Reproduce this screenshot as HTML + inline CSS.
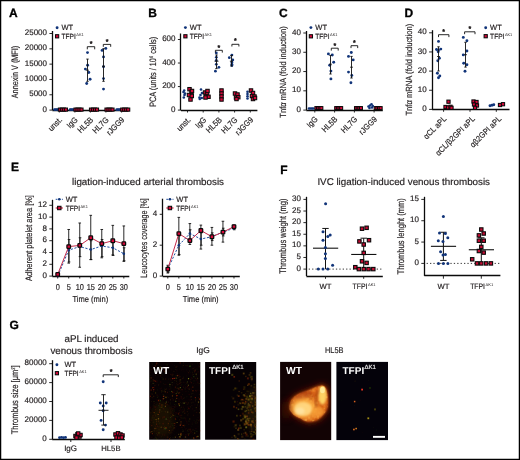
<!DOCTYPE html>
<html><head><meta charset="utf-8"><style>
html,body{margin:0;padding:0;background:#fff;}
svg{display:block;font-family:"Liberation Sans",sans-serif;will-change:transform;text-rendering:geometricPrecision;}
</style></head><body>
<svg width="520" height="460" viewBox="0 0 520 460">
<defs>
<filter id="blur05" x="-10%" y="-10%" width="120%" height="120%"><feGaussianBlur stdDeviation="0.45"/></filter>
<filter id="blur06" x="-10%" y="-10%" width="120%" height="120%"><feGaussianBlur stdDeviation="0.7"/></filter>
<filter id="blur1" x="-50%" y="-50%" width="200%" height="200%"><feGaussianBlur stdDeviation="1.2"/></filter>
<filter id="blur2" x="-50%" y="-50%" width="200%" height="200%"><feGaussianBlur stdDeviation="3"/></filter>
</defs>
<rect x="0" y="0" width="520" height="460" fill="#fff"/>
<text x="9.00" y="16.80" font-size="12.0" text-anchor="start" font-weight="bold" fill="#000" stroke="#000" stroke-width="0.3">A</text>
<text x="0.00" y="0.00" font-size="9.3" text-anchor="middle" font-weight="normal" fill="#231f20" stroke="#231f20" stroke-width="0.18" transform="translate(18.00,72.00) rotate(-90)" textLength="52.5" lengthAdjust="spacingAndGlyphs">Annexin V (MFI)</text>
<line x1="52.50" y1="31.00" x2="52.50" y2="110.10" stroke="#0a0a0a" stroke-width="1.3"/>
<line x1="49.40" y1="110.10" x2="52.40" y2="110.10" stroke="#111" stroke-width="0.9"/>
<text x="47.00" y="111.70" font-size="8.0" text-anchor="end" font-weight="normal" fill="#231f20" stroke="#231f20" stroke-width="0.18">0</text>
<line x1="49.40" y1="94.78" x2="52.40" y2="94.78" stroke="#111" stroke-width="0.9"/>
<text x="47.00" y="96.38" font-size="8.0" text-anchor="end" font-weight="normal" fill="#231f20" stroke="#231f20" stroke-width="0.18">5000</text>
<line x1="49.40" y1="79.46" x2="52.40" y2="79.46" stroke="#111" stroke-width="0.9"/>
<text x="47.00" y="81.06" font-size="8.0" text-anchor="end" font-weight="normal" fill="#231f20" stroke="#231f20" stroke-width="0.18">10000</text>
<line x1="49.40" y1="64.14" x2="52.40" y2="64.14" stroke="#111" stroke-width="0.9"/>
<text x="47.00" y="65.74" font-size="8.0" text-anchor="end" font-weight="normal" fill="#231f20" stroke="#231f20" stroke-width="0.18">15000</text>
<line x1="49.40" y1="48.82" x2="52.40" y2="48.82" stroke="#111" stroke-width="0.9"/>
<text x="47.00" y="50.42" font-size="8.0" text-anchor="end" font-weight="normal" fill="#231f20" stroke="#231f20" stroke-width="0.18">20000</text>
<line x1="49.40" y1="33.50" x2="52.40" y2="33.50" stroke="#111" stroke-width="0.9"/>
<text x="47.00" y="35.10" font-size="8.0" text-anchor="end" font-weight="normal" fill="#231f20" stroke="#231f20" stroke-width="0.18">25000</text>
<line x1="52.40" y1="110.50" x2="129.50" y2="110.50" stroke="#0a0a0a" stroke-width="1.3"/>
<line x1="59.30" y1="110.10" x2="59.30" y2="112.50" stroke="#111" stroke-width="0.9"/>
<line x1="74.90" y1="110.10" x2="74.90" y2="112.50" stroke="#111" stroke-width="0.9"/>
<line x1="90.40" y1="110.10" x2="90.40" y2="112.50" stroke="#111" stroke-width="0.9"/>
<line x1="105.90" y1="110.10" x2="105.90" y2="112.50" stroke="#111" stroke-width="0.9"/>
<line x1="121.60" y1="110.10" x2="121.60" y2="112.50" stroke="#111" stroke-width="0.9"/>
<circle cx="57.10" cy="27.80" r="1.45" fill="#113479"/>
<text x="61.50" y="30.40" font-size="7.5" text-anchor="start" font-weight="normal" fill="#231f20" stroke="#231f20" stroke-width="0.18">WT</text>
<rect x="55.50" y="34.70" width="3.2" height="3.2" fill="#d8083a" stroke="#0a0a0a" stroke-width="1.05"/>
<text x="61.50" y="38.90" font-size="7.5" text-anchor="start" font-weight="normal" fill="#231f20" stroke="#231f20" stroke-width="0.18" textLength="14.3" lengthAdjust="spacingAndGlyphs">TFPI</text>
<text x="76.30" y="36.00" font-size="3.9" text-anchor="start" font-weight="normal" fill="#231f20" stroke-width="0">ΔK1</text>
<circle cx="54.40" cy="109.60" r="1.3" fill="#113479"/>
<circle cx="55.50" cy="109.60" r="1.3" fill="#113479"/>
<circle cx="56.60" cy="109.60" r="1.3" fill="#113479"/>
<circle cx="57.70" cy="109.60" r="1.3" fill="#113479"/>
<rect x="58.35" y="108.05" width="3.1" height="3.1" fill="#d8083a" stroke="#0a0a0a" stroke-width="1.05"/>
<rect x="60.35" y="108.05" width="3.1" height="3.1" fill="#d8083a" stroke="#0a0a0a" stroke-width="1.05"/>
<rect x="62.35" y="108.05" width="3.1" height="3.1" fill="#d8083a" stroke="#0a0a0a" stroke-width="1.05"/>
<rect x="64.35" y="108.05" width="3.1" height="3.1" fill="#d8083a" stroke="#0a0a0a" stroke-width="1.05"/>
<circle cx="70.00" cy="109.60" r="1.3" fill="#113479"/>
<circle cx="71.10" cy="109.60" r="1.3" fill="#113479"/>
<circle cx="72.20" cy="109.60" r="1.3" fill="#113479"/>
<circle cx="73.30" cy="109.60" r="1.3" fill="#113479"/>
<rect x="73.95" y="108.05" width="3.1" height="3.1" fill="#d8083a" stroke="#0a0a0a" stroke-width="1.05"/>
<rect x="75.95" y="108.05" width="3.1" height="3.1" fill="#d8083a" stroke="#0a0a0a" stroke-width="1.05"/>
<rect x="77.95" y="108.05" width="3.1" height="3.1" fill="#d8083a" stroke="#0a0a0a" stroke-width="1.05"/>
<rect x="79.95" y="108.05" width="3.1" height="3.1" fill="#d8083a" stroke="#0a0a0a" stroke-width="1.05"/>
<rect x="89.45" y="108.05" width="3.1" height="3.1" fill="#d8083a" stroke="#0a0a0a" stroke-width="1.05"/>
<rect x="91.45" y="108.05" width="3.1" height="3.1" fill="#d8083a" stroke="#0a0a0a" stroke-width="1.05"/>
<rect x="93.45" y="108.05" width="3.1" height="3.1" fill="#d8083a" stroke="#0a0a0a" stroke-width="1.05"/>
<rect x="95.45" y="108.05" width="3.1" height="3.1" fill="#d8083a" stroke="#0a0a0a" stroke-width="1.05"/>
<rect x="104.95" y="108.05" width="3.1" height="3.1" fill="#d8083a" stroke="#0a0a0a" stroke-width="1.05"/>
<rect x="106.95" y="108.05" width="3.1" height="3.1" fill="#d8083a" stroke="#0a0a0a" stroke-width="1.05"/>
<rect x="108.95" y="108.05" width="3.1" height="3.1" fill="#d8083a" stroke="#0a0a0a" stroke-width="1.05"/>
<rect x="110.95" y="108.05" width="3.1" height="3.1" fill="#d8083a" stroke="#0a0a0a" stroke-width="1.05"/>
<circle cx="116.70" cy="109.60" r="1.3" fill="#113479"/>
<circle cx="117.80" cy="109.60" r="1.3" fill="#113479"/>
<circle cx="118.90" cy="109.60" r="1.3" fill="#113479"/>
<circle cx="120.00" cy="109.60" r="1.3" fill="#113479"/>
<rect x="120.65" y="108.05" width="3.1" height="3.1" fill="#d8083a" stroke="#0a0a0a" stroke-width="1.05"/>
<rect x="122.65" y="108.05" width="3.1" height="3.1" fill="#d8083a" stroke="#0a0a0a" stroke-width="1.05"/>
<rect x="124.65" y="108.05" width="3.1" height="3.1" fill="#d8083a" stroke="#0a0a0a" stroke-width="1.05"/>
<rect x="126.65" y="108.05" width="3.1" height="3.1" fill="#d8083a" stroke="#0a0a0a" stroke-width="1.05"/>
<circle cx="87.50" cy="52.60" r="1.45" fill="#113479"/>
<circle cx="87.60" cy="65.20" r="1.45" fill="#113479"/>
<circle cx="85.40" cy="69.10" r="1.45" fill="#113479"/>
<circle cx="88.80" cy="72.50" r="1.45" fill="#113479"/>
<circle cx="90.10" cy="79.30" r="1.45" fill="#113479"/>
<circle cx="86.70" cy="83.50" r="1.45" fill="#113479"/>
<line x1="87.50" y1="59.10" x2="87.50" y2="81.30" stroke="#111" stroke-width="0.9"/>
<line x1="86.30" y1="59.10" x2="88.70" y2="59.10" stroke="#111" stroke-width="0.9"/>
<line x1="86.30" y1="81.30" x2="88.70" y2="81.30" stroke="#111" stroke-width="0.9"/>
<line x1="86.10" y1="70.20" x2="88.90" y2="70.20" stroke="#111" stroke-width="0.9"/>
<circle cx="102.10" cy="50.40" r="1.45" fill="#113479"/>
<circle cx="105.80" cy="48.40" r="1.45" fill="#113479"/>
<circle cx="103.50" cy="56.90" r="1.45" fill="#113479"/>
<circle cx="103.50" cy="66.70" r="1.45" fill="#113479"/>
<circle cx="103.50" cy="78.60" r="1.45" fill="#113479"/>
<circle cx="103.50" cy="89.10" r="1.45" fill="#113479"/>
<line x1="103.50" y1="48.70" x2="103.50" y2="81.30" stroke="#111" stroke-width="0.9"/>
<line x1="102.30" y1="48.70" x2="104.70" y2="48.70" stroke="#111" stroke-width="0.9"/>
<line x1="102.30" y1="81.30" x2="104.70" y2="81.30" stroke="#111" stroke-width="0.9"/>
<line x1="102.10" y1="66.30" x2="104.90" y2="66.30" stroke="#111" stroke-width="0.9"/>
<path d="M87.30,49.30 V46.70 H94.70 V49.30" fill="none" stroke="#111" stroke-width="0.9"/>
<text x="91.00" y="46.09" font-size="7.0" text-anchor="middle" font-weight="normal" fill="#231f20" stroke="#231f20" stroke-width="0.45">*</text>
<path d="M103.30,46.80 V44.40 H110.70 V46.80" fill="none" stroke="#111" stroke-width="0.9"/>
<text x="107.10" y="43.59" font-size="7.0" text-anchor="middle" font-weight="normal" fill="#231f20" stroke="#231f20" stroke-width="0.45">*</text>
<text x="0.00" y="0.00" font-size="8.2" text-anchor="end" font-weight="normal" fill="#231f20" stroke="#231f20" stroke-width="0.18" transform="translate(62.70,120.40) rotate(-45)" textLength="16.0" lengthAdjust="spacingAndGlyphs">unst.</text>
<text x="0.00" y="0.00" font-size="8.2" text-anchor="end" font-weight="normal" fill="#231f20" stroke="#231f20" stroke-width="0.18" transform="translate(78.30,120.40) rotate(-45)" textLength="11.89" lengthAdjust="spacingAndGlyphs">IgG</text>
<text x="0.00" y="0.00" font-size="8.2" text-anchor="end" font-weight="normal" fill="#231f20" stroke="#231f20" stroke-width="0.18" transform="translate(93.80,120.40) rotate(-45)" textLength="18.46" lengthAdjust="spacingAndGlyphs">HL5B</text>
<text x="0.00" y="0.00" font-size="8.2" text-anchor="end" font-weight="normal" fill="#231f20" stroke="#231f20" stroke-width="0.18" transform="translate(109.30,120.40) rotate(-45)" textLength="19.28" lengthAdjust="spacingAndGlyphs">HL7G</text>
<text x="0.00" y="0.00" font-size="8.2" text-anchor="end" font-weight="normal" fill="#231f20" stroke="#231f20" stroke-width="0.18" transform="translate(125.00,120.40) rotate(-45)" textLength="21.73" lengthAdjust="spacingAndGlyphs">rJGG9</text>
<text x="148.30" y="16.80" font-size="12.0" text-anchor="start" font-weight="bold" fill="#000" stroke="#000" stroke-width="0.3">B</text>
<text x="0.00" y="0.00" font-size="9.3" text-anchor="middle" font-weight="normal" fill="#231f20" stroke="#231f20" stroke-width="0.18" transform="translate(155.60,71.80) rotate(-90)" textLength="70.0" lengthAdjust="spacingAndGlyphs">PCA (units / 10<tspan font-size="5" dy="-3">6</tspan><tspan dy="3"> cells)</tspan></text>
<line x1="180.50" y1="33.50" x2="180.50" y2="110.10" stroke="#0a0a0a" stroke-width="1.3"/>
<line x1="177.90" y1="110.10" x2="180.90" y2="110.10" stroke="#111" stroke-width="0.9"/>
<text x="175.50" y="111.70" font-size="8.0" text-anchor="end" font-weight="normal" fill="#231f20" stroke="#231f20" stroke-width="0.18">0</text>
<line x1="177.90" y1="86.57" x2="180.90" y2="86.57" stroke="#111" stroke-width="0.9"/>
<text x="175.50" y="88.17" font-size="8.0" text-anchor="end" font-weight="normal" fill="#231f20" stroke="#231f20" stroke-width="0.18">200</text>
<line x1="177.90" y1="63.03" x2="180.90" y2="63.03" stroke="#111" stroke-width="0.9"/>
<text x="175.50" y="64.63" font-size="8.0" text-anchor="end" font-weight="normal" fill="#231f20" stroke="#231f20" stroke-width="0.18">400</text>
<line x1="177.90" y1="39.50" x2="180.90" y2="39.50" stroke="#111" stroke-width="0.9"/>
<text x="175.50" y="41.10" font-size="8.0" text-anchor="end" font-weight="normal" fill="#231f20" stroke="#231f20" stroke-width="0.18">600</text>
<line x1="180.90" y1="110.50" x2="257.40" y2="110.50" stroke="#0a0a0a" stroke-width="1.3"/>
<line x1="187.50" y1="110.10" x2="187.50" y2="112.50" stroke="#111" stroke-width="0.9"/>
<line x1="203.20" y1="110.10" x2="203.20" y2="112.50" stroke="#111" stroke-width="0.9"/>
<line x1="218.90" y1="110.10" x2="218.90" y2="112.50" stroke="#111" stroke-width="0.9"/>
<line x1="234.60" y1="110.10" x2="234.60" y2="112.50" stroke="#111" stroke-width="0.9"/>
<line x1="250.30" y1="110.10" x2="250.30" y2="112.50" stroke="#111" stroke-width="0.9"/>
<circle cx="185.40" cy="27.60" r="1.45" fill="#113479"/>
<text x="189.80" y="30.20" font-size="7.5" text-anchor="start" font-weight="normal" fill="#231f20" stroke="#231f20" stroke-width="0.18">WT</text>
<rect x="183.80" y="34.70" width="3.2" height="3.2" fill="#d8083a" stroke="#0a0a0a" stroke-width="1.05"/>
<text x="189.80" y="38.90" font-size="7.5" text-anchor="start" font-weight="normal" fill="#231f20" stroke="#231f20" stroke-width="0.18" textLength="14.3" lengthAdjust="spacingAndGlyphs">TFPI</text>
<text x="204.60" y="36.00" font-size="3.9" text-anchor="start" font-weight="normal" fill="#231f20" stroke-width="0">ΔK1</text>
<circle cx="183.50" cy="92.00" r="1.3" fill="#113479"/>
<circle cx="184.50" cy="95.00" r="1.3" fill="#113479"/>
<circle cx="183.80" cy="97.50" r="1.3" fill="#113479"/>
<circle cx="185.00" cy="93.50" r="1.3" fill="#113479"/>
<circle cx="184.20" cy="90.50" r="1.3" fill="#113479"/>
<rect x="187.80" y="87.50" width="3.4" height="3.4" fill="#d8083a" stroke="#0a0a0a" stroke-width="1.05"/>
<rect x="189.80" y="90.30" width="3.4" height="3.4" fill="#d8083a" stroke="#0a0a0a" stroke-width="1.05"/>
<rect x="187.30" y="93.30" width="3.4" height="3.4" fill="#d8083a" stroke="#0a0a0a" stroke-width="1.05"/>
<rect x="190.10" y="94.30" width="3.4" height="3.4" fill="#d8083a" stroke="#0a0a0a" stroke-width="1.05"/>
<rect x="188.80" y="97.80" width="3.4" height="3.4" fill="#d8083a" stroke="#0a0a0a" stroke-width="1.05"/>
<rect x="190.30" y="89.30" width="3.4" height="3.4" fill="#d8083a" stroke="#0a0a0a" stroke-width="1.05"/>
<circle cx="199.50" cy="97.50" r="1.3" fill="#113479"/>
<circle cx="200.50" cy="95.00" r="1.3" fill="#113479"/>
<circle cx="201.80" cy="98.00" r="1.3" fill="#113479"/>
<circle cx="201.00" cy="89.50" r="1.3" fill="#113479"/>
<circle cx="202.00" cy="93.00" r="1.3" fill="#113479"/>
<circle cx="199.80" cy="99.00" r="1.3" fill="#113479"/>
<rect x="203.30" y="90.80" width="3.4" height="3.4" fill="#d8083a" stroke="#0a0a0a" stroke-width="1.05"/>
<rect x="205.30" y="91.80" width="3.4" height="3.4" fill="#d8083a" stroke="#0a0a0a" stroke-width="1.05"/>
<rect x="204.30" y="94.80" width="3.4" height="3.4" fill="#d8083a" stroke="#0a0a0a" stroke-width="1.05"/>
<rect x="206.80" y="95.10" width="3.4" height="3.4" fill="#d8083a" stroke="#0a0a0a" stroke-width="1.05"/>
<rect x="203.80" y="95.80" width="3.4" height="3.4" fill="#d8083a" stroke="#0a0a0a" stroke-width="1.05"/>
<rect x="205.80" y="89.30" width="3.4" height="3.4" fill="#d8083a" stroke="#0a0a0a" stroke-width="1.05"/>
<rect x="219.80" y="88.80" width="3.4" height="3.4" fill="#d8083a" stroke="#0a0a0a" stroke-width="1.05"/>
<rect x="219.80" y="91.80" width="3.4" height="3.4" fill="#d8083a" stroke="#0a0a0a" stroke-width="1.05"/>
<rect x="219.80" y="94.80" width="3.4" height="3.4" fill="#d8083a" stroke="#0a0a0a" stroke-width="1.05"/>
<rect x="219.80" y="97.80" width="3.4" height="3.4" fill="#d8083a" stroke="#0a0a0a" stroke-width="1.05"/>
<rect x="233.30" y="91.80" width="3.4" height="3.4" fill="#d8083a" stroke="#0a0a0a" stroke-width="1.05"/>
<rect x="235.80" y="92.80" width="3.4" height="3.4" fill="#d8083a" stroke="#0a0a0a" stroke-width="1.05"/>
<rect x="234.30" y="95.80" width="3.4" height="3.4" fill="#d8083a" stroke="#0a0a0a" stroke-width="1.05"/>
<rect x="236.60" y="95.50" width="3.4" height="3.4" fill="#d8083a" stroke="#0a0a0a" stroke-width="1.05"/>
<rect x="234.80" y="97.30" width="3.4" height="3.4" fill="#d8083a" stroke="#0a0a0a" stroke-width="1.05"/>
<circle cx="247.50" cy="91.80" r="1.3" fill="#113479"/>
<circle cx="247.50" cy="94.00" r="1.3" fill="#113479"/>
<circle cx="247.50" cy="96.30" r="1.3" fill="#113479"/>
<circle cx="247.50" cy="98.50" r="1.3" fill="#113479"/>
<rect x="249.30" y="88.80" width="3.4" height="3.4" fill="#d8083a" stroke="#0a0a0a" stroke-width="1.05"/>
<rect x="251.30" y="91.30" width="3.4" height="3.4" fill="#d8083a" stroke="#0a0a0a" stroke-width="1.05"/>
<rect x="250.30" y="94.30" width="3.4" height="3.4" fill="#d8083a" stroke="#0a0a0a" stroke-width="1.05"/>
<rect x="252.80" y="94.80" width="3.4" height="3.4" fill="#d8083a" stroke="#0a0a0a" stroke-width="1.05"/>
<rect x="251.30" y="97.30" width="3.4" height="3.4" fill="#d8083a" stroke="#0a0a0a" stroke-width="1.05"/>
<rect x="253.30" y="96.30" width="3.4" height="3.4" fill="#d8083a" stroke="#0a0a0a" stroke-width="1.05"/>
<circle cx="216.30" cy="53.00" r="1.4" fill="#113479"/>
<circle cx="216.30" cy="57.30" r="1.4" fill="#113479"/>
<circle cx="216.30" cy="60.50" r="1.4" fill="#113479"/>
<circle cx="216.30" cy="64.30" r="1.4" fill="#113479"/>
<circle cx="218.90" cy="67.30" r="1.4" fill="#113479"/>
<circle cx="215.40" cy="71.20" r="1.4" fill="#113479"/>
<line x1="216.50" y1="55.00" x2="216.50" y2="68.60" stroke="#111" stroke-width="0.9"/>
<line x1="215.30" y1="55.00" x2="217.70" y2="55.00" stroke="#111" stroke-width="0.9"/>
<line x1="215.30" y1="68.60" x2="217.70" y2="68.60" stroke="#111" stroke-width="0.9"/>
<line x1="214.50" y1="61.20" x2="218.50" y2="61.20" stroke="#111" stroke-width="0.9"/>
<circle cx="231.90" cy="55.10" r="1.4" fill="#113479"/>
<circle cx="229.30" cy="57.70" r="1.4" fill="#113479"/>
<circle cx="232.80" cy="59.90" r="1.4" fill="#113479"/>
<circle cx="231.90" cy="62.50" r="1.4" fill="#113479"/>
<circle cx="231.90" cy="64.30" r="1.4" fill="#113479"/>
<circle cx="231.90" cy="65.60" r="1.4" fill="#113479"/>
<line x1="231.50" y1="55.50" x2="231.50" y2="66.00" stroke="#111" stroke-width="0.9"/>
<line x1="230.30" y1="55.50" x2="232.70" y2="55.50" stroke="#111" stroke-width="0.9"/>
<line x1="230.30" y1="66.00" x2="232.70" y2="66.00" stroke="#111" stroke-width="0.9"/>
<line x1="229.90" y1="61.20" x2="233.10" y2="61.20" stroke="#111" stroke-width="0.9"/>
<path d="M215.40,52.60 V50.30 H222.30 V52.60" fill="none" stroke="#111" stroke-width="0.9"/>
<text x="218.90" y="49.99" font-size="7.0" text-anchor="middle" font-weight="normal" fill="#231f20" stroke="#231f20" stroke-width="0.45">*</text>
<path d="M231.90,46.50 V44.30 H238.90 V46.50" fill="none" stroke="#111" stroke-width="0.9"/>
<text x="235.40" y="43.49" font-size="7.0" text-anchor="middle" font-weight="normal" fill="#231f20" stroke="#231f20" stroke-width="0.45">*</text>
<text x="0.00" y="0.00" font-size="8.2" text-anchor="end" font-weight="normal" fill="#231f20" stroke="#231f20" stroke-width="0.18" transform="translate(191.20,120.40) rotate(-45)" textLength="16.0" lengthAdjust="spacingAndGlyphs">unst.</text>
<text x="0.00" y="0.00" font-size="8.2" text-anchor="end" font-weight="normal" fill="#231f20" stroke="#231f20" stroke-width="0.18" transform="translate(206.90,120.40) rotate(-45)" textLength="11.89" lengthAdjust="spacingAndGlyphs">IgG</text>
<text x="0.00" y="0.00" font-size="8.2" text-anchor="end" font-weight="normal" fill="#231f20" stroke="#231f20" stroke-width="0.18" transform="translate(222.40,120.40) rotate(-45)" textLength="18.46" lengthAdjust="spacingAndGlyphs">HL5B</text>
<text x="0.00" y="0.00" font-size="8.2" text-anchor="end" font-weight="normal" fill="#231f20" stroke="#231f20" stroke-width="0.18" transform="translate(238.00,120.40) rotate(-45)" textLength="19.28" lengthAdjust="spacingAndGlyphs">HL7G</text>
<text x="0.00" y="0.00" font-size="8.2" text-anchor="end" font-weight="normal" fill="#231f20" stroke="#231f20" stroke-width="0.18" transform="translate(253.80,120.40) rotate(-45)" textLength="21.73" lengthAdjust="spacingAndGlyphs">rJGG9</text>
<text x="279.10" y="16.80" font-size="12.0" text-anchor="start" font-weight="bold" fill="#000" stroke="#000" stroke-width="0.3">C</text>
<text x="0.00" y="0.00" font-size="8.9" text-anchor="middle" font-weight="normal" fill="#231f20" stroke="#231f20" stroke-width="0.18" transform="translate(286.00,72.00) rotate(-90)" textLength="91.4" lengthAdjust="spacingAndGlyphs">Tnf<tspan font-style="italic">α</tspan> mRNA (fold induction)</text>
<line x1="306.50" y1="31.00" x2="306.50" y2="110.10" stroke="#0a0a0a" stroke-width="1.3"/>
<line x1="303.30" y1="110.10" x2="306.30" y2="110.10" stroke="#111" stroke-width="0.9"/>
<text x="300.90" y="111.70" font-size="8.0" text-anchor="end" font-weight="normal" fill="#231f20" stroke="#231f20" stroke-width="0.18">0</text>
<line x1="303.30" y1="90.82" x2="306.30" y2="90.82" stroke="#111" stroke-width="0.9"/>
<text x="300.90" y="92.42" font-size="8.0" text-anchor="end" font-weight="normal" fill="#231f20" stroke="#231f20" stroke-width="0.18">10</text>
<line x1="303.30" y1="71.55" x2="306.30" y2="71.55" stroke="#111" stroke-width="0.9"/>
<text x="300.90" y="73.15" font-size="8.0" text-anchor="end" font-weight="normal" fill="#231f20" stroke="#231f20" stroke-width="0.18">20</text>
<line x1="303.30" y1="52.27" x2="306.30" y2="52.27" stroke="#111" stroke-width="0.9"/>
<text x="300.90" y="53.88" font-size="8.0" text-anchor="end" font-weight="normal" fill="#231f20" stroke="#231f20" stroke-width="0.18">30</text>
<line x1="303.30" y1="33.00" x2="306.30" y2="33.00" stroke="#111" stroke-width="0.9"/>
<text x="300.90" y="34.60" font-size="8.0" text-anchor="end" font-weight="normal" fill="#231f20" stroke="#231f20" stroke-width="0.18">40</text>
<line x1="306.30" y1="110.50" x2="382.80" y2="110.50" stroke="#0a0a0a" stroke-width="1.3"/>
<line x1="314.80" y1="110.10" x2="314.80" y2="112.50" stroke="#111" stroke-width="0.9"/>
<line x1="334.60" y1="110.10" x2="334.60" y2="112.50" stroke="#111" stroke-width="0.9"/>
<line x1="354.40" y1="110.10" x2="354.40" y2="112.50" stroke="#111" stroke-width="0.9"/>
<line x1="374.10" y1="110.10" x2="374.10" y2="112.50" stroke="#111" stroke-width="0.9"/>
<circle cx="310.90" cy="27.60" r="1.45" fill="#113479"/>
<text x="315.30" y="30.20" font-size="7.5" text-anchor="start" font-weight="normal" fill="#231f20" stroke="#231f20" stroke-width="0.18">WT</text>
<rect x="309.30" y="34.70" width="3.2" height="3.2" fill="#d8083a" stroke="#0a0a0a" stroke-width="1.05"/>
<text x="315.30" y="38.90" font-size="7.5" text-anchor="start" font-weight="normal" fill="#231f20" stroke="#231f20" stroke-width="0.18" textLength="14.3" lengthAdjust="spacingAndGlyphs">TFPI</text>
<text x="330.10" y="36.00" font-size="3.9" text-anchor="start" font-weight="normal" fill="#231f20" stroke-width="0">ΔK1</text>
<circle cx="309.00" cy="108.50" r="1.3" fill="#113479"/>
<circle cx="310.50" cy="108.50" r="1.3" fill="#113479"/>
<circle cx="312.00" cy="108.50" r="1.3" fill="#113479"/>
<circle cx="313.40" cy="108.50" r="1.3" fill="#113479"/>
<rect x="314.90" y="106.60" width="3.0" height="3.0" fill="#d8083a" stroke="#0a0a0a" stroke-width="1.05"/>
<rect x="316.55" y="106.60" width="3.0" height="3.0" fill="#d8083a" stroke="#0a0a0a" stroke-width="1.05"/>
<rect x="318.20" y="106.60" width="3.0" height="3.0" fill="#d8083a" stroke="#0a0a0a" stroke-width="1.05"/>
<rect x="319.85" y="106.60" width="3.0" height="3.0" fill="#d8083a" stroke="#0a0a0a" stroke-width="1.05"/>
<rect x="334.70" y="106.60" width="3.0" height="3.0" fill="#d8083a" stroke="#0a0a0a" stroke-width="1.05"/>
<rect x="336.35" y="106.60" width="3.0" height="3.0" fill="#d8083a" stroke="#0a0a0a" stroke-width="1.05"/>
<rect x="338.00" y="106.60" width="3.0" height="3.0" fill="#d8083a" stroke="#0a0a0a" stroke-width="1.05"/>
<rect x="339.65" y="106.60" width="3.0" height="3.0" fill="#d8083a" stroke="#0a0a0a" stroke-width="1.05"/>
<rect x="354.50" y="106.60" width="3.0" height="3.0" fill="#d8083a" stroke="#0a0a0a" stroke-width="1.05"/>
<rect x="356.15" y="106.60" width="3.0" height="3.0" fill="#d8083a" stroke="#0a0a0a" stroke-width="1.05"/>
<rect x="357.80" y="106.60" width="3.0" height="3.0" fill="#d8083a" stroke="#0a0a0a" stroke-width="1.05"/>
<rect x="359.45" y="106.60" width="3.0" height="3.0" fill="#d8083a" stroke="#0a0a0a" stroke-width="1.05"/>
<rect x="374.20" y="106.60" width="3.0" height="3.0" fill="#d8083a" stroke="#0a0a0a" stroke-width="1.05"/>
<rect x="375.85" y="106.60" width="3.0" height="3.0" fill="#d8083a" stroke="#0a0a0a" stroke-width="1.05"/>
<rect x="377.50" y="106.60" width="3.0" height="3.0" fill="#d8083a" stroke="#0a0a0a" stroke-width="1.05"/>
<rect x="379.15" y="106.60" width="3.0" height="3.0" fill="#d8083a" stroke="#0a0a0a" stroke-width="1.05"/>
<circle cx="368.50" cy="106.50" r="1.3" fill="#113479"/>
<circle cx="370.00" cy="105.50" r="1.3" fill="#113479"/>
<circle cx="371.50" cy="104.30" r="1.3" fill="#113479"/>
<circle cx="369.50" cy="108.00" r="1.3" fill="#113479"/>
<circle cx="372.00" cy="107.50" r="1.3" fill="#113479"/>
<circle cx="372.80" cy="106.00" r="1.3" fill="#113479"/>
<circle cx="328.40" cy="53.90" r="1.45" fill="#113479"/>
<circle cx="332.30" cy="55.00" r="1.45" fill="#113479"/>
<circle cx="333.70" cy="62.30" r="1.45" fill="#113479"/>
<circle cx="329.70" cy="65.20" r="1.45" fill="#113479"/>
<circle cx="330.90" cy="71.10" r="1.45" fill="#113479"/>
<circle cx="330.90" cy="78.90" r="1.45" fill="#113479"/>
<line x1="330.50" y1="55.40" x2="330.50" y2="74.00" stroke="#111" stroke-width="0.9"/>
<line x1="329.30" y1="55.40" x2="331.70" y2="55.40" stroke="#111" stroke-width="0.9"/>
<line x1="329.30" y1="74.00" x2="331.70" y2="74.00" stroke="#111" stroke-width="0.9"/>
<line x1="329.10" y1="64.20" x2="331.90" y2="64.20" stroke="#111" stroke-width="0.9"/>
<circle cx="351.30" cy="52.50" r="1.45" fill="#113479"/>
<circle cx="348.50" cy="56.40" r="1.45" fill="#113479"/>
<circle cx="353.20" cy="59.90" r="1.45" fill="#113479"/>
<circle cx="348.50" cy="72.10" r="1.45" fill="#113479"/>
<circle cx="351.80" cy="75.40" r="1.45" fill="#113479"/>
<circle cx="350.90" cy="82.80" r="1.45" fill="#113479"/>
<line x1="351.50" y1="56.40" x2="351.50" y2="78.00" stroke="#111" stroke-width="0.9"/>
<line x1="350.30" y1="56.40" x2="352.70" y2="56.40" stroke="#111" stroke-width="0.9"/>
<line x1="350.30" y1="78.00" x2="352.70" y2="78.00" stroke="#111" stroke-width="0.9"/>
<line x1="350.10" y1="67.20" x2="352.90" y2="67.20" stroke="#111" stroke-width="0.9"/>
<path d="M331.30,50.60 V48.20 H338.20 V50.60" fill="none" stroke="#111" stroke-width="0.9"/>
<text x="334.80" y="47.59" font-size="7.0" text-anchor="middle" font-weight="normal" fill="#231f20" stroke="#231f20" stroke-width="0.45">*</text>
<path d="M351.00,48.10 V45.70 H357.70 V48.10" fill="none" stroke="#111" stroke-width="0.9"/>
<text x="354.40" y="45.19" font-size="7.0" text-anchor="middle" font-weight="normal" fill="#231f20" stroke="#231f20" stroke-width="0.45">*</text>
<text x="0.00" y="0.00" font-size="8.2" text-anchor="end" font-weight="normal" fill="#231f20" stroke="#231f20" stroke-width="0.18" transform="translate(318.30,119.80) rotate(-45)" textLength="11.89" lengthAdjust="spacingAndGlyphs">IgG</text>
<text x="0.00" y="0.00" font-size="8.2" text-anchor="end" font-weight="normal" fill="#231f20" stroke="#231f20" stroke-width="0.18" transform="translate(338.10,119.80) rotate(-45)" textLength="18.46" lengthAdjust="spacingAndGlyphs">HL5B</text>
<text x="0.00" y="0.00" font-size="8.2" text-anchor="end" font-weight="normal" fill="#231f20" stroke="#231f20" stroke-width="0.18" transform="translate(357.90,119.80) rotate(-45)" textLength="19.28" lengthAdjust="spacingAndGlyphs">HL7G</text>
<text x="0.00" y="0.00" font-size="8.2" text-anchor="end" font-weight="normal" fill="#231f20" stroke="#231f20" stroke-width="0.18" transform="translate(377.60,119.80) rotate(-45)" textLength="21.73" lengthAdjust="spacingAndGlyphs">rJGG9</text>
<text x="404.60" y="16.80" font-size="12.0" text-anchor="start" font-weight="bold" fill="#000" stroke="#000" stroke-width="0.3">D</text>
<text x="0.00" y="0.00" font-size="8.9" text-anchor="middle" font-weight="normal" fill="#231f20" stroke="#231f20" stroke-width="0.18" transform="translate(411.50,69.70) rotate(-90)" textLength="91.8" lengthAdjust="spacingAndGlyphs">Tnf<tspan font-style="italic">α</tspan> mRNA (fold induction)</text>
<line x1="432.50" y1="30.20" x2="432.50" y2="109.40" stroke="#0a0a0a" stroke-width="1.3"/>
<line x1="429.10" y1="109.40" x2="432.10" y2="109.40" stroke="#111" stroke-width="0.9"/>
<text x="426.70" y="111.00" font-size="8.0" text-anchor="end" font-weight="normal" fill="#231f20" stroke="#231f20" stroke-width="0.18">0</text>
<line x1="429.10" y1="90.25" x2="432.10" y2="90.25" stroke="#111" stroke-width="0.9"/>
<text x="426.70" y="91.85" font-size="8.0" text-anchor="end" font-weight="normal" fill="#231f20" stroke="#231f20" stroke-width="0.18">10</text>
<line x1="429.10" y1="71.10" x2="432.10" y2="71.10" stroke="#111" stroke-width="0.9"/>
<text x="426.70" y="72.70" font-size="8.0" text-anchor="end" font-weight="normal" fill="#231f20" stroke="#231f20" stroke-width="0.18">20</text>
<line x1="429.10" y1="51.95" x2="432.10" y2="51.95" stroke="#111" stroke-width="0.9"/>
<text x="426.70" y="53.55" font-size="8.0" text-anchor="end" font-weight="normal" fill="#231f20" stroke="#231f20" stroke-width="0.18">30</text>
<line x1="429.10" y1="32.80" x2="432.10" y2="32.80" stroke="#111" stroke-width="0.9"/>
<text x="426.70" y="34.40" font-size="8.0" text-anchor="end" font-weight="normal" fill="#231f20" stroke="#231f20" stroke-width="0.18">40</text>
<line x1="432.10" y1="109.50" x2="509.50" y2="109.50" stroke="#0a0a0a" stroke-width="1.3"/>
<line x1="443.60" y1="109.40" x2="443.60" y2="111.80" stroke="#111" stroke-width="0.9"/>
<line x1="470.00" y1="109.40" x2="470.00" y2="111.80" stroke="#111" stroke-width="0.9"/>
<line x1="496.30" y1="109.40" x2="496.30" y2="111.80" stroke="#111" stroke-width="0.9"/>
<circle cx="485.70" cy="27.70" r="1.45" fill="#113479"/>
<text x="490.10" y="30.30" font-size="7.5" text-anchor="start" font-weight="normal" fill="#231f20" stroke="#231f20" stroke-width="0.18">WT</text>
<rect x="484.10" y="34.60" width="3.2" height="3.2" fill="#d8083a" stroke="#0a0a0a" stroke-width="1.05"/>
<text x="490.10" y="38.80" font-size="7.5" text-anchor="start" font-weight="normal" fill="#231f20" stroke="#231f20" stroke-width="0.18" textLength="14.3" lengthAdjust="spacingAndGlyphs">TFPI</text>
<text x="504.90" y="35.90" font-size="3.9" text-anchor="start" font-weight="normal" fill="#231f20" stroke-width="0">ΔK1</text>
<circle cx="438.50" cy="41.40" r="1.45" fill="#113479"/>
<circle cx="436.50" cy="49.50" r="1.45" fill="#113479"/>
<circle cx="438.50" cy="50.10" r="1.45" fill="#113479"/>
<circle cx="440.80" cy="49.10" r="1.45" fill="#113479"/>
<circle cx="438.20" cy="51.70" r="1.45" fill="#113479"/>
<circle cx="439.40" cy="58.20" r="1.45" fill="#113479"/>
<circle cx="437.80" cy="60.80" r="1.45" fill="#113479"/>
<circle cx="437.40" cy="73.30" r="1.45" fill="#113479"/>
<circle cx="439.80" cy="76.00" r="1.45" fill="#113479"/>
<circle cx="438.50" cy="77.80" r="1.45" fill="#113479"/>
<line x1="438.50" y1="46.80" x2="438.50" y2="71.00" stroke="#111" stroke-width="0.9"/>
<line x1="437.30" y1="46.80" x2="439.70" y2="46.80" stroke="#111" stroke-width="0.9"/>
<line x1="437.30" y1="71.00" x2="439.70" y2="71.00" stroke="#111" stroke-width="0.9"/>
<line x1="437.10" y1="56.50" x2="439.90" y2="56.50" stroke="#111" stroke-width="0.9"/>
<rect x="446.90" y="100.10" width="3.2" height="3.2" fill="#d8083a" stroke="#0a0a0a" stroke-width="1.05"/>
<rect x="443.90" y="105.40" width="3.2" height="3.2" fill="#d8083a" stroke="#0a0a0a" stroke-width="1.05"/>
<rect x="446.40" y="105.90" width="3.2" height="3.2" fill="#d8083a" stroke="#0a0a0a" stroke-width="1.05"/>
<rect x="448.90" y="105.20" width="3.2" height="3.2" fill="#d8083a" stroke="#0a0a0a" stroke-width="1.05"/>
<rect x="449.90" y="106.20" width="3.2" height="3.2" fill="#d8083a" stroke="#0a0a0a" stroke-width="1.05"/>
<circle cx="463.30" cy="37.40" r="1.45" fill="#113479"/>
<circle cx="466.90" cy="40.70" r="1.45" fill="#113479"/>
<circle cx="466.90" cy="51.00" r="1.45" fill="#113479"/>
<circle cx="463.30" cy="54.90" r="1.45" fill="#113479"/>
<circle cx="463.70" cy="63.20" r="1.45" fill="#113479"/>
<circle cx="466.90" cy="64.70" r="1.45" fill="#113479"/>
<circle cx="465.00" cy="71.30" r="1.45" fill="#113479"/>
<line x1="465.50" y1="42.30" x2="465.50" y2="67.10" stroke="#111" stroke-width="0.9"/>
<line x1="464.30" y1="42.30" x2="466.70" y2="42.30" stroke="#111" stroke-width="0.9"/>
<line x1="464.30" y1="67.10" x2="466.70" y2="67.10" stroke="#111" stroke-width="0.9"/>
<line x1="464.10" y1="54.70" x2="466.90" y2="54.70" stroke="#111" stroke-width="0.9"/>
<rect x="471.90" y="99.90" width="3.2" height="3.2" fill="#d8083a" stroke="#0a0a0a" stroke-width="1.05"/>
<rect x="474.90" y="100.40" width="3.2" height="3.2" fill="#d8083a" stroke="#0a0a0a" stroke-width="1.05"/>
<rect x="472.40" y="102.90" width="3.2" height="3.2" fill="#d8083a" stroke="#0a0a0a" stroke-width="1.05"/>
<rect x="475.40" y="103.90" width="3.2" height="3.2" fill="#d8083a" stroke="#0a0a0a" stroke-width="1.05"/>
<rect x="473.40" y="106.20" width="3.2" height="3.2" fill="#d8083a" stroke="#0a0a0a" stroke-width="1.05"/>
<circle cx="490.00" cy="105.80" r="1.45" fill="#113479"/>
<circle cx="492.00" cy="105.30" r="1.45" fill="#113479"/>
<circle cx="493.80" cy="104.80" r="1.45" fill="#113479"/>
<rect x="498.40" y="103.40" width="3.2" height="3.2" fill="#d8083a" stroke="#0a0a0a" stroke-width="1.05"/>
<rect x="501.40" y="102.60" width="3.2" height="3.2" fill="#d8083a" stroke="#0a0a0a" stroke-width="1.05"/>
<path d="M438.50,37.10 V34.70 H448.90 V37.10" fill="none" stroke="#111" stroke-width="0.9"/>
<text x="443.70" y="34.09" font-size="7.0" text-anchor="middle" font-weight="normal" fill="#231f20" stroke="#231f20" stroke-width="0.45">*</text>
<path d="M464.60,34.20 V31.80 H475.00 V34.20" fill="none" stroke="#111" stroke-width="0.9"/>
<text x="469.80" y="30.89" font-size="7.0" text-anchor="middle" font-weight="normal" fill="#231f20" stroke="#231f20" stroke-width="0.45">*</text>
<text x="0.00" y="0.00" font-size="8.2" text-anchor="end" font-weight="normal" fill="#231f20" stroke="#231f20" stroke-width="0.18" transform="translate(447.00,119.40) rotate(-45)" textLength="28.61" lengthAdjust="spacingAndGlyphs">αCL aPL</text>
<text x="0.00" y="0.00" font-size="8.2" text-anchor="end" font-weight="normal" fill="#231f20" stroke="#231f20" stroke-width="0.18" transform="translate(475.40,119.40) rotate(-45)" textLength="51.99" lengthAdjust="spacingAndGlyphs">αCL/β2GPI aPL</text>
<text x="0.00" y="0.00" font-size="8.2" text-anchor="end" font-weight="normal" fill="#231f20" stroke="#231f20" stroke-width="0.18" transform="translate(501.80,119.40) rotate(-45)" textLength="40.51" lengthAdjust="spacingAndGlyphs">αβ2GPI aPL</text>
<text x="10.90" y="170.60" font-size="12.0" text-anchor="start" font-weight="bold" fill="#000" stroke="#000" stroke-width="0.3">E</text>
<text x="148.00" y="185.00" font-size="9.8" text-anchor="middle" font-weight="normal" fill="#231f20" stroke="#231f20" stroke-width="0.18">ligation-induced arterial thrombosis</text>
<line x1="52.50" y1="199.80" x2="52.50" y2="276.10" stroke="#0a0a0a" stroke-width="1.3"/>
<line x1="49.30" y1="276.10" x2="52.30" y2="276.10" stroke="#111" stroke-width="0.9"/>
<text x="46.90" y="277.70" font-size="8.0" text-anchor="end" font-weight="normal" fill="#231f20" stroke="#231f20" stroke-width="0.18">0</text>
<line x1="49.30" y1="264.30" x2="52.30" y2="264.30" stroke="#111" stroke-width="0.9"/>
<text x="46.90" y="265.90" font-size="8.0" text-anchor="end" font-weight="normal" fill="#231f20" stroke="#231f20" stroke-width="0.18">2</text>
<line x1="49.30" y1="252.50" x2="52.30" y2="252.50" stroke="#111" stroke-width="0.9"/>
<text x="46.90" y="254.10" font-size="8.0" text-anchor="end" font-weight="normal" fill="#231f20" stroke="#231f20" stroke-width="0.18">4</text>
<line x1="49.30" y1="240.70" x2="52.30" y2="240.70" stroke="#111" stroke-width="0.9"/>
<text x="46.90" y="242.30" font-size="8.0" text-anchor="end" font-weight="normal" fill="#231f20" stroke="#231f20" stroke-width="0.18">6</text>
<line x1="49.30" y1="228.90" x2="52.30" y2="228.90" stroke="#111" stroke-width="0.9"/>
<text x="46.90" y="230.50" font-size="8.0" text-anchor="end" font-weight="normal" fill="#231f20" stroke="#231f20" stroke-width="0.18">8</text>
<line x1="49.30" y1="217.10" x2="52.30" y2="217.10" stroke="#111" stroke-width="0.9"/>
<text x="46.90" y="218.70" font-size="8.0" text-anchor="end" font-weight="normal" fill="#231f20" stroke="#231f20" stroke-width="0.18">10</text>
<line x1="49.30" y1="205.30" x2="52.30" y2="205.30" stroke="#111" stroke-width="0.9"/>
<text x="46.90" y="206.90" font-size="8.0" text-anchor="end" font-weight="normal" fill="#231f20" stroke="#231f20" stroke-width="0.18">12</text>
<line x1="52.30" y1="276.50" x2="129.30" y2="276.50" stroke="#0a0a0a" stroke-width="1.3"/>
<line x1="57.70" y1="276.10" x2="57.70" y2="278.50" stroke="#111" stroke-width="0.9"/>
<text x="57.70" y="289.70" font-size="8.5" text-anchor="middle" font-weight="normal" fill="#231f20" stroke="#231f20" stroke-width="0.18" textLength="4.11" lengthAdjust="spacingAndGlyphs">0</text>
<line x1="68.72" y1="276.10" x2="68.72" y2="278.50" stroke="#111" stroke-width="0.9"/>
<text x="68.72" y="289.70" font-size="8.5" text-anchor="middle" font-weight="normal" fill="#231f20" stroke="#231f20" stroke-width="0.18" textLength="4.11" lengthAdjust="spacingAndGlyphs">5</text>
<line x1="79.74" y1="276.10" x2="79.74" y2="278.50" stroke="#111" stroke-width="0.9"/>
<text x="79.74" y="289.70" font-size="8.5" text-anchor="middle" font-weight="normal" fill="#231f20" stroke="#231f20" stroke-width="0.18" textLength="8.22" lengthAdjust="spacingAndGlyphs">10</text>
<line x1="90.76" y1="276.10" x2="90.76" y2="278.50" stroke="#111" stroke-width="0.9"/>
<text x="90.76" y="289.70" font-size="8.5" text-anchor="middle" font-weight="normal" fill="#231f20" stroke="#231f20" stroke-width="0.18" textLength="8.22" lengthAdjust="spacingAndGlyphs">15</text>
<line x1="101.78" y1="276.10" x2="101.78" y2="278.50" stroke="#111" stroke-width="0.9"/>
<text x="101.78" y="289.70" font-size="8.5" text-anchor="middle" font-weight="normal" fill="#231f20" stroke="#231f20" stroke-width="0.18" textLength="8.22" lengthAdjust="spacingAndGlyphs">20</text>
<line x1="112.80" y1="276.10" x2="112.80" y2="278.50" stroke="#111" stroke-width="0.9"/>
<text x="112.80" y="289.70" font-size="8.5" text-anchor="middle" font-weight="normal" fill="#231f20" stroke="#231f20" stroke-width="0.18" textLength="8.22" lengthAdjust="spacingAndGlyphs">25</text>
<line x1="123.82" y1="276.10" x2="123.82" y2="278.50" stroke="#111" stroke-width="0.9"/>
<text x="123.82" y="289.70" font-size="8.5" text-anchor="middle" font-weight="normal" fill="#231f20" stroke="#231f20" stroke-width="0.18" textLength="8.22" lengthAdjust="spacingAndGlyphs">30</text>
<text x="90.30" y="302.10" font-size="8.6" text-anchor="middle" font-weight="normal" fill="#231f20" stroke="#231f20" stroke-width="0.18" textLength="35.8" lengthAdjust="spacingAndGlyphs">Time (min)</text>
<text x="0.00" y="0.00" font-size="9.3" text-anchor="middle" font-weight="normal" fill="#231f20" stroke="#231f20" stroke-width="0.18" transform="translate(32.00,238.00) rotate(-90)" textLength="85.8" lengthAdjust="spacingAndGlyphs">Adherent platelet area [%]</text>
<line x1="69.02" y1="261.94" x2="69.02" y2="239.52" stroke="#111" stroke-width="0.9"/>
<line x1="67.72" y1="261.94" x2="70.32" y2="261.94" stroke="#111" stroke-width="0.9"/>
<line x1="67.72" y1="239.52" x2="70.32" y2="239.52" stroke="#111" stroke-width="0.9"/>
<line x1="68.72" y1="263.12" x2="68.72" y2="229.49" stroke="#111" stroke-width="0.9"/>
<line x1="67.42" y1="263.12" x2="70.02" y2="263.12" stroke="#111" stroke-width="0.9"/>
<line x1="67.42" y1="229.49" x2="70.02" y2="229.49" stroke="#111" stroke-width="0.9"/>
<line x1="80.04" y1="256.63" x2="80.04" y2="237.75" stroke="#111" stroke-width="0.9"/>
<line x1="78.74" y1="256.63" x2="81.34" y2="256.63" stroke="#111" stroke-width="0.9"/>
<line x1="78.74" y1="237.75" x2="81.34" y2="237.75" stroke="#111" stroke-width="0.9"/>
<line x1="79.74" y1="267.25" x2="79.74" y2="223.00" stroke="#111" stroke-width="0.9"/>
<line x1="78.44" y1="267.25" x2="81.04" y2="267.25" stroke="#111" stroke-width="0.9"/>
<line x1="78.44" y1="223.00" x2="81.04" y2="223.00" stroke="#111" stroke-width="0.9"/>
<line x1="91.06" y1="259.58" x2="91.06" y2="240.70" stroke="#111" stroke-width="0.9"/>
<line x1="89.76" y1="259.58" x2="92.36" y2="259.58" stroke="#111" stroke-width="0.9"/>
<line x1="89.76" y1="240.70" x2="92.36" y2="240.70" stroke="#111" stroke-width="0.9"/>
<line x1="90.76" y1="259.58" x2="90.76" y2="215.33" stroke="#111" stroke-width="0.9"/>
<line x1="89.46" y1="259.58" x2="92.06" y2="259.58" stroke="#111" stroke-width="0.9"/>
<line x1="89.46" y1="215.33" x2="92.06" y2="215.33" stroke="#111" stroke-width="0.9"/>
<line x1="102.08" y1="256.63" x2="102.08" y2="239.52" stroke="#111" stroke-width="0.9"/>
<line x1="100.78" y1="256.63" x2="103.38" y2="256.63" stroke="#111" stroke-width="0.9"/>
<line x1="100.78" y1="239.52" x2="103.38" y2="239.52" stroke="#111" stroke-width="0.9"/>
<line x1="101.78" y1="257.81" x2="101.78" y2="229.49" stroke="#111" stroke-width="0.9"/>
<line x1="100.48" y1="257.81" x2="103.08" y2="257.81" stroke="#111" stroke-width="0.9"/>
<line x1="100.48" y1="229.49" x2="103.08" y2="229.49" stroke="#111" stroke-width="0.9"/>
<line x1="113.10" y1="255.45" x2="113.10" y2="240.70" stroke="#111" stroke-width="0.9"/>
<line x1="111.80" y1="255.45" x2="114.40" y2="255.45" stroke="#111" stroke-width="0.9"/>
<line x1="111.80" y1="240.70" x2="114.40" y2="240.70" stroke="#111" stroke-width="0.9"/>
<line x1="112.80" y1="254.86" x2="112.80" y2="225.36" stroke="#111" stroke-width="0.9"/>
<line x1="111.50" y1="254.86" x2="114.10" y2="254.86" stroke="#111" stroke-width="0.9"/>
<line x1="111.50" y1="225.36" x2="114.10" y2="225.36" stroke="#111" stroke-width="0.9"/>
<line x1="124.12" y1="260.76" x2="124.12" y2="247.78" stroke="#111" stroke-width="0.9"/>
<line x1="122.82" y1="260.76" x2="125.42" y2="260.76" stroke="#111" stroke-width="0.9"/>
<line x1="122.82" y1="247.78" x2="125.42" y2="247.78" stroke="#111" stroke-width="0.9"/>
<line x1="123.82" y1="261.35" x2="123.82" y2="225.95" stroke="#111" stroke-width="0.9"/>
<line x1="122.52" y1="261.35" x2="125.12" y2="261.35" stroke="#111" stroke-width="0.9"/>
<line x1="122.52" y1="225.95" x2="125.12" y2="225.95" stroke="#111" stroke-width="0.9"/>
<polyline points="57.70,276.10 68.72,250.14 79.74,246.60 90.76,249.55 101.78,246.01 112.80,247.78 123.82,253.68" fill="none" stroke="#1f4f9f" stroke-width="1.0" stroke-dasharray="2.2,1.6"/>
<circle cx="57.70" cy="276.10" r="1.3" fill="#113479"/>
<circle cx="68.72" cy="250.14" r="1.3" fill="#113479"/>
<circle cx="79.74" cy="246.60" r="1.3" fill="#113479"/>
<circle cx="90.76" cy="249.55" r="1.3" fill="#113479"/>
<circle cx="101.78" cy="246.01" r="1.3" fill="#113479"/>
<circle cx="112.80" cy="247.78" r="1.3" fill="#113479"/>
<circle cx="123.82" cy="253.68" r="1.3" fill="#113479"/>
<polyline points="57.70,274.33 68.72,246.60 79.74,245.42 90.76,237.75 101.78,243.65 112.80,240.70 123.82,243.65" fill="none" stroke="#c42a4a" stroke-width="1.0"/>
<rect x="55.90" y="272.53" width="3.6" height="3.6" rx="0.6" fill="#d8083a" stroke="#0a0a0a" stroke-width="1.25"/>
<rect x="66.92" y="244.80" width="3.6" height="3.6" rx="0.6" fill="#d8083a" stroke="#0a0a0a" stroke-width="1.25"/>
<rect x="77.94" y="243.62" width="3.6" height="3.6" rx="0.6" fill="#d8083a" stroke="#0a0a0a" stroke-width="1.25"/>
<rect x="88.96" y="235.95" width="3.6" height="3.6" rx="0.6" fill="#d8083a" stroke="#0a0a0a" stroke-width="1.25"/>
<rect x="99.98" y="241.85" width="3.6" height="3.6" rx="0.6" fill="#d8083a" stroke="#0a0a0a" stroke-width="1.25"/>
<rect x="111.00" y="238.90" width="3.6" height="3.6" rx="0.6" fill="#d8083a" stroke="#0a0a0a" stroke-width="1.25"/>
<rect x="122.02" y="241.85" width="3.6" height="3.6" rx="0.6" fill="#d8083a" stroke="#0a0a0a" stroke-width="1.25"/>
<line x1="55.70" y1="199.3" x2="62.90" y2="199.3" stroke="#1f4f9f" stroke-width="1" stroke-dasharray="1.8,1.3"/>
<circle cx="59.30" cy="199.30" r="1.3" fill="#113479"/>
<text x="65.70" y="201.90" font-size="7.5" text-anchor="start" font-weight="normal" fill="#231f20" stroke="#231f20" stroke-width="0.18">WT</text>
<line x1="55.70" y1="208.00" x2="62.90" y2="208.00" stroke="#c8102e" stroke-width="1.1"/>
<rect x="57.60" y="206.30" width="3.4" height="3.4" fill="#d8083a" stroke="#0a0a0a" stroke-width="1.05"/>
<text x="65.70" y="210.60" font-size="7.5" text-anchor="start" font-weight="normal" fill="#231f20" stroke="#231f20" stroke-width="0.18" textLength="14.3" lengthAdjust="spacingAndGlyphs">TFPI</text>
<text x="80.50" y="207.70" font-size="3.9" text-anchor="start" font-weight="normal" fill="#231f20" stroke-width="0">ΔK1</text>
<line x1="162.50" y1="198.70" x2="162.50" y2="276.10" stroke="#0a0a0a" stroke-width="1.3"/>
<line x1="159.70" y1="276.10" x2="162.70" y2="276.10" stroke="#111" stroke-width="0.9"/>
<text x="157.30" y="277.70" font-size="8.0" text-anchor="end" font-weight="normal" fill="#231f20" stroke="#231f20" stroke-width="0.18">0</text>
<line x1="159.70" y1="245.20" x2="162.70" y2="245.20" stroke="#111" stroke-width="0.9"/>
<text x="157.30" y="246.80" font-size="8.0" text-anchor="end" font-weight="normal" fill="#231f20" stroke="#231f20" stroke-width="0.18">2</text>
<line x1="159.70" y1="214.30" x2="162.70" y2="214.30" stroke="#111" stroke-width="0.9"/>
<text x="157.30" y="215.90" font-size="8.0" text-anchor="end" font-weight="normal" fill="#231f20" stroke="#231f20" stroke-width="0.18">4</text>
<line x1="162.70" y1="276.50" x2="239.80" y2="276.50" stroke="#0a0a0a" stroke-width="1.3"/>
<line x1="167.80" y1="276.10" x2="167.80" y2="278.50" stroke="#111" stroke-width="0.9"/>
<text x="167.80" y="289.70" font-size="8.5" text-anchor="middle" font-weight="normal" fill="#231f20" stroke="#231f20" stroke-width="0.18" textLength="4.11" lengthAdjust="spacingAndGlyphs">0</text>
<line x1="178.83" y1="276.10" x2="178.83" y2="278.50" stroke="#111" stroke-width="0.9"/>
<text x="178.83" y="289.70" font-size="8.5" text-anchor="middle" font-weight="normal" fill="#231f20" stroke="#231f20" stroke-width="0.18" textLength="4.11" lengthAdjust="spacingAndGlyphs">5</text>
<line x1="189.86" y1="276.10" x2="189.86" y2="278.50" stroke="#111" stroke-width="0.9"/>
<text x="189.86" y="289.70" font-size="8.5" text-anchor="middle" font-weight="normal" fill="#231f20" stroke="#231f20" stroke-width="0.18" textLength="8.22" lengthAdjust="spacingAndGlyphs">10</text>
<line x1="200.89" y1="276.10" x2="200.89" y2="278.50" stroke="#111" stroke-width="0.9"/>
<text x="200.89" y="289.70" font-size="8.5" text-anchor="middle" font-weight="normal" fill="#231f20" stroke="#231f20" stroke-width="0.18" textLength="8.22" lengthAdjust="spacingAndGlyphs">15</text>
<line x1="211.92" y1="276.10" x2="211.92" y2="278.50" stroke="#111" stroke-width="0.9"/>
<text x="211.92" y="289.70" font-size="8.5" text-anchor="middle" font-weight="normal" fill="#231f20" stroke="#231f20" stroke-width="0.18" textLength="8.22" lengthAdjust="spacingAndGlyphs">20</text>
<line x1="222.95" y1="276.10" x2="222.95" y2="278.50" stroke="#111" stroke-width="0.9"/>
<text x="222.95" y="289.70" font-size="8.5" text-anchor="middle" font-weight="normal" fill="#231f20" stroke="#231f20" stroke-width="0.18" textLength="8.22" lengthAdjust="spacingAndGlyphs">25</text>
<line x1="233.98" y1="276.10" x2="233.98" y2="278.50" stroke="#111" stroke-width="0.9"/>
<text x="233.98" y="289.70" font-size="8.5" text-anchor="middle" font-weight="normal" fill="#231f20" stroke="#231f20" stroke-width="0.18" textLength="8.22" lengthAdjust="spacingAndGlyphs">30</text>
<text x="200.75" y="302.10" font-size="8.6" text-anchor="middle" font-weight="normal" fill="#231f20" stroke="#231f20" stroke-width="0.18" textLength="35.8" lengthAdjust="spacingAndGlyphs">Time (min)</text>
<text x="0.00" y="0.00" font-size="9.3" text-anchor="middle" font-weight="normal" fill="#231f20" stroke="#231f20" stroke-width="0.18" transform="translate(147.00,238.00) rotate(-90)" textLength="79.4" lengthAdjust="spacingAndGlyphs">Leucocytes coverage [%]</text>
<line x1="168.10" y1="272.24" x2="168.10" y2="266.83" stroke="#111" stroke-width="0.9"/>
<line x1="166.80" y1="272.24" x2="169.40" y2="272.24" stroke="#111" stroke-width="0.9"/>
<line x1="166.80" y1="266.83" x2="169.40" y2="266.83" stroke="#111" stroke-width="0.9"/>
<line x1="167.80" y1="273.01" x2="167.80" y2="265.29" stroke="#111" stroke-width="0.9"/>
<line x1="166.50" y1="273.01" x2="169.10" y2="273.01" stroke="#111" stroke-width="0.9"/>
<line x1="166.50" y1="265.29" x2="169.10" y2="265.29" stroke="#111" stroke-width="0.9"/>
<line x1="179.13" y1="254.47" x2="179.13" y2="235.93" stroke="#111" stroke-width="0.9"/>
<line x1="177.83" y1="254.47" x2="180.43" y2="254.47" stroke="#111" stroke-width="0.9"/>
<line x1="177.83" y1="235.93" x2="180.43" y2="235.93" stroke="#111" stroke-width="0.9"/>
<line x1="178.83" y1="255.24" x2="178.83" y2="217.39" stroke="#111" stroke-width="0.9"/>
<line x1="177.53" y1="255.24" x2="180.13" y2="255.24" stroke="#111" stroke-width="0.9"/>
<line x1="177.53" y1="217.39" x2="180.13" y2="217.39" stroke="#111" stroke-width="0.9"/>
<line x1="190.16" y1="239.02" x2="190.16" y2="229.75" stroke="#111" stroke-width="0.9"/>
<line x1="188.86" y1="239.02" x2="191.46" y2="239.02" stroke="#111" stroke-width="0.9"/>
<line x1="188.86" y1="229.75" x2="191.46" y2="229.75" stroke="#111" stroke-width="0.9"/>
<line x1="189.86" y1="244.43" x2="189.86" y2="223.57" stroke="#111" stroke-width="0.9"/>
<line x1="188.56" y1="244.43" x2="191.16" y2="244.43" stroke="#111" stroke-width="0.9"/>
<line x1="188.56" y1="223.57" x2="191.16" y2="223.57" stroke="#111" stroke-width="0.9"/>
<line x1="201.19" y1="245.20" x2="201.19" y2="232.84" stroke="#111" stroke-width="0.9"/>
<line x1="199.89" y1="245.20" x2="202.49" y2="245.20" stroke="#111" stroke-width="0.9"/>
<line x1="199.89" y1="232.84" x2="202.49" y2="232.84" stroke="#111" stroke-width="0.9"/>
<line x1="200.89" y1="249.06" x2="200.89" y2="225.12" stroke="#111" stroke-width="0.9"/>
<line x1="199.59" y1="249.06" x2="202.19" y2="249.06" stroke="#111" stroke-width="0.9"/>
<line x1="199.59" y1="225.12" x2="202.19" y2="225.12" stroke="#111" stroke-width="0.9"/>
<line x1="212.22" y1="240.57" x2="212.22" y2="232.84" stroke="#111" stroke-width="0.9"/>
<line x1="210.92" y1="240.57" x2="213.52" y2="240.57" stroke="#111" stroke-width="0.9"/>
<line x1="210.92" y1="232.84" x2="213.52" y2="232.84" stroke="#111" stroke-width="0.9"/>
<line x1="211.92" y1="245.20" x2="211.92" y2="227.43" stroke="#111" stroke-width="0.9"/>
<line x1="210.62" y1="245.20" x2="213.22" y2="245.20" stroke="#111" stroke-width="0.9"/>
<line x1="210.62" y1="227.43" x2="213.22" y2="227.43" stroke="#111" stroke-width="0.9"/>
<line x1="223.25" y1="235.93" x2="223.25" y2="228.21" stroke="#111" stroke-width="0.9"/>
<line x1="221.95" y1="235.93" x2="224.55" y2="235.93" stroke="#111" stroke-width="0.9"/>
<line x1="221.95" y1="228.21" x2="224.55" y2="228.21" stroke="#111" stroke-width="0.9"/>
<line x1="222.95" y1="242.11" x2="222.95" y2="221.25" stroke="#111" stroke-width="0.9"/>
<line x1="221.65" y1="242.11" x2="224.25" y2="242.11" stroke="#111" stroke-width="0.9"/>
<line x1="221.65" y1="221.25" x2="224.25" y2="221.25" stroke="#111" stroke-width="0.9"/>
<line x1="234.28" y1="229.75" x2="234.28" y2="226.66" stroke="#111" stroke-width="0.9"/>
<line x1="232.98" y1="229.75" x2="235.58" y2="229.75" stroke="#111" stroke-width="0.9"/>
<line x1="232.98" y1="226.66" x2="235.58" y2="226.66" stroke="#111" stroke-width="0.9"/>
<line x1="233.98" y1="228.98" x2="233.98" y2="225.12" stroke="#111" stroke-width="0.9"/>
<line x1="232.68" y1="228.98" x2="235.28" y2="228.98" stroke="#111" stroke-width="0.9"/>
<line x1="232.68" y1="225.12" x2="235.28" y2="225.12" stroke="#111" stroke-width="0.9"/>
<polyline points="167.80,269.15 178.83,245.20 189.86,233.61 200.89,239.02 211.92,236.70 222.95,232.07 233.98,228.21" fill="none" stroke="#1f4f9f" stroke-width="1.0" stroke-dasharray="2.2,1.6"/>
<circle cx="167.80" cy="269.15" r="1.3" fill="#113479"/>
<circle cx="178.83" cy="245.20" r="1.3" fill="#113479"/>
<circle cx="189.86" cy="233.61" r="1.3" fill="#113479"/>
<circle cx="200.89" cy="239.02" r="1.3" fill="#113479"/>
<circle cx="211.92" cy="236.70" r="1.3" fill="#113479"/>
<circle cx="222.95" cy="232.07" r="1.3" fill="#113479"/>
<circle cx="233.98" cy="228.21" r="1.3" fill="#113479"/>
<polyline points="167.80,269.15 178.83,233.61 189.86,240.57 200.89,230.52 211.92,236.70 222.95,232.07 233.98,226.66" fill="none" stroke="#c42a4a" stroke-width="1.0"/>
<rect x="166.00" y="267.35" width="3.6" height="3.6" rx="0.6" fill="#d8083a" stroke="#0a0a0a" stroke-width="1.25"/>
<rect x="177.03" y="231.81" width="3.6" height="3.6" rx="0.6" fill="#d8083a" stroke="#0a0a0a" stroke-width="1.25"/>
<rect x="188.06" y="238.77" width="3.6" height="3.6" rx="0.6" fill="#d8083a" stroke="#0a0a0a" stroke-width="1.25"/>
<rect x="199.09" y="228.72" width="3.6" height="3.6" rx="0.6" fill="#d8083a" stroke="#0a0a0a" stroke-width="1.25"/>
<rect x="210.12" y="234.90" width="3.6" height="3.6" rx="0.6" fill="#d8083a" stroke="#0a0a0a" stroke-width="1.25"/>
<rect x="221.15" y="230.27" width="3.6" height="3.6" rx="0.6" fill="#d8083a" stroke="#0a0a0a" stroke-width="1.25"/>
<rect x="232.18" y="224.86" width="3.6" height="3.6" rx="0.6" fill="#d8083a" stroke="#0a0a0a" stroke-width="1.25"/>
<line x1="166.30" y1="199.3" x2="173.50" y2="199.3" stroke="#1f4f9f" stroke-width="1" stroke-dasharray="1.8,1.3"/>
<circle cx="169.90" cy="199.30" r="1.3" fill="#113479"/>
<text x="176.30" y="201.90" font-size="7.5" text-anchor="start" font-weight="normal" fill="#231f20" stroke="#231f20" stroke-width="0.18">WT</text>
<line x1="166.30" y1="208.00" x2="173.50" y2="208.00" stroke="#c8102e" stroke-width="1.1"/>
<rect x="168.20" y="206.30" width="3.4" height="3.4" fill="#d8083a" stroke="#0a0a0a" stroke-width="1.05"/>
<text x="176.30" y="210.60" font-size="7.5" text-anchor="start" font-weight="normal" fill="#231f20" stroke="#231f20" stroke-width="0.18" textLength="14.3" lengthAdjust="spacingAndGlyphs">TFPI</text>
<text x="191.10" y="207.70" font-size="3.9" text-anchor="start" font-weight="normal" fill="#231f20" stroke-width="0">ΔK1</text>
<text x="280.20" y="173.70" font-size="12.0" text-anchor="start" font-weight="bold" fill="#000" stroke="#000" stroke-width="0.3">F</text>
<text x="403.70" y="185.00" font-size="9.8" text-anchor="middle" font-weight="normal" fill="#231f20" stroke="#231f20" stroke-width="0.18">IVC ligation-induced venous thrombosis</text>
<line x1="306.50" y1="196.80" x2="306.50" y2="276.00" stroke="#0a0a0a" stroke-width="1.3"/>
<line x1="303.40" y1="269.10" x2="306.40" y2="269.10" stroke="#111" stroke-width="0.9"/>
<text x="301.00" y="270.70" font-size="8.0" text-anchor="end" font-weight="normal" fill="#231f20" stroke="#231f20" stroke-width="0.18">0</text>
<line x1="303.40" y1="257.48" x2="306.40" y2="257.48" stroke="#111" stroke-width="0.9"/>
<text x="301.00" y="259.08" font-size="8.0" text-anchor="end" font-weight="normal" fill="#231f20" stroke="#231f20" stroke-width="0.18">5</text>
<line x1="303.40" y1="245.87" x2="306.40" y2="245.87" stroke="#111" stroke-width="0.9"/>
<text x="301.00" y="247.47" font-size="8.0" text-anchor="end" font-weight="normal" fill="#231f20" stroke="#231f20" stroke-width="0.18">10</text>
<line x1="303.40" y1="234.25" x2="306.40" y2="234.25" stroke="#111" stroke-width="0.9"/>
<text x="301.00" y="235.85" font-size="8.0" text-anchor="end" font-weight="normal" fill="#231f20" stroke="#231f20" stroke-width="0.18">15</text>
<line x1="303.40" y1="222.63" x2="306.40" y2="222.63" stroke="#111" stroke-width="0.9"/>
<text x="301.00" y="224.23" font-size="8.0" text-anchor="end" font-weight="normal" fill="#231f20" stroke="#231f20" stroke-width="0.18">20</text>
<line x1="303.40" y1="211.02" x2="306.40" y2="211.02" stroke="#111" stroke-width="0.9"/>
<text x="301.00" y="212.62" font-size="8.0" text-anchor="end" font-weight="normal" fill="#231f20" stroke="#231f20" stroke-width="0.18">25</text>
<line x1="303.40" y1="199.40" x2="306.40" y2="199.40" stroke="#111" stroke-width="0.9"/>
<text x="301.00" y="201.00" font-size="8.0" text-anchor="end" font-weight="normal" fill="#231f20" stroke="#231f20" stroke-width="0.18">30</text>
<line x1="306.40" y1="276.50" x2="382.80" y2="276.50" stroke="#0a0a0a" stroke-width="1.3"/>
<line x1="325.50" y1="276.00" x2="325.50" y2="278.80" stroke="#111" stroke-width="0.9"/>
<line x1="363.70" y1="276.00" x2="363.70" y2="278.80" stroke="#111" stroke-width="0.9"/>
<line x1="308.70" y1="269.10" x2="381.80" y2="269.10" stroke="#222" stroke-width="0.9" stroke-dasharray="1.3,2.1"/>
<text x="325.50" y="289.40" font-size="7.7" text-anchor="middle" font-weight="normal" fill="#231f20" stroke="#231f20" stroke-width="0.18">WT</text>
<text x="352.57" y="289.40" font-size="7.8" text-anchor="start" font-weight="normal" fill="#231f20" stroke="#231f20" stroke-width="0.18" textLength="14.87" lengthAdjust="spacingAndGlyphs">TFPI</text>
<text x="367.95" y="286.38" font-size="4.06" text-anchor="start" font-weight="normal" fill="#231f20" stroke-width="0">ΔK1</text>
<text x="0.00" y="0.00" font-size="9.6" text-anchor="middle" font-weight="normal" fill="#231f20" stroke="#231f20" stroke-width="0.18" transform="translate(286.00,236.10) rotate(-90)" textLength="75.3" lengthAdjust="spacingAndGlyphs">Thrombus weight (mg)</text>
<line x1="325.50" y1="269.10" x2="325.50" y2="228.44" stroke="#111" stroke-width="1.0"/>
<line x1="322.30" y1="228.44" x2="328.70" y2="228.44" stroke="#111" stroke-width="1.0"/>
<line x1="313.00" y1="248.19" x2="338.20" y2="248.19" stroke="#111" stroke-width="1.1"/>
<line x1="363.70" y1="269.10" x2="363.70" y2="238.20" stroke="#111" stroke-width="1.0"/>
<line x1="360.50" y1="238.20" x2="366.90" y2="238.20" stroke="#111" stroke-width="1.0"/>
<line x1="351.20" y1="254.46" x2="376.40" y2="254.46" stroke="#111" stroke-width="1.1"/>
<circle cx="325.60" cy="203.80" r="1.5" fill="#113479"/>
<circle cx="323.00" cy="231.80" r="1.5" fill="#113479"/>
<circle cx="327.80" cy="236.60" r="1.5" fill="#113479"/>
<circle cx="330.20" cy="235.00" r="1.5" fill="#113479"/>
<circle cx="323.00" cy="240.20" r="1.5" fill="#113479"/>
<circle cx="325.40" cy="247.40" r="1.5" fill="#113479"/>
<circle cx="325.40" cy="253.80" r="1.5" fill="#113479"/>
<circle cx="325.40" cy="258.60" r="1.5" fill="#113479"/>
<circle cx="332.60" cy="265.30" r="1.5" fill="#113479"/>
<circle cx="318.30" cy="269.10" r="1.5" fill="#113479"/>
<circle cx="323.00" cy="269.10" r="1.5" fill="#113479"/>
<circle cx="327.80" cy="269.10" r="1.5" fill="#113479"/>
<rect x="360.30" y="227.00" width="3.4" height="3.4" fill="#c80c34" stroke="#0a0a0a" stroke-width="1.1"/>
<rect x="364.90" y="226.10" width="3.4" height="3.4" fill="#c80c34" stroke="#0a0a0a" stroke-width="1.1"/>
<rect x="357.70" y="239.70" width="3.4" height="3.4" fill="#c80c34" stroke="#0a0a0a" stroke-width="1.1"/>
<rect x="367.30" y="238.50" width="3.4" height="3.4" fill="#c80c34" stroke="#0a0a0a" stroke-width="1.1"/>
<rect x="362.00" y="242.80" width="3.4" height="3.4" fill="#c80c34" stroke="#0a0a0a" stroke-width="1.1"/>
<rect x="362.00" y="251.20" width="3.4" height="3.4" fill="#c80c34" stroke="#0a0a0a" stroke-width="1.1"/>
<rect x="360.30" y="259.60" width="3.4" height="3.4" fill="#c80c34" stroke="#0a0a0a" stroke-width="1.1"/>
<rect x="364.90" y="261.20" width="3.4" height="3.4" fill="#c80c34" stroke="#0a0a0a" stroke-width="1.1"/>
<rect x="353.60" y="265.50" width="3.4" height="3.4" fill="#c80c34" stroke="#0a0a0a" stroke-width="1.1"/>
<rect x="357.20" y="267.40" width="3.4" height="3.4" fill="#c80c34" stroke="#0a0a0a" stroke-width="1.1"/>
<rect x="362.00" y="267.40" width="3.4" height="3.4" fill="#c80c34" stroke="#0a0a0a" stroke-width="1.1"/>
<rect x="366.80" y="267.40" width="3.4" height="3.4" fill="#c80c34" stroke="#0a0a0a" stroke-width="1.1"/>
<rect x="371.60" y="267.40" width="3.4" height="3.4" fill="#c80c34" stroke="#0a0a0a" stroke-width="1.1"/>
<line x1="424.50" y1="196.80" x2="424.50" y2="275.90" stroke="#0a0a0a" stroke-width="1.3"/>
<line x1="421.30" y1="263.40" x2="424.30" y2="263.40" stroke="#111" stroke-width="0.9"/>
<text x="418.90" y="265.00" font-size="8.0" text-anchor="end" font-weight="normal" fill="#231f20" stroke="#231f20" stroke-width="0.18">0</text>
<line x1="421.30" y1="242.07" x2="424.30" y2="242.07" stroke="#111" stroke-width="0.9"/>
<text x="418.90" y="243.67" font-size="8.0" text-anchor="end" font-weight="normal" fill="#231f20" stroke="#231f20" stroke-width="0.18">5</text>
<line x1="421.30" y1="220.73" x2="424.30" y2="220.73" stroke="#111" stroke-width="0.9"/>
<text x="418.90" y="222.33" font-size="8.0" text-anchor="end" font-weight="normal" fill="#231f20" stroke="#231f20" stroke-width="0.18">10</text>
<line x1="421.30" y1="199.40" x2="424.30" y2="199.40" stroke="#111" stroke-width="0.9"/>
<text x="418.90" y="201.00" font-size="8.0" text-anchor="end" font-weight="normal" fill="#231f20" stroke="#231f20" stroke-width="0.18">15</text>
<line x1="424.30" y1="275.50" x2="500.40" y2="275.50" stroke="#0a0a0a" stroke-width="1.3"/>
<line x1="443.40" y1="275.90" x2="443.40" y2="278.70" stroke="#111" stroke-width="0.9"/>
<line x1="481.30" y1="275.90" x2="481.30" y2="278.70" stroke="#111" stroke-width="0.9"/>
<line x1="426.60" y1="263.40" x2="499.40" y2="263.40" stroke="#222" stroke-width="0.9" stroke-dasharray="1.3,2.1"/>
<text x="443.40" y="289.40" font-size="7.7" text-anchor="middle" font-weight="normal" fill="#231f20" stroke="#231f20" stroke-width="0.18">WT</text>
<text x="470.17" y="289.40" font-size="7.8" text-anchor="start" font-weight="normal" fill="#231f20" stroke="#231f20" stroke-width="0.18" textLength="14.87" lengthAdjust="spacingAndGlyphs">TFPI</text>
<text x="485.55" y="286.38" font-size="4.06" text-anchor="start" font-weight="normal" fill="#231f20" stroke-width="0">ΔK1</text>
<text x="0.00" y="0.00" font-size="9.6" text-anchor="middle" font-weight="normal" fill="#231f20" stroke="#231f20" stroke-width="0.18" transform="translate(404.00,236.30) rotate(-90)" textLength="76.3" lengthAdjust="spacingAndGlyphs">Thrombus lenght (mm)</text>
<line x1="443.40" y1="260.41" x2="443.40" y2="232.25" stroke="#111" stroke-width="1.0"/>
<line x1="440.20" y1="232.25" x2="446.60" y2="232.25" stroke="#111" stroke-width="1.0"/>
<line x1="440.20" y1="260.41" x2="446.60" y2="260.41" stroke="#111" stroke-width="1.0"/>
<line x1="430.90" y1="246.33" x2="456.10" y2="246.33" stroke="#111" stroke-width="1.1"/>
<line x1="481.30" y1="263.40" x2="481.30" y2="237.80" stroke="#111" stroke-width="1.0"/>
<line x1="478.10" y1="237.80" x2="484.50" y2="237.80" stroke="#111" stroke-width="1.0"/>
<line x1="468.80" y1="249.75" x2="494.00" y2="249.75" stroke="#111" stroke-width="1.1"/>
<circle cx="443.40" cy="216.50" r="1.5" fill="#113479"/>
<circle cx="439.50" cy="233.00" r="1.5" fill="#113479"/>
<circle cx="445.40" cy="233.50" r="1.5" fill="#113479"/>
<circle cx="447.80" cy="237.80" r="1.5" fill="#113479"/>
<circle cx="438.30" cy="240.70" r="1.5" fill="#113479"/>
<circle cx="443.00" cy="241.40" r="1.5" fill="#113479"/>
<circle cx="440.60" cy="251.70" r="1.5" fill="#113479"/>
<circle cx="443.00" cy="255.00" r="1.5" fill="#113479"/>
<circle cx="445.40" cy="254.60" r="1.5" fill="#113479"/>
<circle cx="438.50" cy="263.40" r="1.5" fill="#113479"/>
<circle cx="443.40" cy="263.40" r="1.5" fill="#113479"/>
<circle cx="447.90" cy="263.40" r="1.5" fill="#113479"/>
<rect x="479.60" y="227.80" width="3.4" height="3.4" fill="#c80c34" stroke="#0a0a0a" stroke-width="1.1"/>
<rect x="477.20" y="233.70" width="3.4" height="3.4" fill="#c80c34" stroke="#0a0a0a" stroke-width="1.1"/>
<rect x="482.00" y="231.80" width="3.4" height="3.4" fill="#c80c34" stroke="#0a0a0a" stroke-width="1.1"/>
<rect x="477.20" y="239.00" width="3.4" height="3.4" fill="#c80c34" stroke="#0a0a0a" stroke-width="1.1"/>
<rect x="482.00" y="239.00" width="3.4" height="3.4" fill="#c80c34" stroke="#0a0a0a" stroke-width="1.1"/>
<rect x="479.60" y="245.20" width="3.4" height="3.4" fill="#c80c34" stroke="#0a0a0a" stroke-width="1.1"/>
<rect x="477.20" y="249.30" width="3.4" height="3.4" fill="#c80c34" stroke="#0a0a0a" stroke-width="1.1"/>
<rect x="482.00" y="250.90" width="3.4" height="3.4" fill="#c80c34" stroke="#0a0a0a" stroke-width="1.1"/>
<rect x="470.50" y="257.60" width="3.4" height="3.4" fill="#c80c34" stroke="#0a0a0a" stroke-width="1.1"/>
<rect x="475.30" y="261.70" width="3.4" height="3.4" fill="#c80c34" stroke="#0a0a0a" stroke-width="1.1"/>
<rect x="479.60" y="261.70" width="3.4" height="3.4" fill="#c80c34" stroke="#0a0a0a" stroke-width="1.1"/>
<rect x="484.40" y="261.70" width="3.4" height="3.4" fill="#c80c34" stroke="#0a0a0a" stroke-width="1.1"/>
<rect x="489.20" y="261.70" width="3.4" height="3.4" fill="#c80c34" stroke="#0a0a0a" stroke-width="1.1"/>
<text x="9.40" y="328.50" font-size="12.0" text-anchor="start" font-weight="bold" fill="#000" stroke="#000" stroke-width="0.3">G</text>
<text x="91.50" y="342.10" font-size="9.8" text-anchor="middle" font-weight="normal" fill="#231f20" stroke="#231f20" stroke-width="0.18">aPL induced</text>
<text x="91.50" y="353.60" font-size="9.8" text-anchor="middle" font-weight="normal" fill="#231f20" stroke="#231f20" stroke-width="0.18">venous thrombosis</text>
<line x1="52.50" y1="360.20" x2="52.50" y2="439.30" stroke="#0a0a0a" stroke-width="1.3"/>
<line x1="49.20" y1="439.30" x2="52.20" y2="439.30" stroke="#111" stroke-width="0.9"/>
<text x="46.80" y="440.90" font-size="8.0" text-anchor="end" font-weight="normal" fill="#231f20" stroke="#231f20" stroke-width="0.18">0</text>
<line x1="49.20" y1="420.40" x2="52.20" y2="420.40" stroke="#111" stroke-width="0.9"/>
<text x="46.80" y="422.00" font-size="8.0" text-anchor="end" font-weight="normal" fill="#231f20" stroke="#231f20" stroke-width="0.18">20000</text>
<line x1="49.20" y1="401.50" x2="52.20" y2="401.50" stroke="#111" stroke-width="0.9"/>
<text x="46.80" y="403.10" font-size="8.0" text-anchor="end" font-weight="normal" fill="#231f20" stroke="#231f20" stroke-width="0.18">40000</text>
<line x1="49.20" y1="382.60" x2="52.20" y2="382.60" stroke="#111" stroke-width="0.9"/>
<text x="46.80" y="384.20" font-size="8.0" text-anchor="end" font-weight="normal" fill="#231f20" stroke="#231f20" stroke-width="0.18">60000</text>
<line x1="49.20" y1="363.70" x2="52.20" y2="363.70" stroke="#111" stroke-width="0.9"/>
<text x="46.80" y="365.30" font-size="8.0" text-anchor="end" font-weight="normal" fill="#231f20" stroke="#231f20" stroke-width="0.18">80000</text>
<line x1="52.20" y1="439.50" x2="124.80" y2="439.50" stroke="#0a0a0a" stroke-width="1.3"/>
<line x1="70.80" y1="439.30" x2="70.80" y2="442.00" stroke="#111" stroke-width="0.9"/>
<line x1="111.00" y1="439.30" x2="111.00" y2="442.00" stroke="#111" stroke-width="0.9"/>
<text x="70.60" y="451.00" font-size="8.0" text-anchor="middle" font-weight="normal" fill="#231f20" stroke="#231f20" stroke-width="0.18">IgG</text>
<text x="110.90" y="451.00" font-size="7.7" text-anchor="middle" font-weight="normal" fill="#231f20" stroke="#231f20" stroke-width="0.18">HL5B</text>
<text x="0.00" y="0.00" font-size="9.6" text-anchor="middle" font-weight="normal" fill="#231f20" stroke="#231f20" stroke-width="0.18" transform="translate(17.80,399.80) rotate(-90)" textLength="69.0" lengthAdjust="spacingAndGlyphs">Thrombus size [μm<tspan font-size="5" dy="-3">2</tspan><tspan dy="3">]</tspan></text>
<circle cx="56.90" cy="364.80" r="1.45" fill="#113479"/>
<text x="64.40" y="367.40" font-size="7.5" text-anchor="start" font-weight="normal" fill="#231f20" stroke="#231f20" stroke-width="0.18">WT</text>
<rect x="55.30" y="371.60" width="3.2" height="3.2" fill="#d8083a" stroke="#0a0a0a" stroke-width="1.05"/>
<text x="64.40" y="375.80" font-size="7.5" text-anchor="start" font-weight="normal" fill="#231f20" stroke="#231f20" stroke-width="0.18" textLength="14.3" lengthAdjust="spacingAndGlyphs">TFPI</text>
<text x="79.20" y="372.90" font-size="3.9" text-anchor="start" font-weight="normal" fill="#231f20" stroke-width="0">ΔK1</text>
<circle cx="59.50" cy="437.70" r="1.4" fill="#113479"/>
<circle cx="61.50" cy="437.40" r="1.4" fill="#113479"/>
<circle cx="63.50" cy="437.70" r="1.4" fill="#113479"/>
<circle cx="65.50" cy="437.40" r="1.4" fill="#113479"/>
<rect x="73.80" y="434.30" width="3.4" height="3.4" fill="#d8083a" stroke="#0a0a0a" stroke-width="1.05"/>
<rect x="75.80" y="432.50" width="3.4" height="3.4" fill="#d8083a" stroke="#0a0a0a" stroke-width="1.05"/>
<rect x="77.80" y="434.80" width="3.4" height="3.4" fill="#d8083a" stroke="#0a0a0a" stroke-width="1.05"/>
<rect x="74.80" y="435.90" width="3.4" height="3.4" fill="#d8083a" stroke="#0a0a0a" stroke-width="1.05"/>
<rect x="78.80" y="433.30" width="3.4" height="3.4" fill="#d8083a" stroke="#0a0a0a" stroke-width="1.05"/>
<rect x="76.50" y="431.80" width="3.4" height="3.4" fill="#d8083a" stroke="#0a0a0a" stroke-width="1.05"/>
<circle cx="103.20" cy="381.70" r="1.45" fill="#113479"/>
<circle cx="100.30" cy="403.00" r="1.45" fill="#113479"/>
<circle cx="106.20" cy="403.00" r="1.45" fill="#113479"/>
<circle cx="103.20" cy="406.00" r="1.45" fill="#113479"/>
<circle cx="103.20" cy="410.70" r="1.45" fill="#113479"/>
<circle cx="101.10" cy="420.40" r="1.45" fill="#113479"/>
<circle cx="105.50" cy="425.10" r="1.45" fill="#113479"/>
<circle cx="103.20" cy="429.80" r="1.45" fill="#113479"/>
<line x1="103.50" y1="394.70" x2="103.50" y2="425.10" stroke="#111" stroke-width="0.9"/>
<line x1="101.30" y1="394.70" x2="105.70" y2="394.70" stroke="#111" stroke-width="0.9"/>
<line x1="101.30" y1="425.10" x2="105.70" y2="425.10" stroke="#111" stroke-width="0.9"/>
<line x1="98.50" y1="410.30" x2="108.50" y2="410.30" stroke="#111" stroke-width="0.9"/>
<rect x="113.80" y="432.80" width="3.4" height="3.4" fill="#d8083a" stroke="#0a0a0a" stroke-width="1.05"/>
<rect x="116.30" y="431.60" width="3.4" height="3.4" fill="#d8083a" stroke="#0a0a0a" stroke-width="1.05"/>
<rect x="118.80" y="432.80" width="3.4" height="3.4" fill="#d8083a" stroke="#0a0a0a" stroke-width="1.05"/>
<rect x="120.80" y="433.80" width="3.4" height="3.4" fill="#d8083a" stroke="#0a0a0a" stroke-width="1.05"/>
<rect x="114.80" y="435.80" width="3.4" height="3.4" fill="#d8083a" stroke="#0a0a0a" stroke-width="1.05"/>
<rect x="117.60" y="436.10" width="3.4" height="3.4" fill="#d8083a" stroke="#0a0a0a" stroke-width="1.05"/>
<rect x="120.10" y="435.80" width="3.4" height="3.4" fill="#d8083a" stroke="#0a0a0a" stroke-width="1.05"/>
<path d="M103.20,377.10 V374.80 H118.30 V377.10" fill="none" stroke="#111" stroke-width="0.9"/>
<text x="111.00" y="373.99" font-size="7.0" text-anchor="middle" font-weight="normal" fill="#231f20" stroke="#231f20" stroke-width="0.45">*</text>
<text x="203.00" y="353.20" font-size="8.4" text-anchor="middle" font-weight="normal" fill="#231f20" stroke="#231f20" stroke-width="0.18">IgG</text>
<text x="334.20" y="353.20" font-size="8.4" text-anchor="middle" font-weight="normal" fill="#231f20" stroke="#231f20" stroke-width="0.18" textLength="18.5" lengthAdjust="spacingAndGlyphs">HL5B</text>
<clipPath id="c1"><rect x="149.2" y="362.0" width="51.1" height="77.7"/></clipPath>
<rect x="149.2" y="362.0" width="51.1" height="77.7" fill="#070103"/>
<g clip-path="url(#c1)"><g filter="url(#blur05)">
<ellipse cx="162" cy="420" rx="12" ry="18" fill="#3a2a0a" opacity="0.35" filter="url(#blur2)"/>
<rect x="157.6" y="415.8" width="1.0" height="1.0" fill="#405010" opacity="0.19"/>
<rect x="200.5" y="399.0" width="0.9" height="0.9" fill="#405010" opacity="0.14"/>
<rect x="190.0" y="363.1" width="1.1" height="1.1" fill="#405010" opacity="0.08"/>
<rect x="188.1" y="433.9" width="0.8" height="0.8" fill="#405010" opacity="0.22"/>
<rect x="187.4" y="430.3" width="1.1" height="1.1" fill="#405010" opacity="0.21"/>
<rect x="177.1" y="416.1" width="1.4" height="1.4" fill="#405010" opacity="0.12"/>
<rect x="157.1" y="425.8" width="1.3" height="1.3" fill="#802010" opacity="0.06"/>
<rect x="157.4" y="418.8" width="1.1" height="1.1" fill="#603010" opacity="0.09"/>
<rect x="150.9" y="429.5" width="0.8" height="0.8" fill="#802010" opacity="0.09"/>
<rect x="184.0" y="424.6" width="1.3" height="1.3" fill="#405010" opacity="0.18"/>
<rect x="179.2" y="418.9" width="1.1" height="1.1" fill="#802010" opacity="0.15"/>
<rect x="169.2" y="388.6" width="1.3" height="1.3" fill="#802010" opacity="0.13"/>
<rect x="168.0" y="397.2" width="1.0" height="1.0" fill="#603010" opacity="0.14"/>
<rect x="162.8" y="427.1" width="1.2" height="1.2" fill="#802010" opacity="0.22"/>
<rect x="174.8" y="400.3" width="1.2" height="1.2" fill="#405010" opacity="0.14"/>
<rect x="178.7" y="386.9" width="0.9" height="0.9" fill="#405010" opacity="0.17"/>
<rect x="181.6" y="427.0" width="1.0" height="1.0" fill="#603010" opacity="0.16"/>
<rect x="164.9" y="370.1" width="1.4" height="1.4" fill="#802010" opacity="0.09"/>
<rect x="171.3" y="374.5" width="1.2" height="1.2" fill="#802010" opacity="0.20"/>
<rect x="198.8" y="393.7" width="1.4" height="1.4" fill="#802010" opacity="0.15"/>
<rect x="194.9" y="400.3" width="1.2" height="1.2" fill="#603010" opacity="0.21"/>
<rect x="161.8" y="405.8" width="1.3" height="1.3" fill="#603010" opacity="0.18"/>
<rect x="174.1" y="427.3" width="1.3" height="1.3" fill="#802010" opacity="0.17"/>
<rect x="150.8" y="381.4" width="0.8" height="0.8" fill="#603010" opacity="0.11"/>
<rect x="195.8" y="438.7" width="1.2" height="1.2" fill="#405010" opacity="0.07"/>
<rect x="156.3" y="412.7" width="1.1" height="1.1" fill="#405010" opacity="0.21"/>
<rect x="195.8" y="390.5" width="1.3" height="1.3" fill="#802010" opacity="0.16"/>
<rect x="171.2" y="407.3" width="1.0" height="1.0" fill="#603010" opacity="0.15"/>
<rect x="163.4" y="421.9" width="1.0" height="1.0" fill="#802010" opacity="0.08"/>
<rect x="186.2" y="382.6" width="1.2" height="1.2" fill="#603010" opacity="0.20"/>
<rect x="179.4" y="382.1" width="1.3" height="1.3" fill="#603010" opacity="0.19"/>
<rect x="156.2" y="373.1" width="0.9" height="0.9" fill="#603010" opacity="0.06"/>
<rect x="172.2" y="373.0" width="1.2" height="1.2" fill="#802010" opacity="0.08"/>
<rect x="177.0" y="387.3" width="1.3" height="1.3" fill="#603010" opacity="0.16"/>
<rect x="158.4" y="428.9" width="1.2" height="1.2" fill="#802010" opacity="0.15"/>
<rect x="151.4" y="417.4" width="1.3" height="1.3" fill="#405010" opacity="0.19"/>
<rect x="149.4" y="398.2" width="1.0" height="1.0" fill="#802010" opacity="0.15"/>
<rect x="193.4" y="380.2" width="1.2" height="1.2" fill="#405010" opacity="0.18"/>
<rect x="161.7" y="374.2" width="1.3" height="1.3" fill="#405010" opacity="0.11"/>
<rect x="175.2" y="404.8" width="0.9" height="0.9" fill="#405010" opacity="0.16"/>
<rect x="175.4" y="419.3" width="1.0" height="1.0" fill="#405010" opacity="0.17"/>
<rect x="176.3" y="405.7" width="1.2" height="1.2" fill="#802010" opacity="0.11"/>
<rect x="159.5" y="367.1" width="1.4" height="1.4" fill="#405010" opacity="0.08"/>
<rect x="153.0" y="367.7" width="1.1" height="1.1" fill="#603010" opacity="0.21"/>
<rect x="184.4" y="417.0" width="1.1" height="1.1" fill="#603010" opacity="0.12"/>
<rect x="169.9" y="379.6" width="1.2" height="1.2" fill="#802010" opacity="0.07"/>
<rect x="163.3" y="408.0" width="1.2" height="1.2" fill="#603010" opacity="0.13"/>
<rect x="161.3" y="392.1" width="0.9" height="0.9" fill="#603010" opacity="0.21"/>
<rect x="183.0" y="364.9" width="1.1" height="1.1" fill="#802010" opacity="0.17"/>
<rect x="195.3" y="422.8" width="1.2" height="1.2" fill="#405010" opacity="0.16"/>
<rect x="187.0" y="409.2" width="1.0" height="1.0" fill="#405010" opacity="0.14"/>
<rect x="174.9" y="385.9" width="1.3" height="1.3" fill="#603010" opacity="0.21"/>
<rect x="200.4" y="362.5" width="0.9" height="0.9" fill="#603010" opacity="0.20"/>
<rect x="186.3" y="369.1" width="0.8" height="0.8" fill="#802010" opacity="0.11"/>
<rect x="198.1" y="419.9" width="1.4" height="1.4" fill="#603010" opacity="0.22"/>
<rect x="157.7" y="395.8" width="1.0" height="1.0" fill="#405010" opacity="0.16"/>
<rect x="184.4" y="382.3" width="1.0" height="1.0" fill="#802010" opacity="0.10"/>
<rect x="193.0" y="374.0" width="1.1" height="1.1" fill="#405010" opacity="0.10"/>
<rect x="184.8" y="417.9" width="1.4" height="1.4" fill="#802010" opacity="0.13"/>
<rect x="171.7" y="410.1" width="1.2" height="1.2" fill="#603010" opacity="0.17"/>
<rect x="181.3" y="369.7" width="0.8" height="0.8" fill="#802010" opacity="0.19"/>
<rect x="197.6" y="417.0" width="0.8" height="0.8" fill="#802010" opacity="0.15"/>
<rect x="169.7" y="396.4" width="0.9" height="0.9" fill="#603010" opacity="0.06"/>
<rect x="177.3" y="369.4" width="0.9" height="0.9" fill="#603010" opacity="0.12"/>
<rect x="149.2" y="375.0" width="1.3" height="1.3" fill="#405010" opacity="0.19"/>
<rect x="176.5" y="365.8" width="1.1" height="1.1" fill="#802010" opacity="0.20"/>
<rect x="161.7" y="406.8" width="1.4" height="1.4" fill="#405010" opacity="0.20"/>
<rect x="149.9" y="407.4" width="1.1" height="1.1" fill="#802010" opacity="0.19"/>
<rect x="200.4" y="413.3" width="0.8" height="0.8" fill="#802010" opacity="0.19"/>
<rect x="180.5" y="410.4" width="1.2" height="1.2" fill="#603010" opacity="0.17"/>
<rect x="156.9" y="374.0" width="1.0" height="1.0" fill="#603010" opacity="0.16"/>
<rect x="195.3" y="367.5" width="0.9" height="0.9" fill="#802010" opacity="0.08"/>
<rect x="192.1" y="390.1" width="0.8" height="0.8" fill="#603010" opacity="0.07"/>
<rect x="174.7" y="415.1" width="1.0" height="1.0" fill="#405010" opacity="0.07"/>
<rect x="161.1" y="390.0" width="1.0" height="1.0" fill="#603010" opacity="0.17"/>
<rect x="186.8" y="402.9" width="1.0" height="1.0" fill="#802010" opacity="0.10"/>
<rect x="175.1" y="418.8" width="1.1" height="1.1" fill="#405010" opacity="0.16"/>
<rect x="158.1" y="417.4" width="1.1" height="1.1" fill="#603010" opacity="0.20"/>
<rect x="172.0" y="363.5" width="1.2" height="1.2" fill="#603010" opacity="0.09"/>
<rect x="189.4" y="432.4" width="1.2" height="1.2" fill="#405010" opacity="0.08"/>
<rect x="165.1" y="378.4" width="1.4" height="1.4" fill="#603010" opacity="0.19"/>
<rect x="149.6" y="389.4" width="1.0" height="1.0" fill="#405010" opacity="0.06"/>
<rect x="168.6" y="420.4" width="1.4" height="1.4" fill="#802010" opacity="0.15"/>
<rect x="194.8" y="378.1" width="1.1" height="1.1" fill="#405010" opacity="0.18"/>
<rect x="187.5" y="430.9" width="1.3" height="1.3" fill="#603010" opacity="0.10"/>
<rect x="180.2" y="389.4" width="1.3" height="1.3" fill="#405010" opacity="0.12"/>
<rect x="155.8" y="364.1" width="1.4" height="1.4" fill="#603010" opacity="0.18"/>
<rect x="200.2" y="419.7" width="0.9" height="0.9" fill="#405010" opacity="0.21"/>
<rect x="176.2" y="431.8" width="1.0" height="1.0" fill="#405010" opacity="0.09"/>
<rect x="183.4" y="409.9" width="1.3" height="1.3" fill="#603010" opacity="0.18"/>
<rect x="182.8" y="381.7" width="1.3" height="1.3" fill="#603010" opacity="0.10"/>
<rect x="173.8" y="365.2" width="0.9" height="0.9" fill="#603010" opacity="0.19"/>
<rect x="166.5" y="396.3" width="1.2" height="1.2" fill="#603010" opacity="0.18"/>
<rect x="200.7" y="391.4" width="0.8" height="0.8" fill="#603010" opacity="0.18"/>
<rect x="194.1" y="385.1" width="0.9" height="0.9" fill="#603010" opacity="0.10"/>
<rect x="187.2" y="425.4" width="1.2" height="1.2" fill="#603010" opacity="0.06"/>
<rect x="196.7" y="372.3" width="1.1" height="1.1" fill="#603010" opacity="0.12"/>
<rect x="181.7" y="408.7" width="0.8" height="0.8" fill="#405010" opacity="0.10"/>
<rect x="154.4" y="413.2" width="1.3" height="1.3" fill="#405010" opacity="0.19"/>
<rect x="197.3" y="377.5" width="1.3" height="1.3" fill="#603010" opacity="0.07"/>
<rect x="165.0" y="411.4" width="1.3" height="1.3" fill="#802010" opacity="0.21"/>
<rect x="154.4" y="410.1" width="0.9" height="0.9" fill="#405010" opacity="0.09"/>
<rect x="174.9" y="417.6" width="0.8" height="0.8" fill="#802010" opacity="0.20"/>
<rect x="196.9" y="402.8" width="0.9" height="0.9" fill="#802010" opacity="0.08"/>
<rect x="152.0" y="416.3" width="0.8" height="0.8" fill="#603010" opacity="0.18"/>
<rect x="180.3" y="401.9" width="0.9" height="0.9" fill="#405010" opacity="0.17"/>
<rect x="174.4" y="403.9" width="1.0" height="1.0" fill="#405010" opacity="0.16"/>
<rect x="182.1" y="390.5" width="1.0" height="1.0" fill="#603010" opacity="0.13"/>
<rect x="182.7" y="418.1" width="0.9" height="0.9" fill="#405010" opacity="0.19"/>
<rect x="150.0" y="412.2" width="1.3" height="1.3" fill="#603010" opacity="0.18"/>
<rect x="195.9" y="420.4" width="1.1" height="1.1" fill="#603010" opacity="0.09"/>
<rect x="190.6" y="387.5" width="1.0" height="1.0" fill="#603010" opacity="0.21"/>
<rect x="172.8" y="377.7" width="1.2" height="1.2" fill="#802010" opacity="0.20"/>
<rect x="160.5" y="370.7" width="1.2" height="1.2" fill="#405010" opacity="0.16"/>
<rect x="155.4" y="371.7" width="1.2" height="1.2" fill="#405010" opacity="0.15"/>
<rect x="153.4" y="380.9" width="1.1" height="1.1" fill="#405010" opacity="0.10"/>
<rect x="171.5" y="423.5" width="1.2" height="1.2" fill="#405010" opacity="0.19"/>
<rect x="169.8" y="436.8" width="1.0" height="1.0" fill="#405010" opacity="0.19"/>
<rect x="150.8" y="400.9" width="1.3" height="1.3" fill="#603010" opacity="0.15"/>
<rect x="158.5" y="434.2" width="1.3" height="1.3" fill="#802010" opacity="0.10"/>
<rect x="173.5" y="382.4" width="1.0" height="1.0" fill="#802010" opacity="0.12"/>
<rect x="174.5" y="382.6" width="0.8" height="0.8" fill="#603010" opacity="0.11"/>
<rect x="153.7" y="387.3" width="1.3" height="1.3" fill="#802010" opacity="0.08"/>
<rect x="165.0" y="370.7" width="1.2" height="1.2" fill="#405010" opacity="0.21"/>
<rect x="151.6" y="420.2" width="1.1" height="1.1" fill="#603010" opacity="0.08"/>
<rect x="199.6" y="379.0" width="1.2" height="1.2" fill="#603010" opacity="0.07"/>
<rect x="181.6" y="409.4" width="0.9" height="0.9" fill="#603010" opacity="0.21"/>
<rect x="171.1" y="377.6" width="0.9" height="0.9" fill="#802010" opacity="0.09"/>
<rect x="199.1" y="363.0" width="1.3" height="1.3" fill="#802010" opacity="0.21"/>
<rect x="161.9" y="389.7" width="0.9" height="0.9" fill="#603010" opacity="0.17"/>
<rect x="195.7" y="376.2" width="1.1" height="1.1" fill="#603010" opacity="0.11"/>
<rect x="195.4" y="428.0" width="1.0" height="1.0" fill="#802010" opacity="0.18"/>
<rect x="185.2" y="419.3" width="1.3" height="1.3" fill="#802010" opacity="0.10"/>
<rect x="200.8" y="387.6" width="1.3" height="1.3" fill="#603010" opacity="0.19"/>
<rect x="186.5" y="364.2" width="1.0" height="1.0" fill="#405010" opacity="0.10"/>
<rect x="190.3" y="409.8" width="0.9" height="0.9" fill="#405010" opacity="0.08"/>
<rect x="150.3" y="378.4" width="1.4" height="1.4" fill="#603010" opacity="0.14"/>
<rect x="185.5" y="402.1" width="1.2" height="1.2" fill="#802010" opacity="0.13"/>
<rect x="183.5" y="385.0" width="1.1" height="1.1" fill="#802010" opacity="0.07"/>
<rect x="186.1" y="420.8" width="1.1" height="1.1" fill="#802010" opacity="0.18"/>
<rect x="151.5" y="411.7" width="0.9" height="0.9" fill="#802010" opacity="0.15"/>
<rect x="182.9" y="430.0" width="1.0" height="1.0" fill="#603010" opacity="0.12"/>
<rect x="186.9" y="371.0" width="0.8" height="0.8" fill="#603010" opacity="0.13"/>
<rect x="190.2" y="430.5" width="1.2" height="1.2" fill="#603010" opacity="0.11"/>
<rect x="185.5" y="428.0" width="1.1" height="1.1" fill="#802010" opacity="0.16"/>
<rect x="181.8" y="378.0" width="1.3" height="1.3" fill="#802010" opacity="0.10"/>
<rect x="189.7" y="362.3" width="0.8" height="0.8" fill="#603010" opacity="0.19"/>
<rect x="185.1" y="401.4" width="1.3" height="1.3" fill="#802010" opacity="0.09"/>
<rect x="178.8" y="405.2" width="1.3" height="1.3" fill="#802010" opacity="0.16"/>
<rect x="157.8" y="421.3" width="0.9" height="0.9" fill="#802010" opacity="0.18"/>
<rect x="170.4" y="387.5" width="1.0" height="1.0" fill="#405010" opacity="0.19"/>
<rect x="193.5" y="420.2" width="0.8" height="0.8" fill="#405010" opacity="0.11"/>
<rect x="160.8" y="426.1" width="1.4" height="1.4" fill="#802010" opacity="0.07"/>
<rect x="199.2" y="433.6" width="1.2" height="1.2" fill="#603010" opacity="0.21"/>
<rect x="158.5" y="418.1" width="1.4" height="1.4" fill="#603010" opacity="0.20"/>
<rect x="196.4" y="368.6" width="1.1" height="1.1" fill="#405010" opacity="0.20"/>
<rect x="197.5" y="425.7" width="1.2" height="1.2" fill="#802010" opacity="0.06"/>
<rect x="188.9" y="439.1" width="0.9" height="0.9" fill="#405010" opacity="0.16"/>
<rect x="181.8" y="366.9" width="0.9" height="0.9" fill="#603010" opacity="0.13"/>
<rect x="200.2" y="429.4" width="1.1" height="1.1" fill="#603010" opacity="0.10"/>
<rect x="178.4" y="411.9" width="1.0" height="1.0" fill="#802010" opacity="0.21"/>
<rect x="156.4" y="433.6" width="1.0" height="1.0" fill="#405010" opacity="0.10"/>
<rect x="167.3" y="403.9" width="1.0" height="1.0" fill="#802010" opacity="0.14"/>
<rect x="196.4" y="412.0" width="1.1" height="1.1" fill="#802010" opacity="0.14"/>
<rect x="175.8" y="380.8" width="1.1" height="1.1" fill="#405010" opacity="0.18"/>
<rect x="184.7" y="386.6" width="1.2" height="1.2" fill="#405010" opacity="0.14"/>
<rect x="170.9" y="379.9" width="0.9" height="0.9" fill="#603010" opacity="0.09"/>
<rect x="177.1" y="436.9" width="0.9" height="0.9" fill="#802010" opacity="0.18"/>
<rect x="162.8" y="420.5" width="1.2" height="1.2" fill="#603010" opacity="0.10"/>
<rect x="175.1" y="368.8" width="1.2" height="1.2" fill="#405010" opacity="0.16"/>
<rect x="155.0" y="384.9" width="0.9" height="0.9" fill="#802010" opacity="0.15"/>
<rect x="185.2" y="401.8" width="1.1" height="1.1" fill="#405010" opacity="0.19"/>
<rect x="182.1" y="412.0" width="1.1" height="1.1" fill="#405010" opacity="0.17"/>
<rect x="184.1" y="382.4" width="0.9" height="0.9" fill="#405010" opacity="0.09"/>
<rect x="186.0" y="437.5" width="0.9" height="0.9" fill="#603010" opacity="0.17"/>
<rect x="200.6" y="434.7" width="1.2" height="1.2" fill="#405010" opacity="0.12"/>
<rect x="163.7" y="419.1" width="0.8" height="0.8" fill="#802010" opacity="0.12"/>
<rect x="168.5" y="388.6" width="1.1" height="1.1" fill="#603010" opacity="0.10"/>
<rect x="157.3" y="431.9" width="0.9" height="0.9" fill="#802010" opacity="0.16"/>
<rect x="196.2" y="375.3" width="0.9" height="0.9" fill="#405010" opacity="0.16"/>
<rect x="186.5" y="414.6" width="0.8" height="0.8" fill="#802010" opacity="0.07"/>
<rect x="184.0" y="426.4" width="1.2" height="1.2" fill="#405010" opacity="0.09"/>
<rect x="169.6" y="426.0" width="1.3" height="1.3" fill="#603010" opacity="0.22"/>
<rect x="156.6" y="435.0" width="1.2" height="1.2" fill="#603010" opacity="0.13"/>
<rect x="170.0" y="437.1" width="0.9" height="0.9" fill="#603010" opacity="0.17"/>
<rect x="182.5" y="426.7" width="0.9" height="0.9" fill="#802010" opacity="0.11"/>
<rect x="155.0" y="391.7" width="1.0" height="1.0" fill="#405010" opacity="0.12"/>
<rect x="187.0" y="383.3" width="1.3" height="1.3" fill="#405010" opacity="0.07"/>
<rect x="188.8" y="433.3" width="1.0" height="1.0" fill="#405010" opacity="0.12"/>
<rect x="174.9" y="386.9" width="1.1" height="1.1" fill="#802010" opacity="0.13"/>
<rect x="172.5" y="399.4" width="1.3" height="1.3" fill="#603010" opacity="0.19"/>
<rect x="170.4" y="412.3" width="1.3" height="1.3" fill="#802010" opacity="0.18"/>
<rect x="178.9" y="380.8" width="1.0" height="1.0" fill="#603010" opacity="0.19"/>
<rect x="171.2" y="422.9" width="1.3" height="1.3" fill="#405010" opacity="0.12"/>
<rect x="166.8" y="435.8" width="1.0" height="1.0" fill="#802010" opacity="0.19"/>
<rect x="163.8" y="426.3" width="1.1" height="1.1" fill="#405010" opacity="0.21"/>
<rect x="153.7" y="383.4" width="0.9" height="0.9" fill="#405010" opacity="0.14"/>
<rect x="183.0" y="386.9" width="1.0" height="1.0" fill="#603010" opacity="0.10"/>
<rect x="162.5" y="423.0" width="0.9" height="0.9" fill="#802010" opacity="0.18"/>
<rect x="153.0" y="391.0" width="1.1" height="1.1" fill="#603010" opacity="0.21"/>
<rect x="175.7" y="400.3" width="1.3" height="1.3" fill="#405010" opacity="0.08"/>
<rect x="190.8" y="393.1" width="1.4" height="1.4" fill="#405010" opacity="0.14"/>
<rect x="170.6" y="379.7" width="1.3" height="1.3" fill="#603010" opacity="0.06"/>
<rect x="182.7" y="377.8" width="1.2" height="1.2" fill="#603010" opacity="0.16"/>
<rect x="187.2" y="406.3" width="1.0" height="1.0" fill="#603010" opacity="0.07"/>
<rect x="179.3" y="383.0" width="1.2" height="1.2" fill="#802010" opacity="0.19"/>
<rect x="161.7" y="399.8" width="1.1" height="1.1" fill="#603010" opacity="0.07"/>
<rect x="200.1" y="419.9" width="0.8" height="0.8" fill="#603010" opacity="0.15"/>
<rect x="155.7" y="437.6" width="1.4" height="1.4" fill="#405010" opacity="0.12"/>
<rect x="198.2" y="398.2" width="1.1" height="1.1" fill="#802010" opacity="0.10"/>
<rect x="181.7" y="365.9" width="1.0" height="1.0" fill="#405010" opacity="0.09"/>
<rect x="151.2" y="436.8" width="1.1" height="1.1" fill="#802010" opacity="0.19"/>
<rect x="175.6" y="374.6" width="1.1" height="1.1" fill="#405010" opacity="0.19"/>
<rect x="199.9" y="382.2" width="1.2" height="1.2" fill="#405010" opacity="0.07"/>
<rect x="176.3" y="391.7" width="1.3" height="1.3" fill="#603010" opacity="0.10"/>
<rect x="174.3" y="411.4" width="0.9" height="0.9" fill="#603010" opacity="0.17"/>
<rect x="160.3" y="374.2" width="1.2" height="1.2" fill="#603010" opacity="0.16"/>
<rect x="169.5" y="407.3" width="1.1" height="1.1" fill="#802010" opacity="0.14"/>
<rect x="162.5" y="433.6" width="0.9" height="0.9" fill="#802010" opacity="0.19"/>
<rect x="156.2" y="433.1" width="0.9" height="0.9" fill="#405010" opacity="0.21"/>
<rect x="182.0" y="377.7" width="1.3" height="1.3" fill="#603010" opacity="0.11"/>
<rect x="194.0" y="372.2" width="1.0" height="1.0" fill="#603010" opacity="0.17"/>
<rect x="163.6" y="390.1" width="0.9" height="0.9" fill="#603010" opacity="0.19"/>
<rect x="158.5" y="428.1" width="1.3" height="1.3" fill="#603010" opacity="0.07"/>
<rect x="189.8" y="381.2" width="1.2" height="1.2" fill="#603010" opacity="0.15"/>
<rect x="170.2" y="412.4" width="1.0" height="1.0" fill="#603010" opacity="0.15"/>
<rect x="187.6" y="365.8" width="1.3" height="1.3" fill="#802010" opacity="0.09"/>
<rect x="184.0" y="397.4" width="0.9" height="0.9" fill="#405010" opacity="0.21"/>
<rect x="171.7" y="415.4" width="0.9" height="0.9" fill="#802010" opacity="0.20"/>
<rect x="175.9" y="365.3" width="0.9" height="0.9" fill="#603010" opacity="0.15"/>
<rect x="175.2" y="386.9" width="1.4" height="1.4" fill="#603010" opacity="0.11"/>
<rect x="149.9" y="381.3" width="1.3" height="1.3" fill="#603010" opacity="0.09"/>
<rect x="166.1" y="398.0" width="1.0" height="1.0" fill="#405010" opacity="0.09"/>
<rect x="186.0" y="396.1" width="1.3" height="1.3" fill="#405010" opacity="0.10"/>
<rect x="182.9" y="376.6" width="1.3" height="1.3" fill="#405010" opacity="0.18"/>
<rect x="174.5" y="409.5" width="0.9" height="0.9" fill="#603010" opacity="0.12"/>
<rect x="156.8" y="396.8" width="1.3" height="1.3" fill="#405010" opacity="0.15"/>
<rect x="200.7" y="398.9" width="0.8" height="0.8" fill="#603010" opacity="0.12"/>
<rect x="178.7" y="425.8" width="0.8" height="0.8" fill="#405010" opacity="0.11"/>
<rect x="164.6" y="403.9" width="1.2" height="1.2" fill="#603010" opacity="0.06"/>
<rect x="183.2" y="362.0" width="1.1" height="1.1" fill="#603010" opacity="0.19"/>
<rect x="192.3" y="415.5" width="0.8" height="0.8" fill="#405010" opacity="0.09"/>
<rect x="185.1" y="434.1" width="1.4" height="1.4" fill="#802010" opacity="0.17"/>
<rect x="157.3" y="377.9" width="0.8" height="0.8" fill="#603010" opacity="0.07"/>
<rect x="195.3" y="400.3" width="0.8" height="0.8" fill="#405010" opacity="0.14"/>
<rect x="171.4" y="408.1" width="1.3" height="1.3" fill="#802010" opacity="0.20"/>
<rect x="200.6" y="406.1" width="1.2" height="1.2" fill="#405010" opacity="0.08"/>
<rect x="159.2" y="422.6" width="1.3" height="1.3" fill="#405010" opacity="0.20"/>
<rect x="175.7" y="385.2" width="1.0" height="1.0" fill="#603010" opacity="0.12"/>
<rect x="186.3" y="382.3" width="1.1" height="1.1" fill="#405010" opacity="0.13"/>
<rect x="197.9" y="365.2" width="1.4" height="1.4" fill="#802010" opacity="0.08"/>
<rect x="195.7" y="411.7" width="1.3" height="1.3" fill="#603010" opacity="0.11"/>
<rect x="186.4" y="403.8" width="1.2" height="1.2" fill="#603010" opacity="0.15"/>
<rect x="153.7" y="429.0" width="0.9" height="0.9" fill="#603010" opacity="0.10"/>
<rect x="171.1" y="369.5" width="0.8" height="0.8" fill="#603010" opacity="0.22"/>
<rect x="166.6" y="437.3" width="1.3" height="1.3" fill="#802010" opacity="0.18"/>
<rect x="183.3" y="425.2" width="0.9" height="0.9" fill="#603010" opacity="0.12"/>
<rect x="156.5" y="366.7" width="1.2" height="1.2" fill="#802010" opacity="0.08"/>
<rect x="196.6" y="408.8" width="1.1" height="1.1" fill="#603010" opacity="0.10"/>
<rect x="178.4" y="374.5" width="1.4" height="1.4" fill="#802010" opacity="0.12"/>
<rect x="171.6" y="384.2" width="1.2" height="1.2" fill="#603010" opacity="0.20"/>
<rect x="190.3" y="378.7" width="1.2" height="1.2" fill="#802010" opacity="0.14"/>
<rect x="165.9" y="399.8" width="1.3" height="1.3" fill="#802010" opacity="0.09"/>
<rect x="194.9" y="373.8" width="1.0" height="1.0" fill="#405010" opacity="0.16"/>
<rect x="163.4" y="404.9" width="1.0" height="1.0" fill="#802010" opacity="0.12"/>
<rect x="171.8" y="374.4" width="1.3" height="1.3" fill="#405010" opacity="0.22"/>
<rect x="161.1" y="436.4" width="1.1" height="1.1" fill="#603010" opacity="0.18"/>
<rect x="155.5" y="406.1" width="1.2" height="1.2" fill="#603010" opacity="0.10"/>
<rect x="159.1" y="412.2" width="0.8" height="0.8" fill="#802010" opacity="0.06"/>
<rect x="200.7" y="388.4" width="1.3" height="1.3" fill="#802010" opacity="0.18"/>
<rect x="177.7" y="387.8" width="1.2" height="1.2" fill="#405010" opacity="0.21"/>
<rect x="155.5" y="378.8" width="1.3" height="1.3" fill="#405010" opacity="0.06"/>
<rect x="186.7" y="410.9" width="1.4" height="1.4" fill="#603010" opacity="0.22"/>
<rect x="155.8" y="364.2" width="1.1" height="1.1" fill="#802010" opacity="0.20"/>
<rect x="190.9" y="377.3" width="1.0" height="1.0" fill="#802010" opacity="0.21"/>
<rect x="156.3" y="381.3" width="1.4" height="1.4" fill="#802010" opacity="0.12"/>
<rect x="186.8" y="406.0" width="1.1" height="1.1" fill="#405010" opacity="0.06"/>
<rect x="178.0" y="428.4" width="1.1" height="1.1" fill="#603010" opacity="0.07"/>
<rect x="154.6" y="374.7" width="0.9" height="0.9" fill="#603010" opacity="0.14"/>
<rect x="198.9" y="408.1" width="0.9" height="0.9" fill="#603010" opacity="0.12"/>
<rect x="179.2" y="391.9" width="1.1" height="1.1" fill="#802010" opacity="0.21"/>
<rect x="149.5" y="423.9" width="1.0" height="1.0" fill="#802010" opacity="0.10"/>
<rect x="166.2" y="404.3" width="1.2" height="1.2" fill="#802010" opacity="0.19"/>
<rect x="177.1" y="386.8" width="1.2" height="1.2" fill="#603010" opacity="0.06"/>
<rect x="150.4" y="421.2" width="1.0" height="1.0" fill="#405010" opacity="0.12"/>
<rect x="180.3" y="385.1" width="1.0" height="1.0" fill="#603010" opacity="0.21"/>
<rect x="172.6" y="416.9" width="0.9" height="0.9" fill="#603010" opacity="0.07"/>
<rect x="150.4" y="371.9" width="0.8" height="0.8" fill="#802010" opacity="0.17"/>
<rect x="172.7" y="407.8" width="1.3" height="1.3" fill="#603010" opacity="0.12"/>
<rect x="170.6" y="426.4" width="1.4" height="1.4" fill="#405010" opacity="0.09"/>
<rect x="194.4" y="410.3" width="0.9" height="0.9" fill="#405010" opacity="0.21"/>
<rect x="192.8" y="410.3" width="1.0" height="1.0" fill="#603010" opacity="0.10"/>
<rect x="153.5" y="417.6" width="0.9" height="0.9" fill="#603010" opacity="0.12"/>
<rect x="150.0" y="428.8" width="1.1" height="1.1" fill="#603010" opacity="0.13"/>
<rect x="190.1" y="372.2" width="0.8" height="0.8" fill="#405010" opacity="0.13"/>
<rect x="200.4" y="362.8" width="1.4" height="1.4" fill="#802010" opacity="0.08"/>
<rect x="199.5" y="437.4" width="0.9" height="0.9" fill="#603010" opacity="0.16"/>
<rect x="151.5" y="396.9" width="1.3" height="1.3" fill="#603010" opacity="0.18"/>
<rect x="155.0" y="409.0" width="1.3" height="1.3" fill="#802010" opacity="0.18"/>
<rect x="193.2" y="385.6" width="1.1" height="1.1" fill="#405010" opacity="0.10"/>
<rect x="196.8" y="362.5" width="1.0" height="1.0" fill="#603010" opacity="0.20"/>
<rect x="180.6" y="397.8" width="1.2" height="1.2" fill="#802010" opacity="0.16"/>
<rect x="180.6" y="406.6" width="1.4" height="1.4" fill="#603010" opacity="0.20"/>
<rect x="183.7" y="388.4" width="1.1" height="1.1" fill="#405010" opacity="0.16"/>
<rect x="178.4" y="400.5" width="1.3" height="1.3" fill="#802010" opacity="0.18"/>
<rect x="159.6" y="388.1" width="1.3" height="1.3" fill="#802010" opacity="0.11"/>
<rect x="170.0" y="402.6" width="0.9" height="0.9" fill="#405010" opacity="0.21"/>
<rect x="196.9" y="422.2" width="1.2" height="1.2" fill="#802010" opacity="0.14"/>
<rect x="168.4" y="425.0" width="0.8" height="0.8" fill="#405010" opacity="0.07"/>
<rect x="191.8" y="363.8" width="0.9" height="0.9" fill="#603010" opacity="0.22"/>
<rect x="173.5" y="409.3" width="1.3" height="1.3" fill="#405010" opacity="0.13"/>
<rect x="172.9" y="423.5" width="1.1" height="1.1" fill="#603010" opacity="0.07"/>
<rect x="200.1" y="393.0" width="1.0" height="1.0" fill="#802010" opacity="0.11"/>
<rect x="154.4" y="426.9" width="1.3" height="1.3" fill="#802010" opacity="0.07"/>
<rect x="159.0" y="410.1" width="0.8" height="0.8" fill="#603010" opacity="0.10"/>
<rect x="162.9" y="416.7" width="0.8" height="0.8" fill="#603010" opacity="0.13"/>
<rect x="199.8" y="437.7" width="0.8" height="0.8" fill="#405010" opacity="0.13"/>
<rect x="197.6" y="366.6" width="1.1" height="1.1" fill="#802010" opacity="0.07"/>
<rect x="183.0" y="433.6" width="1.1" height="1.1" fill="#802010" opacity="0.08"/>
<rect x="152.8" y="366.4" width="0.9" height="0.9" fill="#802010" opacity="0.14"/>
<rect x="191.7" y="377.7" width="1.2" height="1.2" fill="#603010" opacity="0.17"/>
<rect x="188.3" y="387.5" width="1.3" height="1.3" fill="#603010" opacity="0.21"/>
<rect x="150.2" y="366.5" width="1.3" height="1.3" fill="#405010" opacity="0.07"/>
<rect x="171.7" y="398.1" width="1.1" height="1.1" fill="#802010" opacity="0.18"/>
<rect x="157.0" y="396.7" width="1.1" height="1.1" fill="#405010" opacity="0.18"/>
<rect x="188.2" y="432.6" width="1.3" height="1.3" fill="#405010" opacity="0.11"/>
<rect x="192.0" y="371.7" width="1.2" height="1.2" fill="#405010" opacity="0.13"/>
<rect x="179.4" y="415.0" width="1.4" height="1.4" fill="#802010" opacity="0.19"/>
<rect x="160.6" y="369.0" width="1.0" height="1.0" fill="#405010" opacity="0.18"/>
<rect x="182.4" y="429.2" width="1.0" height="1.0" fill="#405010" opacity="0.19"/>
<rect x="199.0" y="435.4" width="0.9" height="0.9" fill="#802010" opacity="0.20"/>
<rect x="166.9" y="423.2" width="1.4" height="1.4" fill="#802010" opacity="0.11"/>
<rect x="179.2" y="433.2" width="1.1" height="1.1" fill="#405010" opacity="0.12"/>
<rect x="192.8" y="373.9" width="1.3" height="1.3" fill="#405010" opacity="0.12"/>
<rect x="180.4" y="414.8" width="1.4" height="1.4" fill="#802010" opacity="0.13"/>
<rect x="194.1" y="420.1" width="0.8" height="0.8" fill="#603010" opacity="0.10"/>
<rect x="150.6" y="419.4" width="1.4" height="1.4" fill="#802010" opacity="0.19"/>
<rect x="154.7" y="374.9" width="1.0" height="1.0" fill="#603010" opacity="0.19"/>
<rect x="172.1" y="375.7" width="0.9" height="0.9" fill="#405010" opacity="0.12"/>
<rect x="162.7" y="391.1" width="1.0" height="1.0" fill="#405010" opacity="0.19"/>
<rect x="167.4" y="436.4" width="1.0" height="1.0" fill="#603010" opacity="0.21"/>
<rect x="191.2" y="437.5" width="1.1" height="1.1" fill="#405010" opacity="0.13"/>
<rect x="155.7" y="404.0" width="0.9" height="0.9" fill="#405010" opacity="0.11"/>
<rect x="152.4" y="397.4" width="1.2" height="1.2" fill="#603010" opacity="0.10"/>
<rect x="189.8" y="431.4" width="1.1" height="1.1" fill="#802010" opacity="0.17"/>
<rect x="152.9" y="406.5" width="0.8" height="0.8" fill="#405010" opacity="0.21"/>
<rect x="194.1" y="397.1" width="1.2" height="1.2" fill="#802010" opacity="0.13"/>
<rect x="169.3" y="430.3" width="0.8" height="0.8" fill="#603010" opacity="0.21"/>
<rect x="160.8" y="410.9" width="1.0" height="1.0" fill="#405010" opacity="0.21"/>
<rect x="162.7" y="408.0" width="1.0" height="1.0" fill="#802010" opacity="0.20"/>
<rect x="188.4" y="373.6" width="0.9" height="0.9" fill="#603010" opacity="0.19"/>
<rect x="179.0" y="435.6" width="1.4" height="1.4" fill="#405010" opacity="0.09"/>
<rect x="188.6" y="393.9" width="1.2" height="1.2" fill="#802010" opacity="0.20"/>
<rect x="176.9" y="378.0" width="1.2" height="1.2" fill="#603010" opacity="0.09"/>
<rect x="173.0" y="428.4" width="1.0" height="1.0" fill="#405010" opacity="0.21"/>
<rect x="176.4" y="387.9" width="1.2" height="1.2" fill="#603010" opacity="0.20"/>
<rect x="178.9" y="436.0" width="1.2" height="1.2" fill="#405010" opacity="0.10"/>
<rect x="188.3" y="420.5" width="1.3" height="1.3" fill="#405010" opacity="0.21"/>
<rect x="190.8" y="399.0" width="1.1" height="1.1" fill="#802010" opacity="0.21"/>
<rect x="153.4" y="418.6" width="1.3" height="1.3" fill="#405010" opacity="0.18"/>
<rect x="172.6" y="406.0" width="1.1" height="1.1" fill="#802010" opacity="0.11"/>
<rect x="162.8" y="417.4" width="1.1" height="1.1" fill="#405010" opacity="0.09"/>
<rect x="158.2" y="368.7" width="1.2" height="1.2" fill="#603010" opacity="0.14"/>
<rect x="188.2" y="423.7" width="1.3" height="1.3" fill="#603010" opacity="0.14"/>
<rect x="151.4" y="375.2" width="0.9" height="0.9" fill="#603010" opacity="0.09"/>
<rect x="167.9" y="432.4" width="0.9" height="0.9" fill="#603010" opacity="0.18"/>
<rect x="200.8" y="416.7" width="1.4" height="1.4" fill="#802010" opacity="0.11"/>
<rect x="153.5" y="437.5" width="1.3" height="1.3" fill="#405010" opacity="0.14"/>
<rect x="185.8" y="375.2" width="1.1" height="1.1" fill="#603010" opacity="0.09"/>
<rect x="181.5" y="426.3" width="1.0" height="1.0" fill="#603010" opacity="0.17"/>
<rect x="152.2" y="388.0" width="1.0" height="1.0" fill="#603010" opacity="0.15"/>
<rect x="163.1" y="383.2" width="1.0" height="1.0" fill="#405010" opacity="0.14"/>
<rect x="192.1" y="405.3" width="0.9" height="0.9" fill="#802010" opacity="0.09"/>
<rect x="152.3" y="417.1" width="1.2" height="1.2" fill="#603010" opacity="0.20"/>
<rect x="152.7" y="421.6" width="1.4" height="1.4" fill="#603010" opacity="0.21"/>
<rect x="176.4" y="379.1" width="0.9" height="0.9" fill="#405010" opacity="0.07"/>
<rect x="168.4" y="419.6" width="1.0" height="1.0" fill="#405010" opacity="0.20"/>
<rect x="161.8" y="417.5" width="1.1" height="1.1" fill="#802010" opacity="0.15"/>
<rect x="187.6" y="406.7" width="1.4" height="1.4" fill="#802010" opacity="0.14"/>
<rect x="167.7" y="401.3" width="1.2" height="1.2" fill="#802010" opacity="0.18"/>
<rect x="193.2" y="383.0" width="1.0" height="1.0" fill="#603010" opacity="0.11"/>
<rect x="152.2" y="363.8" width="0.9" height="0.9" fill="#405010" opacity="0.20"/>
<rect x="172.8" y="394.3" width="1.2" height="1.2" fill="#802010" opacity="0.10"/>
<rect x="161.0" y="387.6" width="1.1" height="1.1" fill="#802010" opacity="0.12"/>
<rect x="192.2" y="392.8" width="1.2" height="1.2" fill="#405010" opacity="0.18"/>
<rect x="154.8" y="415.1" width="1.3" height="1.3" fill="#802010" opacity="0.20"/>
<rect x="182.1" y="440.0" width="0.8" height="0.8" fill="#405010" opacity="0.15"/>
<rect x="176.3" y="412.6" width="1.4" height="1.4" fill="#802010" opacity="0.12"/>
<rect x="188.7" y="387.6" width="0.8" height="0.8" fill="#405010" opacity="0.07"/>
<rect x="195.4" y="383.4" width="1.1" height="1.1" fill="#802010" opacity="0.09"/>
<rect x="175.2" y="425.9" width="1.4" height="1.4" fill="#405010" opacity="0.07"/>
<rect x="192.1" y="408.4" width="1.0" height="1.0" fill="#802010" opacity="0.18"/>
<rect x="163.8" y="426.4" width="1.4" height="1.4" fill="#802010" opacity="0.11"/>
<rect x="160.6" y="372.0" width="1.3" height="1.3" fill="#603010" opacity="0.08"/>
<rect x="176.5" y="390.3" width="1.2" height="1.2" fill="#603010" opacity="0.19"/>
<rect x="176.6" y="384.0" width="1.4" height="1.4" fill="#405010" opacity="0.13"/>
<rect x="199.1" y="418.9" width="1.0" height="1.0" fill="#802010" opacity="0.19"/>
<rect x="173.5" y="423.1" width="0.9" height="0.9" fill="#405010" opacity="0.13"/>
<rect x="165.8" y="417.2" width="1.3" height="1.3" fill="#603010" opacity="0.13"/>
<rect x="156.2" y="437.4" width="1.4" height="1.4" fill="#802010" opacity="0.08"/>
<rect x="196.2" y="379.0" width="1.4" height="1.4" fill="#802010" opacity="0.14"/>
<rect x="151.3" y="380.2" width="1.4" height="1.4" fill="#405010" opacity="0.18"/>
<rect x="192.0" y="374.4" width="1.0" height="1.0" fill="#603010" opacity="0.20"/>
<rect x="163.3" y="408.8" width="1.0" height="1.0" fill="#802010" opacity="0.15"/>
<rect x="180.6" y="437.8" width="1.0" height="1.0" fill="#603010" opacity="0.15"/>
<rect x="176.9" y="382.4" width="0.8" height="0.8" fill="#802010" opacity="0.13"/>
<rect x="200.9" y="394.4" width="1.1" height="1.1" fill="#802010" opacity="0.18"/>
<rect x="179.0" y="391.8" width="1.2" height="1.2" fill="#802010" opacity="0.09"/>
<rect x="193.0" y="367.9" width="1.2" height="1.2" fill="#603010" opacity="0.21"/>
<rect x="187.6" y="434.0" width="0.9" height="0.9" fill="#405010" opacity="0.09"/>
<rect x="173.2" y="370.7" width="1.3" height="1.3" fill="#603010" opacity="0.19"/>
<rect x="195.5" y="379.7" width="1.3" height="1.3" fill="#802010" opacity="0.07"/>
<rect x="155.2" y="365.6" width="1.1" height="1.1" fill="#405010" opacity="0.06"/>
<rect x="181.2" y="384.3" width="1.0" height="1.0" fill="#405010" opacity="0.19"/>
<rect x="188.1" y="391.2" width="1.1" height="1.1" fill="#405010" opacity="0.10"/>
<rect x="180.5" y="427.0" width="1.1" height="1.1" fill="#603010" opacity="0.13"/>
<rect x="200.1" y="375.4" width="1.1" height="1.1" fill="#405010" opacity="0.08"/>
<rect x="178.3" y="376.7" width="1.2" height="1.2" fill="#603010" opacity="0.19"/>
<rect x="176.4" y="375.3" width="1.3" height="1.3" fill="#405010" opacity="0.21"/>
<rect x="156.9" y="368.3" width="1.2" height="1.2" fill="#603010" opacity="0.10"/>
<rect x="190.8" y="404.8" width="1.2" height="1.2" fill="#603010" opacity="0.09"/>
<rect x="183.6" y="410.7" width="1.3" height="1.3" fill="#802010" opacity="0.10"/>
<rect x="186.9" y="429.6" width="1.3" height="1.3" fill="#405010" opacity="0.18"/>
<rect x="175.6" y="403.8" width="1.2" height="1.2" fill="#405010" opacity="0.08"/>
<rect x="193.5" y="369.9" width="1.4" height="1.4" fill="#405010" opacity="0.12"/>
<rect x="191.3" y="429.8" width="1.0" height="1.0" fill="#802010" opacity="0.08"/>
<rect x="154.3" y="380.1" width="0.9" height="0.9" fill="#603010" opacity="0.18"/>
<rect x="154.9" y="425.7" width="1.3" height="1.3" fill="#802010" opacity="0.12"/>
<rect x="199.7" y="394.3" width="1.2" height="1.2" fill="#405010" opacity="0.10"/>
<rect x="192.0" y="422.2" width="0.9" height="0.9" fill="#603010" opacity="0.10"/>
<rect x="174.7" y="375.4" width="1.2" height="1.2" fill="#603010" opacity="0.09"/>
<rect x="161.8" y="434.4" width="1.2" height="1.2" fill="#603010" opacity="0.13"/>
<rect x="197.0" y="404.4" width="1.2" height="1.2" fill="#405010" opacity="0.17"/>
<rect x="149.6" y="380.5" width="1.2" height="1.2" fill="#405010" opacity="0.17"/>
<rect x="193.0" y="414.7" width="1.1" height="1.1" fill="#802010" opacity="0.21"/>
<rect x="176.0" y="380.4" width="1.2" height="1.2" fill="#603010" opacity="0.12"/>
<rect x="188.0" y="403.9" width="0.8" height="0.8" fill="#603010" opacity="0.07"/>
<rect x="173.1" y="391.9" width="1.4" height="1.4" fill="#802010" opacity="0.11"/>
<rect x="168.1" y="404.7" width="0.9" height="0.9" fill="#603010" opacity="0.07"/>
<rect x="195.1" y="389.9" width="1.3" height="1.3" fill="#802010" opacity="0.21"/>
<rect x="197.5" y="382.9" width="1.2" height="1.2" fill="#405010" opacity="0.16"/>
<rect x="174.4" y="433.8" width="1.0" height="1.0" fill="#405010" opacity="0.11"/>
<rect x="176.2" y="370.3" width="1.2" height="1.2" fill="#802010" opacity="0.13"/>
<rect x="165.7" y="388.3" width="1.3" height="1.3" fill="#603010" opacity="0.21"/>
<rect x="156.3" y="398.8" width="0.9" height="0.9" fill="#802010" opacity="0.14"/>
<rect x="183.4" y="408.2" width="1.4" height="1.4" fill="#405010" opacity="0.11"/>
<rect x="179.7" y="436.7" width="1.1" height="1.1" fill="#603010" opacity="0.19"/>
<rect x="163.6" y="384.0" width="0.9" height="0.9" fill="#603010" opacity="0.19"/>
<rect x="155.4" y="437.4" width="1.3" height="1.3" fill="#405010" opacity="0.15"/>
<rect x="185.4" y="391.0" width="1.0" height="1.0" fill="#802010" opacity="0.14"/>
<rect x="199.0" y="405.3" width="1.4" height="1.4" fill="#802010" opacity="0.11"/>
<rect x="178.7" y="419.3" width="1.3" height="1.3" fill="#405010" opacity="0.11"/>
<rect x="171.4" y="429.9" width="1.0" height="1.0" fill="#802010" opacity="0.12"/>
<rect x="190.7" y="431.3" width="1.4" height="1.4" fill="#405010" opacity="0.09"/>
<rect x="190.6" y="403.1" width="1.1" height="1.1" fill="#405010" opacity="0.07"/>
<rect x="165.1" y="383.8" width="1.2" height="1.2" fill="#802010" opacity="0.15"/>
<rect x="154.9" y="436.7" width="1.0" height="1.0" fill="#405010" opacity="0.19"/>
<rect x="186.1" y="370.0" width="0.8" height="0.8" fill="#802010" opacity="0.08"/>
<rect x="160.0" y="381.3" width="1.3" height="1.3" fill="#802010" opacity="0.18"/>
<rect x="191.5" y="372.6" width="0.8" height="0.8" fill="#405010" opacity="0.19"/>
<rect x="178.5" y="398.6" width="1.1" height="1.1" fill="#802010" opacity="0.21"/>
<rect x="164.7" y="388.9" width="1.3" height="1.3" fill="#603010" opacity="0.19"/>
<rect x="185.1" y="383.7" width="1.2" height="1.2" fill="#405010" opacity="0.07"/>
<rect x="166.8" y="392.0" width="1.2" height="1.2" fill="#802010" opacity="0.19"/>
<rect x="196.6" y="438.7" width="1.3" height="1.3" fill="#603010" opacity="0.14"/>
<rect x="199.0" y="366.1" width="1.3" height="1.3" fill="#802010" opacity="0.19"/>
<rect x="178.7" y="409.8" width="1.1" height="1.1" fill="#603010" opacity="0.19"/>
<rect x="156.5" y="370.5" width="1.1" height="1.1" fill="#802010" opacity="0.16"/>
<rect x="197.7" y="371.3" width="1.1" height="1.1" fill="#802010" opacity="0.21"/>
<rect x="196.5" y="419.3" width="1.2" height="1.2" fill="#405010" opacity="0.16"/>
<rect x="169.8" y="409.2" width="1.3" height="1.3" fill="#802010" opacity="0.13"/>
<rect x="187.0" y="384.6" width="0.8" height="0.8" fill="#603010" opacity="0.15"/>
<rect x="188.8" y="433.2" width="1.3" height="1.3" fill="#405010" opacity="0.12"/>
<rect x="176.6" y="373.1" width="1.2" height="1.2" fill="#802010" opacity="0.10"/>
<rect x="153.1" y="368.1" width="1.0" height="1.0" fill="#802010" opacity="0.20"/>
<rect x="164.9" y="378.5" width="1.1" height="1.1" fill="#603010" opacity="0.19"/>
<rect x="168.8" y="438.5" width="1.2" height="1.2" fill="#405010" opacity="0.12"/>
<rect x="192.4" y="401.6" width="1.2" height="1.2" fill="#603010" opacity="0.19"/>
<rect x="156.0" y="422.5" width="1.2" height="1.2" fill="#603010" opacity="0.20"/>
<rect x="177.8" y="436.3" width="1.2" height="1.2" fill="#405010" opacity="0.13"/>
<rect x="167.8" y="378.5" width="1.4" height="1.4" fill="#405010" opacity="0.14"/>
<rect x="182.8" y="406.6" width="1.2" height="1.2" fill="#802010" opacity="0.17"/>
<rect x="149.5" y="437.3" width="0.8" height="0.8" fill="#603010" opacity="0.18"/>
<rect x="182.0" y="362.6" width="1.2" height="1.2" fill="#405010" opacity="0.07"/>
<rect x="187.4" y="414.5" width="1.1" height="1.1" fill="#603010" opacity="0.21"/>
<rect x="170.5" y="362.4" width="1.1" height="1.1" fill="#802010" opacity="0.11"/>
<rect x="161.2" y="369.0" width="1.2" height="1.2" fill="#405010" opacity="0.20"/>
<rect x="197.3" y="389.6" width="1.2" height="1.2" fill="#603010" opacity="0.16"/>
<rect x="164.7" y="403.0" width="1.3" height="1.3" fill="#802010" opacity="0.15"/>
<rect x="167.6" y="417.0" width="1.1" height="1.1" fill="#603010" opacity="0.17"/>
<rect x="178.6" y="437.8" width="1.2" height="1.2" fill="#802010" opacity="0.15"/>
<rect x="184.6" y="436.6" width="1.3" height="1.3" fill="#603010" opacity="0.11"/>
<rect x="162.9" y="428.8" width="0.9" height="0.9" fill="#802010" opacity="0.17"/>
<rect x="150.2" y="422.2" width="0.9" height="0.9" fill="#603010" opacity="0.17"/>
<rect x="192.3" y="439.8" width="1.3" height="1.3" fill="#405010" opacity="0.07"/>
<rect x="190.0" y="396.1" width="1.2" height="1.2" fill="#405010" opacity="0.09"/>
<rect x="195.7" y="408.3" width="1.4" height="1.4" fill="#603010" opacity="0.12"/>
<rect x="172.6" y="406.3" width="0.8" height="0.8" fill="#802010" opacity="0.18"/>
<rect x="199.3" y="409.2" width="1.1" height="1.1" fill="#603010" opacity="0.21"/>
<rect x="188.4" y="398.9" width="1.0" height="1.0" fill="#603010" opacity="0.14"/>
<rect x="194.1" y="430.0" width="1.2" height="1.2" fill="#405010" opacity="0.19"/>
<rect x="157.0" y="394.6" width="1.2" height="1.2" fill="#802010" opacity="0.19"/>
<rect x="162.3" y="411.1" width="1.0" height="1.0" fill="#603010" opacity="0.13"/>
<rect x="152.0" y="433.2" width="1.1" height="1.1" fill="#802010" opacity="0.15"/>
<rect x="179.3" y="382.9" width="1.2" height="1.2" fill="#802010" opacity="0.15"/>
<rect x="185.8" y="387.3" width="0.9" height="0.9" fill="#802010" opacity="0.22"/>
<rect x="168.7" y="420.4" width="1.2" height="1.2" fill="#802010" opacity="0.09"/>
<rect x="200.1" y="406.1" width="0.8" height="0.8" fill="#405010" opacity="0.14"/>
<rect x="180.1" y="379.3" width="1.3" height="1.3" fill="#405010" opacity="0.17"/>
<rect x="192.0" y="368.3" width="1.0" height="1.0" fill="#603010" opacity="0.19"/>
<rect x="158.0" y="384.1" width="1.2" height="1.2" fill="#603010" opacity="0.20"/>
<rect x="197.2" y="381.6" width="1.2" height="1.2" fill="#802010" opacity="0.21"/>
<rect x="149.6" y="393.4" width="1.1" height="1.1" fill="#802010" opacity="0.09"/>
<rect x="181.6" y="399.0" width="1.2" height="1.2" fill="#603010" opacity="0.12"/>
<rect x="153.3" y="405.2" width="1.3" height="1.3" fill="#603010" opacity="0.15"/>
<rect x="179.4" y="376.0" width="1.2" height="1.2" fill="#603010" opacity="0.21"/>
<rect x="177.7" y="409.6" width="0.9" height="0.9" fill="#603010" opacity="0.09"/>
<rect x="194.4" y="421.6" width="1.0" height="1.0" fill="#603010" opacity="0.14"/>
<rect x="156.4" y="380.2" width="1.4" height="1.4" fill="#405010" opacity="0.10"/>
<rect x="167.9" y="431.7" width="1.1" height="1.1" fill="#603010" opacity="0.17"/>
<rect x="199.1" y="390.2" width="1.0" height="1.0" fill="#802010" opacity="0.12"/>
<rect x="170.4" y="410.8" width="1.3" height="1.3" fill="#603010" opacity="0.15"/>
<rect x="154.8" y="407.0" width="0.9" height="0.9" fill="#603010" opacity="0.11"/>
<rect x="151.9" y="410.4" width="1.0" height="1.0" fill="#603010" opacity="0.18"/>
<rect x="167.6" y="422.3" width="0.8" height="0.8" fill="#802010" opacity="0.17"/>
<rect x="152.2" y="407.9" width="0.9" height="0.9" fill="#405010" opacity="0.07"/>
<rect x="164.4" y="388.7" width="1.3" height="1.3" fill="#405010" opacity="0.11"/>
<rect x="159.0" y="394.2" width="0.9" height="0.9" fill="#603010" opacity="0.06"/>
<rect x="151.3" y="383.6" width="1.1" height="1.1" fill="#405010" opacity="0.11"/>
<rect x="156.7" y="389.4" width="1.1" height="1.1" fill="#405010" opacity="0.16"/>
<rect x="151.5" y="362.9" width="1.3" height="1.3" fill="#603010" opacity="0.13"/>
<rect x="162.2" y="416.4" width="0.9" height="0.9" fill="#603010" opacity="0.20"/>
<rect x="152.2" y="376.8" width="1.4" height="1.4" fill="#603010" opacity="0.09"/>
<rect x="158.8" y="362.6" width="1.2" height="1.2" fill="#603010" opacity="0.09"/>
<rect x="187.8" y="402.2" width="1.2" height="1.2" fill="#603010" opacity="0.21"/>
<rect x="180.6" y="417.4" width="1.3" height="1.3" fill="#603010" opacity="0.11"/>
<rect x="172.5" y="427.6" width="1.1" height="1.1" fill="#802010" opacity="0.12"/>
<rect x="183.7" y="408.8" width="1.1" height="1.1" fill="#603010" opacity="0.14"/>
<rect x="189.0" y="370.5" width="1.0" height="1.0" fill="#603010" opacity="0.19"/>
<rect x="179.2" y="436.9" width="1.0" height="1.0" fill="#802010" opacity="0.22"/>
<rect x="149.6" y="416.4" width="0.8" height="0.8" fill="#802010" opacity="0.12"/>
<rect x="158.2" y="401.0" width="1.3" height="1.3" fill="#802010" opacity="0.13"/>
<rect x="197.3" y="377.9" width="1.1" height="1.1" fill="#405010" opacity="0.20"/>
<rect x="190.8" y="423.6" width="0.9" height="0.9" fill="#603010" opacity="0.16"/>
<rect x="179.6" y="408.2" width="0.9" height="0.9" fill="#603010" opacity="0.18"/>
<rect x="182.3" y="402.3" width="1.4" height="1.4" fill="#603010" opacity="0.20"/>
<rect x="175.5" y="416.0" width="1.2" height="1.2" fill="#405010" opacity="0.07"/>
<rect x="169.8" y="415.2" width="0.9" height="0.9" fill="#802010" opacity="0.09"/>
<rect x="159.1" y="398.9" width="1.2" height="1.2" fill="#405010" opacity="0.12"/>
<rect x="182.6" y="369.3" width="0.8" height="0.8" fill="#802010" opacity="0.18"/>
<rect x="167.2" y="369.3" width="0.9" height="0.9" fill="#405010" opacity="0.08"/>
<rect x="197.6" y="384.6" width="1.0" height="1.0" fill="#603010" opacity="0.17"/>
<rect x="174.1" y="424.8" width="0.9" height="0.9" fill="#603010" opacity="0.21"/>
<rect x="158.1" y="384.9" width="0.9" height="0.9" fill="#603010" opacity="0.14"/>
<rect x="181.9" y="433.8" width="1.2" height="1.2" fill="#405010" opacity="0.06"/>
<rect x="183.6" y="436.4" width="1.3" height="1.3" fill="#603010" opacity="0.08"/>
<rect x="186.1" y="439.4" width="1.0" height="1.0" fill="#802010" opacity="0.22"/>
<rect x="194.6" y="377.5" width="1.2" height="1.2" fill="#802010" opacity="0.11"/>
<rect x="181.3" y="381.8" width="0.8" height="0.8" fill="#802010" opacity="0.14"/>
<rect x="172.3" y="374.3" width="0.9" height="0.9" fill="#405010" opacity="0.09"/>
<rect x="153.1" y="368.1" width="1.1" height="1.1" fill="#405010" opacity="0.18"/>
<rect x="170.4" y="425.1" width="1.2" height="1.2" fill="#802010" opacity="0.09"/>
<rect x="190.0" y="431.7" width="1.2" height="1.2" fill="#802010" opacity="0.06"/>
<rect x="188.7" y="430.2" width="1.1" height="1.1" fill="#802010" opacity="0.11"/>
<rect x="168.9" y="427.2" width="1.0" height="1.0" fill="#405010" opacity="0.19"/>
<rect x="191.6" y="363.4" width="0.8" height="0.8" fill="#802010" opacity="0.12"/>
<rect x="199.5" y="399.1" width="1.2" height="1.2" fill="#802010" opacity="0.20"/>
<rect x="189.9" y="364.9" width="1.0" height="1.0" fill="#405010" opacity="0.12"/>
<rect x="155.9" y="394.6" width="0.8" height="0.8" fill="#405010" opacity="0.18"/>
<rect x="168.6" y="439.1" width="1.3" height="1.3" fill="#802010" opacity="0.13"/>
<rect x="153.5" y="402.6" width="1.3" height="1.3" fill="#603010" opacity="0.17"/>
<rect x="179.7" y="401.8" width="1.0" height="1.0" fill="#603010" opacity="0.08"/>
<rect x="159.9" y="368.1" width="0.8" height="0.8" fill="#802010" opacity="0.15"/>
<rect x="196.0" y="437.1" width="1.3" height="1.3" fill="#802010" opacity="0.11"/>
<rect x="167.7" y="382.4" width="0.8" height="0.8" fill="#802010" opacity="0.15"/>
<rect x="154.5" y="429.2" width="1.0" height="1.0" fill="#405010" opacity="0.14"/>
<rect x="192.4" y="390.5" width="1.1" height="1.1" fill="#603010" opacity="0.12"/>
<rect x="184.8" y="428.9" width="1.3" height="1.3" fill="#802010" opacity="0.10"/>
<rect x="192.7" y="434.2" width="0.8" height="0.8" fill="#802010" opacity="0.17"/>
<rect x="172.7" y="373.9" width="1.4" height="1.4" fill="#802010" opacity="0.13"/>
<rect x="200.0" y="401.0" width="1.3" height="1.3" fill="#405010" opacity="0.10"/>
<rect x="182.5" y="364.9" width="1.1" height="1.1" fill="#405010" opacity="0.17"/>
<rect x="195.2" y="421.4" width="1.3" height="1.3" fill="#405010" opacity="0.12"/>
<rect x="158.0" y="432.8" width="1.4" height="1.4" fill="#603010" opacity="0.12"/>
<rect x="188.1" y="412.9" width="0.9" height="0.9" fill="#405010" opacity="0.14"/>
<rect x="183.5" y="370.6" width="0.9" height="0.9" fill="#603010" opacity="0.10"/>
<rect x="155.8" y="370.6" width="1.1" height="1.1" fill="#405010" opacity="0.11"/>
<rect x="176.2" y="383.1" width="1.0" height="1.0" fill="#603010" opacity="0.18"/>
<rect x="180.3" y="382.0" width="1.1" height="1.1" fill="#405010" opacity="0.19"/>
<rect x="159.8" y="389.8" width="0.9" height="0.9" fill="#802010" opacity="0.11"/>
<rect x="161.4" y="377.0" width="1.2" height="1.2" fill="#405010" opacity="0.15"/>
<rect x="179.7" y="395.5" width="1.2" height="1.2" fill="#603010" opacity="0.09"/>
<rect x="157.8" y="364.3" width="1.3" height="1.3" fill="#603010" opacity="0.13"/>
<rect x="154.6" y="410.6" width="1.3" height="1.3" fill="#603010" opacity="0.07"/>
<rect x="190.8" y="431.2" width="0.9" height="0.9" fill="#603010" opacity="0.20"/>
<rect x="173.6" y="389.6" width="0.9" height="0.9" fill="#802010" opacity="0.20"/>
<rect x="153.6" y="416.6" width="1.2" height="1.2" fill="#603010" opacity="0.19"/>
<rect x="197.1" y="405.3" width="1.3" height="1.3" fill="#802010" opacity="0.06"/>
<rect x="174.0" y="424.8" width="1.3" height="1.3" fill="#603010" opacity="0.19"/>
<rect x="182.5" y="417.0" width="1.4" height="1.4" fill="#405010" opacity="0.09"/>
<rect x="185.0" y="365.3" width="0.9" height="0.9" fill="#603010" opacity="0.16"/>
<rect x="187.9" y="407.9" width="1.3" height="1.3" fill="#802010" opacity="0.15"/>
<rect x="194.2" y="367.1" width="0.9" height="0.9" fill="#802010" opacity="0.12"/>
<rect x="187.9" y="372.0" width="1.3" height="1.3" fill="#802010" opacity="0.17"/>
<rect x="163.7" y="371.3" width="0.9" height="0.9" fill="#802010" opacity="0.18"/>
<rect x="186.8" y="404.1" width="1.0" height="1.0" fill="#603010" opacity="0.11"/>
<rect x="168.7" y="390.8" width="1.3" height="1.3" fill="#405010" opacity="0.07"/>
<rect x="176.6" y="384.3" width="1.0" height="1.0" fill="#603010" opacity="0.14"/>
<rect x="163.9" y="387.8" width="1.3" height="1.3" fill="#405010" opacity="0.08"/>
<rect x="181.5" y="418.1" width="1.1" height="1.1" fill="#603010" opacity="0.10"/>
<rect x="170.3" y="419.3" width="1.0" height="1.0" fill="#405010" opacity="0.08"/>
<rect x="186.9" y="396.3" width="0.9" height="0.9" fill="#405010" opacity="0.11"/>
<rect x="186.3" y="365.8" width="1.3" height="1.3" fill="#603010" opacity="0.07"/>
<rect x="179.0" y="368.8" width="1.0" height="1.0" fill="#802010" opacity="0.08"/>
<rect x="184.0" y="417.6" width="1.0" height="1.0" fill="#405010" opacity="0.17"/>
<rect x="197.9" y="403.4" width="0.8" height="0.8" fill="#405010" opacity="0.16"/>
<rect x="160.5" y="404.7" width="1.2" height="1.2" fill="#802010" opacity="0.20"/>
<rect x="161.9" y="417.2" width="1.1" height="1.1" fill="#603010" opacity="0.18"/>
<rect x="187.3" y="387.8" width="0.8" height="0.8" fill="#802010" opacity="0.22"/>
<rect x="166.5" y="422.9" width="0.9" height="0.9" fill="#603010" opacity="0.09"/>
<rect x="187.6" y="428.4" width="1.3" height="1.3" fill="#603010" opacity="0.12"/>
<rect x="190.8" y="388.8" width="1.0" height="1.0" fill="#802010" opacity="0.19"/>
<rect x="167.2" y="432.6" width="1.0" height="1.0" fill="#405010" opacity="0.09"/>
<rect x="164.0" y="434.4" width="1.2" height="1.2" fill="#802010" opacity="0.20"/>
<rect x="197.8" y="397.1" width="1.1" height="1.1" fill="#603010" opacity="0.21"/>
<rect x="182.9" y="362.6" width="1.2" height="1.2" fill="#603010" opacity="0.10"/>
<rect x="179.0" y="411.7" width="1.3" height="1.3" fill="#603010" opacity="0.15"/>
<rect x="172.2" y="385.0" width="1.1" height="1.1" fill="#405010" opacity="0.07"/>
<rect x="171.6" y="429.0" width="1.4" height="1.4" fill="#405010" opacity="0.07"/>
<rect x="166.9" y="391.6" width="1.2" height="1.2" fill="#802010" opacity="0.19"/>
<rect x="181.1" y="402.8" width="1.1" height="1.1" fill="#405010" opacity="0.07"/>
<rect x="159.8" y="370.6" width="1.2" height="1.2" fill="#405010" opacity="0.21"/>
<rect x="150.4" y="407.0" width="0.8" height="0.8" fill="#802010" opacity="0.17"/>
<rect x="182.5" y="426.4" width="1.0" height="1.0" fill="#405010" opacity="0.07"/>
<rect x="172.3" y="378.4" width="1.1" height="1.1" fill="#405010" opacity="0.18"/>
<rect x="190.5" y="432.6" width="1.1" height="1.1" fill="#603010" opacity="0.18"/>
<rect x="164.1" y="371.1" width="1.3" height="1.3" fill="#405010" opacity="0.07"/>
<rect x="175.8" y="435.2" width="1.2" height="1.2" fill="#802010" opacity="0.09"/>
<rect x="163.9" y="390.1" width="1.4" height="1.4" fill="#405010" opacity="0.15"/>
<rect x="151.7" y="393.7" width="1.4" height="1.4" fill="#802010" opacity="0.13"/>
<rect x="191.2" y="425.9" width="0.9" height="0.9" fill="#405010" opacity="0.08"/>
<rect x="190.2" y="379.4" width="1.0" height="1.0" fill="#603010" opacity="0.15"/>
<rect x="187.2" y="414.5" width="0.8" height="0.8" fill="#405010" opacity="0.18"/>
<rect x="160.8" y="405.7" width="0.9" height="0.9" fill="#603010" opacity="0.07"/>
<rect x="199.1" y="412.2" width="0.9" height="0.9" fill="#603010" opacity="0.17"/>
<rect x="158.6" y="367.1" width="1.3" height="1.3" fill="#603010" opacity="0.08"/>
<rect x="170.5" y="368.3" width="0.9" height="0.9" fill="#802010" opacity="0.07"/>
<rect x="166.1" y="393.6" width="1.0" height="1.0" fill="#802010" opacity="0.07"/>
<rect x="183.5" y="400.0" width="0.9" height="0.9" fill="#802010" opacity="0.07"/>
<rect x="198.9" y="412.3" width="1.4" height="1.4" fill="#802010" opacity="0.15"/>
<rect x="186.5" y="422.5" width="0.9" height="0.9" fill="#802010" opacity="0.20"/>
<rect x="192.2" y="423.6" width="1.0" height="1.0" fill="#405010" opacity="0.16"/>
<rect x="189.8" y="429.9" width="1.1" height="1.1" fill="#603010" opacity="0.11"/>
<rect x="192.1" y="385.6" width="1.2" height="1.2" fill="#603010" opacity="0.15"/>
<rect x="190.6" y="402.1" width="1.3" height="1.3" fill="#603010" opacity="0.17"/>
<rect x="170.7" y="439.7" width="1.4" height="1.4" fill="#802010" opacity="0.22"/>
<rect x="162.7" y="394.0" width="1.3" height="1.3" fill="#405010" opacity="0.18"/>
<rect x="194.3" y="394.3" width="1.1" height="1.1" fill="#603010" opacity="0.07"/>
<rect x="180.0" y="380.9" width="1.0" height="1.0" fill="#405010" opacity="0.14"/>
<rect x="165.5" y="397.0" width="1.3" height="1.3" fill="#802010" opacity="0.19"/>
<rect x="195.1" y="398.5" width="1.3" height="1.3" fill="#405010" opacity="0.22"/>
<rect x="191.8" y="372.4" width="1.4" height="1.4" fill="#802010" opacity="0.09"/>
<rect x="189.6" y="399.7" width="0.9" height="0.9" fill="#802010" opacity="0.18"/>
<rect x="182.9" y="386.3" width="1.3" height="1.3" fill="#802010" opacity="0.16"/>
<rect x="153.5" y="430.6" width="1.1" height="1.1" fill="#802010" opacity="0.08"/>
<rect x="171.3" y="429.5" width="1.2" height="1.2" fill="#802010" opacity="0.12"/>
<rect x="171.4" y="393.2" width="1.4" height="1.4" fill="#405010" opacity="0.09"/>
<rect x="175.4" y="412.1" width="1.0" height="1.0" fill="#802010" opacity="0.19"/>
<rect x="183.8" y="426.3" width="1.1" height="1.1" fill="#603010" opacity="0.12"/>
<rect x="153.8" y="417.7" width="1.0" height="1.0" fill="#603010" opacity="0.10"/>
<rect x="191.8" y="432.1" width="1.2" height="1.2" fill="#603010" opacity="0.11"/>
<rect x="155.4" y="384.2" width="1.0" height="1.0" fill="#802010" opacity="0.09"/>
<rect x="174.8" y="423.3" width="1.1" height="1.1" fill="#802010" opacity="0.22"/>
<rect x="182.0" y="394.1" width="1.0" height="1.0" fill="#603010" opacity="0.22"/>
<rect x="169.1" y="383.1" width="1.2" height="1.2" fill="#405010" opacity="0.14"/>
<rect x="188.3" y="428.9" width="1.0" height="1.0" fill="#603010" opacity="0.19"/>
<rect x="156.8" y="425.6" width="1.3" height="1.3" fill="#802010" opacity="0.13"/>
<rect x="190.2" y="397.2" width="1.0" height="1.0" fill="#603010" opacity="0.18"/>
<rect x="187.5" y="433.1" width="1.4" height="1.4" fill="#603010" opacity="0.18"/>
<rect x="154.1" y="385.1" width="1.2" height="1.2" fill="#603010" opacity="0.20"/>
<rect x="179.8" y="408.6" width="1.2" height="1.2" fill="#802010" opacity="0.11"/>
<rect x="152.2" y="365.9" width="0.8" height="0.8" fill="#802010" opacity="0.18"/>
<rect x="153.8" y="372.8" width="0.8" height="0.8" fill="#802010" opacity="0.11"/>
<rect x="168.2" y="424.7" width="0.9" height="0.9" fill="#802010" opacity="0.12"/>
<rect x="168.5" y="407.6" width="1.2" height="1.2" fill="#603010" opacity="0.08"/>
<rect x="152.3" y="415.0" width="1.4" height="1.4" fill="#603010" opacity="0.21"/>
<rect x="158.2" y="426.0" width="1.4" height="1.4" fill="#802010" opacity="0.11"/>
<rect x="170.9" y="431.7" width="1.0" height="1.0" fill="#802010" opacity="0.17"/>
<rect x="164.1" y="372.3" width="1.0" height="1.0" fill="#405010" opacity="0.21"/>
<rect x="194.4" y="404.2" width="1.1" height="1.1" fill="#603010" opacity="0.14"/>
<rect x="157.2" y="362.7" width="1.1" height="1.1" fill="#603010" opacity="0.19"/>
<rect x="200.3" y="411.9" width="1.3" height="1.3" fill="#603010" opacity="0.19"/>
<rect x="174.0" y="404.0" width="1.1" height="1.1" fill="#405010" opacity="0.13"/>
<rect x="186.4" y="364.8" width="1.3" height="1.3" fill="#603010" opacity="0.21"/>
<rect x="153.7" y="430.2" width="1.1" height="1.1" fill="#405010" opacity="0.21"/>
<rect x="174.2" y="391.6" width="1.0" height="1.0" fill="#802010" opacity="0.11"/>
<rect x="164.3" y="398.3" width="0.9" height="0.9" fill="#603010" opacity="0.14"/>
<rect x="176.6" y="392.6" width="1.0" height="1.0" fill="#603010" opacity="0.19"/>
<rect x="188.8" y="388.7" width="1.3" height="1.3" fill="#802010" opacity="0.16"/>
<rect x="200.0" y="390.3" width="1.3" height="1.3" fill="#405010" opacity="0.21"/>
<rect x="161.4" y="404.4" width="1.1" height="1.1" fill="#c06010" opacity="0.39"/>
<rect x="180.5" y="432.9" width="1.0" height="1.0" fill="#c06010" opacity="0.60"/>
<rect x="173.5" y="427.2" width="1.2" height="1.2" fill="#a08018" opacity="0.22"/>
<rect x="156.9" y="434.2" width="1.2" height="1.2" fill="#c02810" opacity="0.13"/>
<rect x="188.4" y="408.1" width="1.2" height="1.2" fill="#c02810" opacity="0.23"/>
<rect x="179.9" y="433.8" width="1.3" height="1.3" fill="#d03010" opacity="0.30"/>
<rect x="194.7" y="369.6" width="1.0" height="1.0" fill="#b04010" opacity="0.44"/>
<rect x="189.5" y="428.7" width="1.1" height="1.1" fill="#d03010" opacity="0.28"/>
<rect x="200.5" y="414.4" width="1.0" height="1.0" fill="#d03010" opacity="0.37"/>
<rect x="181.9" y="439.1" width="0.9" height="0.9" fill="#c02810" opacity="0.53"/>
<rect x="170.3" y="373.8" width="1.1" height="1.1" fill="#d03010" opacity="0.16"/>
<rect x="180.5" y="421.4" width="1.0" height="1.0" fill="#c06010" opacity="0.54"/>
<rect x="150.6" y="377.4" width="1.0" height="1.0" fill="#c06010" opacity="0.44"/>
<rect x="200.0" y="388.5" width="1.3" height="1.3" fill="#b04010" opacity="0.29"/>
<rect x="197.9" y="401.5" width="1.2" height="1.2" fill="#a08018" opacity="0.57"/>
<rect x="171.7" y="382.1" width="0.9" height="0.9" fill="#809020" opacity="0.31"/>
<rect x="173.2" y="415.0" width="1.0" height="1.0" fill="#a08018" opacity="0.34"/>
<rect x="179.6" y="436.5" width="1.0" height="1.0" fill="#809020" opacity="0.33"/>
<rect x="179.8" y="387.0" width="1.2" height="1.2" fill="#809020" opacity="0.52"/>
<rect x="162.7" y="423.4" width="0.9" height="0.9" fill="#d03010" opacity="0.38"/>
<rect x="187.2" y="386.2" width="1.0" height="1.0" fill="#d03010" opacity="0.26"/>
<rect x="184.3" y="412.7" width="1.0" height="1.0" fill="#c06010" opacity="0.27"/>
<rect x="195.0" y="397.2" width="0.9" height="0.9" fill="#c02810" opacity="0.58"/>
<rect x="165.4" y="427.2" width="1.0" height="1.0" fill="#d03010" opacity="0.50"/>
<rect x="182.4" y="424.9" width="1.1" height="1.1" fill="#b04010" opacity="0.36"/>
<rect x="164.1" y="406.3" width="1.0" height="1.0" fill="#50a020" opacity="0.10"/>
<rect x="183.5" y="402.5" width="1.3" height="1.3" fill="#809020" opacity="0.53"/>
<rect x="193.6" y="437.7" width="0.9" height="0.9" fill="#b04010" opacity="0.55"/>
<rect x="195.8" y="407.0" width="0.9" height="0.9" fill="#a08018" opacity="0.35"/>
<rect x="151.8" y="433.2" width="1.0" height="1.0" fill="#b04010" opacity="0.53"/>
<rect x="173.8" y="423.0" width="0.9" height="0.9" fill="#b04010" opacity="0.54"/>
<rect x="155.2" y="380.7" width="1.0" height="1.0" fill="#d03010" opacity="0.56"/>
<rect x="174.4" y="406.5" width="1.0" height="1.0" fill="#d03010" opacity="0.23"/>
<rect x="176.4" y="395.0" width="1.2" height="1.2" fill="#d03010" opacity="0.53"/>
<rect x="189.3" y="365.6" width="1.3" height="1.3" fill="#50a020" opacity="0.53"/>
<rect x="153.5" y="401.2" width="0.9" height="0.9" fill="#809020" opacity="0.29"/>
<rect x="169.3" y="385.7" width="1.1" height="1.1" fill="#809020" opacity="0.16"/>
<rect x="151.3" y="431.1" width="1.1" height="1.1" fill="#a08018" opacity="0.45"/>
<rect x="170.9" y="416.1" width="1.0" height="1.0" fill="#b04010" opacity="0.24"/>
<rect x="179.7" y="424.6" width="1.3" height="1.3" fill="#b04010" opacity="0.57"/>
<rect x="162.6" y="398.2" width="1.2" height="1.2" fill="#d03010" opacity="0.52"/>
<rect x="176.6" y="391.4" width="1.1" height="1.1" fill="#809020" opacity="0.15"/>
<rect x="179.6" y="362.4" width="1.1" height="1.1" fill="#d03010" opacity="0.36"/>
<rect x="178.3" y="413.4" width="0.9" height="0.9" fill="#d03010" opacity="0.52"/>
<rect x="155.3" y="427.8" width="1.2" height="1.2" fill="#d03010" opacity="0.24"/>
<rect x="178.3" y="403.3" width="1.2" height="1.2" fill="#c06010" opacity="0.57"/>
<rect x="152.2" y="387.3" width="0.9" height="0.9" fill="#d03010" opacity="0.60"/>
<rect x="192.9" y="437.4" width="1.2" height="1.2" fill="#c06010" opacity="0.44"/>
<rect x="195.7" y="373.6" width="1.1" height="1.1" fill="#a08018" opacity="0.45"/>
<rect x="156.1" y="420.7" width="1.0" height="1.0" fill="#c06010" opacity="0.22"/>
<rect x="184.9" y="436.4" width="1.2" height="1.2" fill="#a08018" opacity="0.40"/>
<rect x="159.4" y="406.5" width="1.2" height="1.2" fill="#50a020" opacity="0.17"/>
<rect x="198.9" y="398.5" width="1.2" height="1.2" fill="#b04010" opacity="0.49"/>
<rect x="152.6" y="379.0" width="1.2" height="1.2" fill="#b04010" opacity="0.17"/>
<rect x="181.3" y="414.7" width="1.0" height="1.0" fill="#809020" opacity="0.12"/>
<rect x="166.5" y="364.3" width="1.1" height="1.1" fill="#50a020" opacity="0.21"/>
<rect x="179.4" y="436.5" width="1.0" height="1.0" fill="#c06010" opacity="0.54"/>
<rect x="153.0" y="395.7" width="1.3" height="1.3" fill="#c06010" opacity="0.15"/>
<rect x="183.0" y="424.9" width="1.3" height="1.3" fill="#d03010" opacity="0.27"/>
<rect x="175.5" y="366.6" width="1.1" height="1.1" fill="#a08018" opacity="0.19"/>
<rect x="182.6" y="411.2" width="1.1" height="1.1" fill="#a08018" opacity="0.15"/>
<rect x="178.1" y="433.8" width="1.1" height="1.1" fill="#a08018" opacity="0.38"/>
<rect x="182.7" y="397.7" width="1.2" height="1.2" fill="#b04010" opacity="0.15"/>
<rect x="158.4" y="405.2" width="1.0" height="1.0" fill="#50a020" opacity="0.23"/>
<rect x="168.9" y="430.1" width="1.0" height="1.0" fill="#c06010" opacity="0.45"/>
<rect x="172.3" y="425.1" width="1.2" height="1.2" fill="#50a020" opacity="0.16"/>
<rect x="163.1" y="369.8" width="1.3" height="1.3" fill="#d03010" opacity="0.16"/>
<rect x="169.3" y="438.7" width="1.0" height="1.0" fill="#c06010" opacity="0.30"/>
<rect x="159.1" y="403.2" width="1.2" height="1.2" fill="#b04010" opacity="0.28"/>
<rect x="164.2" y="427.7" width="1.3" height="1.3" fill="#50a020" opacity="0.29"/>
<rect x="199.8" y="415.6" width="1.2" height="1.2" fill="#d03010" opacity="0.12"/>
<rect x="158.9" y="411.5" width="1.2" height="1.2" fill="#d03010" opacity="0.35"/>
<rect x="176.2" y="397.9" width="1.0" height="1.0" fill="#c06010" opacity="0.51"/>
<rect x="197.2" y="435.8" width="1.3" height="1.3" fill="#809020" opacity="0.55"/>
<rect x="156.1" y="423.8" width="0.9" height="0.9" fill="#c02810" opacity="0.41"/>
<rect x="175.3" y="400.9" width="1.0" height="1.0" fill="#809020" opacity="0.54"/>
<rect x="180.3" y="434.3" width="1.3" height="1.3" fill="#a08018" opacity="0.60"/>
<rect x="159.7" y="366.9" width="1.2" height="1.2" fill="#a08018" opacity="0.34"/>
<rect x="154.7" y="365.3" width="1.2" height="1.2" fill="#b04010" opacity="0.30"/>
<rect x="159.8" y="400.1" width="1.2" height="1.2" fill="#50a020" opacity="0.30"/>
<rect x="158.4" y="432.2" width="1.2" height="1.2" fill="#809020" opacity="0.32"/>
<rect x="190.8" y="382.2" width="1.1" height="1.1" fill="#d03010" opacity="0.20"/>
<rect x="159.9" y="375.3" width="1.2" height="1.2" fill="#b04010" opacity="0.17"/>
<rect x="180.7" y="396.5" width="0.9" height="0.9" fill="#d03010" opacity="0.32"/>
<rect x="170.2" y="416.9" width="0.9" height="0.9" fill="#50a020" opacity="0.35"/>
<rect x="196.3" y="430.9" width="1.1" height="1.1" fill="#50a020" opacity="0.18"/>
<rect x="181.4" y="389.0" width="1.2" height="1.2" fill="#c02810" opacity="0.25"/>
<rect x="165.5" y="366.4" width="1.1" height="1.1" fill="#c02810" opacity="0.10"/>
<rect x="150.6" y="369.1" width="1.1" height="1.1" fill="#c02810" opacity="0.19"/>
<rect x="188.4" y="388.5" width="1.3" height="1.3" fill="#809020" opacity="0.12"/>
<rect x="155.0" y="392.4" width="1.2" height="1.2" fill="#a08018" opacity="0.30"/>
<rect x="192.5" y="429.4" width="1.0" height="1.0" fill="#c06010" opacity="0.19"/>
<rect x="190.7" y="396.2" width="1.1" height="1.1" fill="#a08018" opacity="0.23"/>
<rect x="157.8" y="418.2" width="1.2" height="1.2" fill="#a08018" opacity="0.57"/>
<rect x="182.6" y="439.8" width="1.1" height="1.1" fill="#b04010" opacity="0.58"/>
<rect x="154.5" y="406.4" width="1.2" height="1.2" fill="#c02810" opacity="0.21"/>
<rect x="156.4" y="438.9" width="1.3" height="1.3" fill="#809020" opacity="0.21"/>
<rect x="180.4" y="423.5" width="1.1" height="1.1" fill="#b04010" opacity="0.41"/>
<rect x="151.1" y="424.9" width="1.3" height="1.3" fill="#d03010" opacity="0.20"/>
<rect x="160.6" y="426.7" width="1.1" height="1.1" fill="#a08018" opacity="0.43"/>
<rect x="172.1" y="391.6" width="1.1" height="1.1" fill="#c02810" opacity="0.46"/>
<rect x="153.0" y="389.0" width="1.3" height="1.3" fill="#c02810" opacity="0.44"/>
<rect x="168.0" y="423.2" width="1.0" height="1.0" fill="#c06010" opacity="0.28"/>
<rect x="200.8" y="388.1" width="1.0" height="1.0" fill="#c02810" opacity="0.26"/>
<rect x="188.0" y="378.1" width="1.1" height="1.1" fill="#a08018" opacity="0.57"/>
<rect x="196.0" y="436.1" width="1.3" height="1.3" fill="#d03010" opacity="0.33"/>
<rect x="149.9" y="431.6" width="1.0" height="1.0" fill="#b04010" opacity="0.36"/>
<rect x="163.4" y="395.7" width="1.0" height="1.0" fill="#a08018" opacity="0.49"/>
<rect x="172.1" y="378.0" width="1.2" height="1.2" fill="#d03010" opacity="0.59"/>
<rect x="199.9" y="430.3" width="1.1" height="1.1" fill="#b04010" opacity="0.57"/>
<rect x="173.7" y="439.9" width="1.0" height="1.0" fill="#d03010" opacity="0.11"/>
<rect x="187.9" y="434.6" width="1.0" height="1.0" fill="#c02810" opacity="0.37"/>
<rect x="176.9" y="374.9" width="1.3" height="1.3" fill="#b04010" opacity="0.50"/>
<rect x="167.5" y="437.3" width="0.9" height="0.9" fill="#c06010" opacity="0.19"/>
<rect x="149.7" y="395.7" width="1.1" height="1.1" fill="#c02810" opacity="0.51"/>
<rect x="174.9" y="418.4" width="1.1" height="1.1" fill="#c02810" opacity="0.41"/>
<rect x="177.7" y="383.8" width="1.1" height="1.1" fill="#c02810" opacity="0.13"/>
<rect x="164.3" y="367.8" width="1.1" height="1.1" fill="#d03010" opacity="0.30"/>
<rect x="172.5" y="436.8" width="1.0" height="1.0" fill="#809020" opacity="0.12"/>
<rect x="174.2" y="380.0" width="1.1" height="1.1" fill="#c06010" opacity="0.12"/>
<rect x="178.9" y="404.9" width="1.2" height="1.2" fill="#809020" opacity="0.48"/>
<rect x="162.9" y="395.9" width="1.1" height="1.1" fill="#c02810" opacity="0.55"/>
<rect x="198.9" y="412.2" width="1.0" height="1.0" fill="#809020" opacity="0.29"/>
<rect x="192.1" y="386.7" width="1.3" height="1.3" fill="#c02810" opacity="0.26"/>
<rect x="169.4" y="384.0" width="1.1" height="1.1" fill="#809020" opacity="0.55"/>
<rect x="174.8" y="436.6" width="1.1" height="1.1" fill="#a08018" opacity="0.47"/>
<rect x="152.6" y="382.9" width="1.0" height="1.0" fill="#809020" opacity="0.38"/>
<rect x="158.1" y="400.0" width="1.3" height="1.3" fill="#b04010" opacity="0.19"/>
<rect x="176.8" y="391.8" width="1.0" height="1.0" fill="#50a020" opacity="0.11"/>
<rect x="154.4" y="371.0" width="1.0" height="1.0" fill="#50a020" opacity="0.56"/>
<rect x="200.8" y="438.4" width="1.1" height="1.1" fill="#809020" opacity="0.55"/>
<rect x="154.4" y="428.1" width="1.0" height="1.0" fill="#a08018" opacity="0.47"/>
<rect x="189.7" y="406.4" width="1.0" height="1.0" fill="#c06010" opacity="0.17"/>
<rect x="165.5" y="427.5" width="1.3" height="1.3" fill="#c06010" opacity="0.30"/>
<rect x="194.4" y="370.9" width="0.9" height="0.9" fill="#d03010" opacity="0.30"/>
<rect x="163.3" y="398.1" width="1.0" height="1.0" fill="#809020" opacity="0.40"/>
<rect x="165.8" y="401.5" width="1.1" height="1.1" fill="#809020" opacity="0.45"/>
<rect x="189.1" y="418.4" width="1.2" height="1.2" fill="#a08018" opacity="0.24"/>
<rect x="199.8" y="383.0" width="1.0" height="1.0" fill="#c06010" opacity="0.60"/>
<rect x="186.9" y="381.4" width="1.1" height="1.1" fill="#809020" opacity="0.34"/>
<rect x="169.0" y="438.5" width="0.9" height="0.9" fill="#b04010" opacity="0.35"/>
<rect x="155.1" y="419.1" width="1.0" height="1.0" fill="#c06010" opacity="0.25"/>
<rect x="175.3" y="393.1" width="1.2" height="1.2" fill="#a08018" opacity="0.15"/>
<rect x="174.7" y="387.2" width="1.1" height="1.1" fill="#c02810" opacity="0.17"/>
<rect x="153.2" y="387.0" width="0.9" height="0.9" fill="#c02810" opacity="0.47"/>
<rect x="165.3" y="396.7" width="1.2" height="1.2" fill="#a08018" opacity="0.56"/>
<rect x="172.0" y="415.2" width="1.0" height="1.0" fill="#50a020" opacity="0.17"/>
<rect x="164.9" y="405.1" width="1.1" height="1.1" fill="#b04010" opacity="0.14"/>
<rect x="150.5" y="389.4" width="1.3" height="1.3" fill="#d03010" opacity="0.34"/>
<rect x="179.5" y="436.1" width="0.9" height="0.9" fill="#809020" opacity="0.59"/>
<rect x="188.2" y="439.4" width="1.0" height="1.0" fill="#c02810" opacity="0.56"/>
<rect x="182.5" y="430.8" width="1.0" height="1.0" fill="#809020" opacity="0.30"/>
<rect x="153.6" y="412.0" width="1.1" height="1.1" fill="#c06010" opacity="0.39"/>
<rect x="153.4" y="380.1" width="1.3" height="1.3" fill="#d03010" opacity="0.30"/>
<rect x="160.8" y="406.7" width="1.0" height="1.0" fill="#c06010" opacity="0.37"/>
<rect x="159.6" y="366.7" width="1.2" height="1.2" fill="#809020" opacity="0.35"/>
<rect x="193.4" y="376.3" width="0.9" height="0.9" fill="#50a020" opacity="0.56"/>
<rect x="169.7" y="378.5" width="1.0" height="1.0" fill="#c02810" opacity="0.22"/>
<rect x="161.3" y="390.6" width="1.0" height="1.0" fill="#809020" opacity="0.23"/>
<rect x="185.1" y="388.5" width="1.0" height="1.0" fill="#b04010" opacity="0.19"/>
<rect x="157.8" y="399.7" width="1.2" height="1.2" fill="#d03010" opacity="0.40"/>
<rect x="158.1" y="420.6" width="1.1" height="1.1" fill="#c06010" opacity="0.19"/>
<rect x="164.7" y="391.2" width="1.2" height="1.2" fill="#c06010" opacity="0.35"/>
<rect x="166.6" y="419.1" width="1.0" height="1.0" fill="#c02810" opacity="0.17"/>
<rect x="164.5" y="411.1" width="1.0" height="1.0" fill="#50a020" opacity="0.12"/>
<rect x="167.1" y="411.5" width="1.2" height="1.2" fill="#a08018" opacity="0.38"/>
<rect x="187.9" y="384.7" width="1.1" height="1.1" fill="#a08018" opacity="0.48"/>
<rect x="171.0" y="390.9" width="1.2" height="1.2" fill="#809020" opacity="0.38"/>
<rect x="165.6" y="418.5" width="1.1" height="1.1" fill="#50a020" opacity="0.55"/>
<rect x="180.5" y="416.7" width="1.0" height="1.0" fill="#a08018" opacity="0.15"/>
<rect x="175.8" y="393.0" width="1.2" height="1.2" fill="#809020" opacity="0.22"/>
<rect x="162.6" y="378.5" width="1.1" height="1.1" fill="#809020" opacity="0.23"/>
<rect x="175.6" y="377.6" width="1.2" height="1.2" fill="#809020" opacity="0.47"/>
<rect x="157.6" y="414.0" width="1.0" height="1.0" fill="#c06010" opacity="0.55"/>
<rect x="171.9" y="395.4" width="1.1" height="1.1" fill="#c06010" opacity="0.50"/>
<rect x="162.4" y="404.4" width="1.0" height="1.0" fill="#50a020" opacity="0.12"/>
<rect x="155.8" y="418.9" width="1.2" height="1.2" fill="#a08018" opacity="0.29"/>
<rect x="196.9" y="377.8" width="0.9" height="0.9" fill="#a08018" opacity="0.31"/>
<rect x="164.0" y="371.1" width="1.1" height="1.1" fill="#d03010" opacity="0.18"/>
<rect x="156.2" y="362.6" width="1.1" height="1.1" fill="#d03010" opacity="0.45"/>
<rect x="177.8" y="413.7" width="1.2" height="1.2" fill="#b04010" opacity="0.10"/>
<rect x="163.6" y="416.5" width="1.0" height="1.0" fill="#c02810" opacity="0.46"/>
<rect x="192.4" y="390.2" width="1.1" height="1.1" fill="#b04010" opacity="0.50"/>
<rect x="172.1" y="414.1" width="1.1" height="1.1" fill="#b04010" opacity="0.22"/>
<rect x="149.3" y="378.8" width="0.9" height="0.9" fill="#50a020" opacity="0.26"/>
<rect x="178.8" y="404.6" width="0.9" height="0.9" fill="#809020" opacity="0.30"/>
<rect x="179.6" y="379.4" width="1.0" height="1.0" fill="#c06010" opacity="0.48"/>
<rect x="176.1" y="395.3" width="1.0" height="1.0" fill="#c02810" opacity="0.33"/>
<rect x="165.0" y="402.7" width="1.3" height="1.3" fill="#c06010" opacity="0.16"/>
<rect x="175.0" y="399.4" width="1.1" height="1.1" fill="#d03010" opacity="0.11"/>
<rect x="194.2" y="432.6" width="1.0" height="1.0" fill="#a08018" opacity="0.51"/>
<rect x="165.1" y="405.9" width="0.9" height="0.9" fill="#a08018" opacity="0.58"/>
<rect x="176.6" y="422.0" width="1.0" height="1.0" fill="#a08018" opacity="0.58"/>
<rect x="164.6" y="428.6" width="0.9" height="0.9" fill="#50a020" opacity="0.44"/>
<rect x="178.1" y="392.5" width="1.3" height="1.3" fill="#c06010" opacity="0.26"/>
<rect x="187.9" y="378.0" width="1.2" height="1.2" fill="#809020" opacity="0.58"/>
<rect x="173.8" y="377.8" width="1.2" height="1.2" fill="#c02810" opacity="0.60"/>
<rect x="151.5" y="393.4" width="0.9" height="0.9" fill="#809020" opacity="0.19"/>
<rect x="178.4" y="388.5" width="1.0" height="1.0" fill="#c02810" opacity="0.51"/>
<rect x="169.5" y="432.5" width="1.0" height="1.0" fill="#c06010" opacity="0.21"/>
<rect x="159.2" y="409.3" width="1.2" height="1.2" fill="#a08018" opacity="0.40"/>
<rect x="169.9" y="399.3" width="1.1" height="1.1" fill="#c06010" opacity="0.20"/>
</g></g>
<text x="153.30" y="373.90" font-size="10.2" text-anchor="start" font-weight="bold" fill="#fff">WT</text>
<clipPath id="c2"><rect x="205.1" y="362.0" width="51.1" height="77.7"/></clipPath>
<rect x="205.1" y="362.0" width="51.1" height="77.7" fill="#060104"/>
<g clip-path="url(#c2)">
<ellipse cx="254" cy="410" rx="9" ry="22" fill="#4a3808" opacity="0.35" filter="url(#blur2)"/>
<g filter="url(#blur06)">
<rect x="245.4" y="433.3" width="2.1" height="2.1" fill="#c03a10" opacity="0.25"/>
<rect x="236.0" y="423.8" width="1.3" height="1.3" fill="#c03a10" opacity="0.10"/>
<rect x="253.4" y="386.2" width="2.1" height="2.1" fill="#a07018" opacity="0.22"/>
<rect x="256.6" y="408.7" width="1.4" height="1.4" fill="#b04a10" opacity="0.49"/>
<rect x="247.1" y="384.6" width="1.3" height="1.3" fill="#a07018" opacity="0.49"/>
<rect x="242.8" y="372.6" width="1.8" height="1.8" fill="#a07018" opacity="0.48"/>
<rect x="250.1" y="397.0" width="2.1" height="2.1" fill="#a86818" opacity="0.14"/>
<rect x="257.9" y="383.0" width="1.2" height="1.2" fill="#a86818" opacity="0.40"/>
<rect x="250.9" y="394.7" width="1.8" height="1.8" fill="#a07018" opacity="0.42"/>
<rect x="252.4" y="392.0" width="2.2" height="2.2" fill="#a07018" opacity="0.28"/>
<rect x="244.6" y="406.0" width="1.7" height="1.7" fill="#7a6814" opacity="0.31"/>
<rect x="241.7" y="406.2" width="1.9" height="1.9" fill="#908a20" opacity="0.37"/>
<rect x="249.3" y="396.7" width="2.0" height="2.0" fill="#6a6010" opacity="0.21"/>
<rect x="239.1" y="424.6" width="1.7" height="1.7" fill="#6a6010" opacity="0.43"/>
<rect x="245.3" y="426.2" width="1.9" height="1.9" fill="#908a20" opacity="0.43"/>
<rect x="240.7" y="408.0" width="2.1" height="2.1" fill="#908a20" opacity="0.29"/>
<rect x="246.0" y="400.6" width="1.9" height="1.9" fill="#6a6010" opacity="0.11"/>
<rect x="254.1" y="397.6" width="1.7" height="1.7" fill="#b04a10" opacity="0.29"/>
<rect x="232.8" y="389.1" width="1.7" height="1.7" fill="#6a6010" opacity="0.21"/>
<rect x="255.0" y="432.4" width="1.6" height="1.6" fill="#8a6a10" opacity="0.42"/>
<rect x="254.4" y="403.6" width="2.0" height="2.0" fill="#6a6010" opacity="0.38"/>
<rect x="241.8" y="405.8" width="1.6" height="1.6" fill="#a07018" opacity="0.32"/>
<rect x="234.0" y="401.2" width="1.9" height="1.9" fill="#a86818" opacity="0.12"/>
<rect x="256.3" y="420.4" width="1.9" height="1.9" fill="#6a6010" opacity="0.28"/>
<rect x="245.8" y="422.7" width="1.9" height="1.9" fill="#7a6814" opacity="0.45"/>
<rect x="254.8" y="409.7" width="1.3" height="1.3" fill="#6a6010" opacity="0.19"/>
<rect x="251.1" y="430.7" width="1.4" height="1.4" fill="#a86818" opacity="0.39"/>
<rect x="233.6" y="426.2" width="1.3" height="1.3" fill="#a86818" opacity="0.16"/>
<rect x="256.3" y="418.3" width="1.3" height="1.3" fill="#7a6814" opacity="0.46"/>
<rect x="255.5" y="420.0" width="1.3" height="1.3" fill="#a86818" opacity="0.43"/>
<rect x="245.3" y="426.7" width="1.7" height="1.7" fill="#908a20" opacity="0.34"/>
<rect x="242.6" y="422.3" width="1.2" height="1.2" fill="#7a6814" opacity="0.17"/>
<rect x="245.8" y="395.7" width="2.1" height="2.1" fill="#6a6010" opacity="0.35"/>
<rect x="237.4" y="403.7" width="1.9" height="1.9" fill="#a07018" opacity="0.13"/>
<rect x="253.3" y="431.1" width="1.3" height="1.3" fill="#6a6010" opacity="0.43"/>
<rect x="249.0" y="417.7" width="1.5" height="1.5" fill="#8a6a10" opacity="0.40"/>
<rect x="233.4" y="376.0" width="1.7" height="1.7" fill="#c03a10" opacity="0.48"/>
<rect x="246.3" y="421.6" width="1.9" height="1.9" fill="#b04a10" opacity="0.33"/>
<rect x="247.4" y="418.3" width="1.5" height="1.5" fill="#908a20" opacity="0.39"/>
<rect x="247.8" y="383.1" width="2.1" height="2.1" fill="#b04a10" opacity="0.36"/>
<rect x="237.5" y="438.3" width="1.7" height="1.7" fill="#8a6a10" opacity="0.37"/>
<rect x="244.5" y="402.0" width="1.8" height="1.8" fill="#a86818" opacity="0.25"/>
<rect x="242.8" y="388.7" width="1.2" height="1.2" fill="#b04a10" opacity="0.18"/>
<rect x="232.3" y="397.4" width="2.0" height="2.0" fill="#a86818" opacity="0.25"/>
<rect x="249.7" y="372.0" width="1.8" height="1.8" fill="#a07018" opacity="0.28"/>
<rect x="248.2" y="419.7" width="1.8" height="1.8" fill="#a86818" opacity="0.23"/>
<rect x="248.6" y="373.9" width="2.0" height="2.0" fill="#a07018" opacity="0.27"/>
<rect x="231.3" y="436.7" width="1.3" height="1.3" fill="#a86818" opacity="0.18"/>
<rect x="243.8" y="414.9" width="2.0" height="2.0" fill="#a86818" opacity="0.15"/>
<rect x="253.7" y="398.7" width="2.0" height="2.0" fill="#6a6010" opacity="0.22"/>
<rect x="245.9" y="433.8" width="1.6" height="1.6" fill="#c03a10" opacity="0.16"/>
<rect x="251.9" y="405.3" width="1.6" height="1.6" fill="#a07018" opacity="0.40"/>
<rect x="249.2" y="404.4" width="2.0" height="2.0" fill="#7a6814" opacity="0.25"/>
<rect x="246.9" y="417.6" width="1.6" height="1.6" fill="#a86818" opacity="0.34"/>
<rect x="246.5" y="407.5" width="1.2" height="1.2" fill="#7a6814" opacity="0.41"/>
<rect x="236.9" y="437.9" width="1.3" height="1.3" fill="#b04a10" opacity="0.40"/>
<rect x="241.6" y="398.8" width="1.6" height="1.6" fill="#a86818" opacity="0.40"/>
<rect x="250.7" y="426.2" width="1.3" height="1.3" fill="#a07018" opacity="0.27"/>
<rect x="244.6" y="415.5" width="1.6" height="1.6" fill="#a86818" opacity="0.27"/>
<rect x="241.0" y="433.5" width="1.3" height="1.3" fill="#6a6010" opacity="0.46"/>
<rect x="233.9" y="400.7" width="1.8" height="1.8" fill="#6a6010" opacity="0.34"/>
<rect x="245.2" y="435.0" width="2.0" height="2.0" fill="#c03a10" opacity="0.10"/>
<rect x="235.2" y="427.4" width="1.6" height="1.6" fill="#908a20" opacity="0.28"/>
<rect x="246.5" y="422.5" width="2.1" height="2.1" fill="#a86818" opacity="0.29"/>
<rect x="255.8" y="420.4" width="2.2" height="2.2" fill="#c03a10" opacity="0.40"/>
<rect x="254.6" y="415.7" width="1.8" height="1.8" fill="#7a6814" opacity="0.22"/>
<rect x="235.8" y="407.1" width="1.4" height="1.4" fill="#b04a10" opacity="0.42"/>
<rect x="243.5" y="429.1" width="1.3" height="1.3" fill="#8a6a10" opacity="0.26"/>
<rect x="250.0" y="401.6" width="1.4" height="1.4" fill="#8a6a10" opacity="0.27"/>
<rect x="237.6" y="433.1" width="2.1" height="2.1" fill="#a07018" opacity="0.16"/>
<rect x="257.8" y="386.7" width="1.3" height="1.3" fill="#6a6010" opacity="0.25"/>
<rect x="245.3" y="422.8" width="1.8" height="1.8" fill="#908a20" opacity="0.15"/>
<rect x="257.1" y="419.7" width="1.3" height="1.3" fill="#7a6814" opacity="0.26"/>
<rect x="242.1" y="401.9" width="2.1" height="2.1" fill="#7a6814" opacity="0.25"/>
<rect x="256.2" y="439.2" width="1.8" height="1.8" fill="#a07018" opacity="0.37"/>
<rect x="245.2" y="375.8" width="1.3" height="1.3" fill="#a86818" opacity="0.31"/>
<rect x="251.4" y="397.4" width="1.6" height="1.6" fill="#c03a10" opacity="0.30"/>
<rect x="236.0" y="414.8" width="1.8" height="1.8" fill="#6a6010" opacity="0.45"/>
<rect x="254.9" y="428.9" width="2.1" height="2.1" fill="#8a6a10" opacity="0.24"/>
<rect x="247.9" y="412.2" width="1.5" height="1.5" fill="#c03a10" opacity="0.31"/>
<rect x="246.5" y="390.6" width="1.5" height="1.5" fill="#6a6010" opacity="0.22"/>
<rect x="254.5" y="403.7" width="2.1" height="2.1" fill="#b04a10" opacity="0.23"/>
<rect x="244.0" y="403.1" width="1.8" height="1.8" fill="#7a6814" opacity="0.28"/>
<rect x="240.7" y="398.8" width="1.4" height="1.4" fill="#c03a10" opacity="0.30"/>
<rect x="255.7" y="395.4" width="1.5" height="1.5" fill="#a86818" opacity="0.30"/>
<rect x="252.1" y="392.0" width="1.6" height="1.6" fill="#6a6010" opacity="0.44"/>
<rect x="250.0" y="408.9" width="1.9" height="1.9" fill="#908a20" opacity="0.20"/>
<rect x="236.7" y="394.4" width="1.5" height="1.5" fill="#7a6814" opacity="0.23"/>
<rect x="258.0" y="399.8" width="1.4" height="1.4" fill="#7a6814" opacity="0.48"/>
<rect x="250.5" y="433.0" width="1.7" height="1.7" fill="#7a6814" opacity="0.13"/>
<rect x="245.5" y="418.4" width="2.1" height="2.1" fill="#908a20" opacity="0.29"/>
<rect x="241.5" y="401.7" width="2.2" height="2.2" fill="#c03a10" opacity="0.27"/>
<rect x="242.7" y="406.0" width="1.7" height="1.7" fill="#6a6010" opacity="0.26"/>
<rect x="245.1" y="420.9" width="2.1" height="2.1" fill="#c03a10" opacity="0.17"/>
<rect x="231.1" y="396.2" width="1.4" height="1.4" fill="#7a6814" opacity="0.11"/>
<rect x="253.5" y="407.4" width="1.3" height="1.3" fill="#908a20" opacity="0.22"/>
<rect x="240.9" y="392.0" width="1.5" height="1.5" fill="#a07018" opacity="0.18"/>
<rect x="235.4" y="387.5" width="1.9" height="1.9" fill="#7a6814" opacity="0.17"/>
<rect x="255.5" y="397.4" width="1.9" height="1.9" fill="#b04a10" opacity="0.25"/>
<rect x="243.5" y="423.5" width="2.1" height="2.1" fill="#8a6a10" opacity="0.31"/>
<rect x="254.0" y="433.1" width="1.7" height="1.7" fill="#6a6010" opacity="0.11"/>
<rect x="250.6" y="424.2" width="1.2" height="1.2" fill="#b04a10" opacity="0.45"/>
<rect x="257.6" y="385.7" width="1.4" height="1.4" fill="#908a20" opacity="0.31"/>
<rect x="254.0" y="383.7" width="1.6" height="1.6" fill="#8a6a10" opacity="0.22"/>
<rect x="248.2" y="398.4" width="2.1" height="2.1" fill="#7a6814" opacity="0.38"/>
<rect x="255.0" y="425.9" width="1.9" height="1.9" fill="#c03a10" opacity="0.18"/>
<rect x="256.1" y="422.5" width="2.2" height="2.2" fill="#c03a10" opacity="0.43"/>
<rect x="233.7" y="434.9" width="1.6" height="1.6" fill="#a07018" opacity="0.50"/>
<rect x="234.6" y="424.3" width="2.1" height="2.1" fill="#7a6814" opacity="0.46"/>
<rect x="249.5" y="431.2" width="1.2" height="1.2" fill="#7a6814" opacity="0.31"/>
<rect x="238.9" y="402.1" width="1.8" height="1.8" fill="#6a6010" opacity="0.33"/>
<rect x="251.9" y="412.1" width="1.5" height="1.5" fill="#a86818" opacity="0.14"/>
<rect x="234.4" y="436.3" width="2.1" height="2.1" fill="#908a20" opacity="0.24"/>
<rect x="247.2" y="435.3" width="1.5" height="1.5" fill="#6a6010" opacity="0.28"/>
<rect x="254.0" y="407.8" width="2.0" height="2.0" fill="#7a6814" opacity="0.33"/>
<rect x="236.6" y="401.0" width="1.5" height="1.5" fill="#c03a10" opacity="0.12"/>
<rect x="242.3" y="398.9" width="2.0" height="2.0" fill="#c03a10" opacity="0.17"/>
<rect x="238.5" y="390.9" width="1.2" height="1.2" fill="#a86818" opacity="0.37"/>
<rect x="254.8" y="407.1" width="1.2" height="1.2" fill="#a86818" opacity="0.43"/>
<rect x="250.0" y="392.8" width="1.4" height="1.4" fill="#908a20" opacity="0.47"/>
<rect x="257.6" y="425.6" width="1.2" height="1.2" fill="#c03a10" opacity="0.38"/>
<rect x="249.8" y="432.9" width="2.0" height="2.0" fill="#908a20" opacity="0.20"/>
<rect x="252.6" y="421.6" width="1.6" height="1.6" fill="#b04a10" opacity="0.33"/>
<rect x="238.5" y="380.2" width="1.5" height="1.5" fill="#b04a10" opacity="0.20"/>
<rect x="252.3" y="411.7" width="1.8" height="1.8" fill="#8a6a10" opacity="0.18"/>
<rect x="254.8" y="410.4" width="1.4" height="1.4" fill="#b04a10" opacity="0.37"/>
<rect x="246.9" y="377.4" width="2.0" height="2.0" fill="#c03a10" opacity="0.36"/>
<rect x="246.3" y="415.5" width="1.5" height="1.5" fill="#8a6a10" opacity="0.32"/>
<rect x="243.8" y="416.6" width="2.0" height="2.0" fill="#6a6010" opacity="0.44"/>
<rect x="243.8" y="394.9" width="1.9" height="1.9" fill="#b04a10" opacity="0.34"/>
<rect x="252.3" y="434.1" width="1.4" height="1.4" fill="#8a6a10" opacity="0.39"/>
<rect x="245.0" y="393.2" width="1.2" height="1.2" fill="#b04a10" opacity="0.19"/>
<rect x="256.4" y="413.7" width="1.5" height="1.5" fill="#6a6010" opacity="0.37"/>
<rect x="247.5" y="419.9" width="1.5" height="1.5" fill="#8a6a10" opacity="0.49"/>
<rect x="239.7" y="414.9" width="1.5" height="1.5" fill="#b04a10" opacity="0.39"/>
<rect x="250.9" y="428.3" width="1.6" height="1.6" fill="#a86818" opacity="0.17"/>
<rect x="249.2" y="395.1" width="1.7" height="1.7" fill="#a07018" opacity="0.30"/>
<rect x="245.7" y="410.2" width="1.2" height="1.2" fill="#908a20" opacity="0.50"/>
<rect x="255.1" y="387.9" width="1.6" height="1.6" fill="#b04a10" opacity="0.10"/>
<rect x="249.7" y="436.1" width="2.2" height="2.2" fill="#b04a10" opacity="0.14"/>
<rect x="245.4" y="398.0" width="1.9" height="1.9" fill="#a86818" opacity="0.42"/>
<rect x="254.7" y="433.7" width="1.5" height="1.5" fill="#6a6010" opacity="0.27"/>
<rect x="248.6" y="439.4" width="1.4" height="1.4" fill="#7a6814" opacity="0.27"/>
<rect x="246.2" y="407.4" width="1.9" height="1.9" fill="#a07018" opacity="0.11"/>
<rect x="254.6" y="389.6" width="1.7" height="1.7" fill="#c03a10" opacity="0.13"/>
<rect x="232.5" y="420.5" width="2.1" height="2.1" fill="#c03a10" opacity="0.37"/>
<rect x="243.4" y="386.2" width="2.0" height="2.0" fill="#7a6814" opacity="0.27"/>
<rect x="243.9" y="438.7" width="1.9" height="1.9" fill="#6a6010" opacity="0.25"/>
<rect x="237.2" y="428.9" width="2.0" height="2.0" fill="#a07018" opacity="0.47"/>
<rect x="256.2" y="395.7" width="2.0" height="2.0" fill="#6a6010" opacity="0.22"/>
<rect x="254.2" y="423.5" width="1.8" height="1.8" fill="#7a6814" opacity="0.24"/>
<rect x="250.5" y="435.3" width="2.0" height="2.0" fill="#8a6a10" opacity="0.38"/>
<rect x="231.2" y="373.8" width="2.1" height="2.1" fill="#908a20" opacity="0.37"/>
<rect x="257.4" y="393.7" width="1.8" height="1.8" fill="#b04a10" opacity="0.38"/>
<rect x="244.3" y="422.1" width="1.5" height="1.5" fill="#6a6010" opacity="0.11"/>
<rect x="250.7" y="377.7" width="2.2" height="2.2" fill="#a86818" opacity="0.35"/>
<rect x="252.7" y="439.1" width="1.2" height="1.2" fill="#a86818" opacity="0.34"/>
<rect x="252.5" y="439.3" width="1.8" height="1.8" fill="#b04a10" opacity="0.33"/>
<rect x="248.9" y="423.9" width="1.6" height="1.6" fill="#a07018" opacity="0.13"/>
<rect x="254.7" y="401.9" width="1.3" height="1.3" fill="#8a6a10" opacity="0.31"/>
<rect x="242.9" y="432.7" width="1.5" height="1.5" fill="#c03a10" opacity="0.19"/>
<rect x="244.6" y="399.7" width="1.6" height="1.6" fill="#8a6a10" opacity="0.11"/>
<rect x="241.2" y="435.6" width="2.2" height="2.2" fill="#a86818" opacity="0.24"/>
<rect x="249.2" y="395.5" width="1.4" height="1.4" fill="#908a20" opacity="0.50"/>
<rect x="252.3" y="418.0" width="1.7" height="1.7" fill="#c03a10" opacity="0.13"/>
<rect x="242.1" y="417.9" width="2.0" height="2.0" fill="#8a6a10" opacity="0.33"/>
<rect x="247.6" y="404.0" width="2.2" height="2.2" fill="#908a20" opacity="0.33"/>
<rect x="243.2" y="388.0" width="2.1" height="2.1" fill="#a07018" opacity="0.15"/>
<rect x="243.3" y="414.5" width="2.1" height="2.1" fill="#6a6010" opacity="0.29"/>
<rect x="253.4" y="383.8" width="1.5" height="1.5" fill="#908a20" opacity="0.18"/>
<rect x="239.6" y="426.8" width="2.2" height="2.2" fill="#6a6010" opacity="0.42"/>
<rect x="252.5" y="438.6" width="2.0" height="2.0" fill="#c03a10" opacity="0.19"/>
<rect x="245.9" y="415.5" width="2.1" height="2.1" fill="#a86818" opacity="0.12"/>
<rect x="234.2" y="387.5" width="1.9" height="1.9" fill="#8a6a10" opacity="0.39"/>
<rect x="242.8" y="394.0" width="2.2" height="2.2" fill="#7a6814" opacity="0.42"/>
<rect x="241.9" y="412.7" width="2.0" height="2.0" fill="#c03a10" opacity="0.19"/>
<rect x="254.6" y="396.7" width="1.8" height="1.8" fill="#908a20" opacity="0.20"/>
<rect x="248.1" y="421.7" width="1.3" height="1.3" fill="#a86818" opacity="0.21"/>
<rect x="257.6" y="402.1" width="1.3" height="1.3" fill="#7a6814" opacity="0.49"/>
<rect x="251.8" y="398.2" width="1.3" height="1.3" fill="#908a20" opacity="0.23"/>
<rect x="255.2" y="402.0" width="1.7" height="1.7" fill="#a07018" opacity="0.26"/>
<rect x="244.6" y="431.7" width="1.8" height="1.8" fill="#a07018" opacity="0.37"/>
<rect x="239.7" y="402.7" width="1.6" height="1.6" fill="#a07018" opacity="0.31"/>
<rect x="247.8" y="402.9" width="1.3" height="1.3" fill="#a07018" opacity="0.38"/>
<rect x="257.6" y="425.2" width="1.4" height="1.4" fill="#c03a10" opacity="0.37"/>
<rect x="248.0" y="390.8" width="1.3" height="1.3" fill="#a07018" opacity="0.13"/>
<rect x="255.6" y="430.4" width="1.6" height="1.6" fill="#c03a10" opacity="0.30"/>
<rect x="244.7" y="432.4" width="1.6" height="1.6" fill="#a86818" opacity="0.17"/>
<rect x="250.9" y="411.3" width="1.7" height="1.7" fill="#b04a10" opacity="0.37"/>
<rect x="257.5" y="394.2" width="1.3" height="1.3" fill="#6a6010" opacity="0.21"/>
<rect x="248.3" y="396.3" width="1.4" height="1.4" fill="#908a20" opacity="0.12"/>
<rect x="253.5" y="431.7" width="1.3" height="1.3" fill="#908a20" opacity="0.45"/>
<rect x="257.8" y="400.3" width="2.1" height="2.1" fill="#a86818" opacity="0.20"/>
<rect x="233.0" y="405.8" width="1.9" height="1.9" fill="#b04a10" opacity="0.37"/>
<rect x="251.2" y="420.4" width="2.1" height="2.1" fill="#a86818" opacity="0.48"/>
<rect x="249.1" y="395.3" width="1.6" height="1.6" fill="#908a20" opacity="0.45"/>
<rect x="237.7" y="408.5" width="1.6" height="1.6" fill="#908a20" opacity="0.46"/>
<rect x="249.8" y="423.8" width="2.1" height="2.1" fill="#a86818" opacity="0.48"/>
<rect x="240.1" y="419.2" width="2.2" height="2.2" fill="#a07018" opacity="0.41"/>
<rect x="244.0" y="423.1" width="2.1" height="2.1" fill="#b04a10" opacity="0.32"/>
<rect x="251.0" y="375.9" width="1.7" height="1.7" fill="#6a6010" opacity="0.46"/>
<rect x="253.9" y="425.2" width="1.4" height="1.4" fill="#b04a10" opacity="0.30"/>
<rect x="245.2" y="420.2" width="1.4" height="1.4" fill="#a86818" opacity="0.36"/>
<rect x="250.1" y="425.2" width="1.7" height="1.7" fill="#8a6a10" opacity="0.20"/>
<rect x="247.6" y="423.9" width="1.9" height="1.9" fill="#b04a10" opacity="0.45"/>
<rect x="244.9" y="401.0" width="1.4" height="1.4" fill="#c03a10" opacity="0.43"/>
<rect x="256.4" y="423.8" width="1.3" height="1.3" fill="#7a6814" opacity="0.32"/>
<rect x="254.2" y="400.5" width="1.8" height="1.8" fill="#a86818" opacity="0.24"/>
<rect x="244.4" y="416.1" width="1.9" height="1.9" fill="#908a20" opacity="0.44"/>
<rect x="253.2" y="395.4" width="1.8" height="1.8" fill="#b04a10" opacity="0.18"/>
<rect x="247.1" y="406.2" width="1.7" height="1.7" fill="#6a6010" opacity="0.30"/>
<rect x="252.7" y="419.9" width="1.2" height="1.2" fill="#908a20" opacity="0.15"/>
<rect x="250.5" y="384.9" width="1.7" height="1.7" fill="#a07018" opacity="0.26"/>
<rect x="246.7" y="396.8" width="1.8" height="1.8" fill="#8a6a10" opacity="0.11"/>
<rect x="247.4" y="398.7" width="1.8" height="1.8" fill="#8a6a10" opacity="0.47"/>
<rect x="244.9" y="420.7" width="2.0" height="2.0" fill="#908a20" opacity="0.43"/>
<rect x="245.8" y="415.5" width="1.7" height="1.7" fill="#c03a10" opacity="0.24"/>
<rect x="251.0" y="379.5" width="1.7" height="1.7" fill="#a07018" opacity="0.13"/>
<rect x="237.8" y="395.2" width="1.8" height="1.8" fill="#b04a10" opacity="0.47"/>
<rect x="249.8" y="401.1" width="2.0" height="2.0" fill="#a86818" opacity="0.19"/>
<rect x="256.1" y="420.8" width="1.9" height="1.9" fill="#a86818" opacity="0.35"/>
<rect x="249.8" y="376.4" width="1.3" height="1.3" fill="#908a20" opacity="0.33"/>
<rect x="244.3" y="414.3" width="1.9" height="1.9" fill="#8a6a10" opacity="0.14"/>
<rect x="255.9" y="421.1" width="1.3" height="1.3" fill="#c03a10" opacity="0.15"/>
<rect x="254.5" y="391.6" width="1.9" height="1.9" fill="#6a6010" opacity="0.11"/>
<rect x="250.1" y="423.7" width="1.6" height="1.6" fill="#a07018" opacity="0.29"/>
<rect x="240.3" y="399.7" width="1.6" height="1.6" fill="#6a6010" opacity="0.19"/>
<rect x="238.0" y="427.5" width="1.5" height="1.5" fill="#c03a10" opacity="0.45"/>
<rect x="248.2" y="409.7" width="1.7" height="1.7" fill="#8a6a10" opacity="0.16"/>
<rect x="248.6" y="405.7" width="2.2" height="2.2" fill="#c03a10" opacity="0.20"/>
<rect x="250.7" y="398.2" width="2.1" height="2.1" fill="#908a20" opacity="0.39"/>
<rect x="247.4" y="409.3" width="1.5" height="1.5" fill="#8a6a10" opacity="0.32"/>
<rect x="255.0" y="428.5" width="1.7" height="1.7" fill="#6a6010" opacity="0.38"/>
<rect x="257.3" y="408.5" width="1.7" height="1.7" fill="#b04a10" opacity="0.18"/>
<rect x="254.9" y="426.2" width="2.0" height="2.0" fill="#908a20" opacity="0.23"/>
<rect x="244.4" y="410.6" width="1.6" height="1.6" fill="#7a6814" opacity="0.46"/>
<rect x="251.2" y="402.5" width="1.4" height="1.4" fill="#c03a10" opacity="0.17"/>
</g></g>
<text x="209.00" y="373.60" font-size="10.0" text-anchor="start" font-weight="bold" fill="#fff">TFPI</text>
<text x="232.20" y="369.30" font-size="6.0" text-anchor="start" font-weight="normal" fill="#e8e8e8" stroke="#e8e8e8" stroke-width="0.18">ΔK1</text>
<clipPath id="c3"><rect x="280.1" y="361.9" width="51.1" height="78.2"/></clipPath>
<rect x="280.1" y="361.9" width="51.1" height="78.2" fill="#120304"/>
<g clip-path="url(#c3)">
<path d="M320.5,385.7 C323,385 325.5,386.5 326.5,389.5 C328,394 328.5,401 327.8,406 C327,410 325.5,413 323.7,414.4 C321,417.5 318.5,420 315.3,420.7 C312.5,421.6 310,422 308,421.8 C305,421.5 302.5,420 300.7,418.6 C297,417 294,415.5 292.4,413.4 C290.5,411.5 289.2,410 289.2,408.2 C289,406 289.5,403.5 290.3,401.9 C291,400 292,398.5 293.4,397.7 C295.5,395.8 297.5,394.5 299.7,393.6 C302.5,392.3 305,391.3 308,390.4 C310.5,389.5 313,388.2 315.3,387.3 C317,386.5 318.8,386 320.5,385.7 Z" fill="#6a1400" transform="translate(308,404) scale(1.1) translate(-308,-404)" filter="url(#blur2)"/>
<path d="M320.5,385.7 C323,385 325.5,386.5 326.5,389.5 C328,394 328.5,401 327.8,406 C327,410 325.5,413 323.7,414.4 C321,417.5 318.5,420 315.3,420.7 C312.5,421.6 310,422 308,421.8 C305,421.5 302.5,420 300.7,418.6 C297,417 294,415.5 292.4,413.4 C290.5,411.5 289.2,410 289.2,408.2 C289,406 289.5,403.5 290.3,401.9 C291,400 292,398.5 293.4,397.7 C295.5,395.8 297.5,394.5 299.7,393.6 C302.5,392.3 305,391.3 308,390.4 C310.5,389.5 313,388.2 315.3,387.3 C317,386.5 318.8,386 320.5,385.7 Z" fill="#dc6a1e" filter="url(#blur1)"/>
<clipPath id="cb"><path d="M320.5,385.7 C323,385 325.5,386.5 326.5,389.5 C328,394 328.5,401 327.8,406 C327,410 325.5,413 323.7,414.4 C321,417.5 318.5,420 315.3,420.7 C312.5,421.6 310,422 308,421.8 C305,421.5 302.5,420 300.7,418.6 C297,417 294,415.5 292.4,413.4 C290.5,411.5 289.2,410 289.2,408.2 C289,406 289.5,403.5 290.3,401.9 C291,400 292,398.5 293.4,397.7 C295.5,395.8 297.5,394.5 299.7,393.6 C302.5,392.3 305,391.3 308,390.4 C310.5,389.5 313,388.2 315.3,387.3 C317,386.5 318.8,386 320.5,385.7 Z"/></clipPath>
<g clip-path="url(#cb)" filter="url(#blur05)">
<rect x="305.9" y="406.0" width="2.1" height="2.1" fill="#b84a10" opacity="0.41"/>
<rect x="294.4" y="416.0" width="2.3" height="2.3" fill="#b84a10" opacity="0.39"/>
<rect x="290.1" y="395.4" width="2.2" height="2.2" fill="#f8a038" opacity="0.42"/>
<rect x="313.9" y="407.4" width="2.8" height="2.8" fill="#b84a10" opacity="0.35"/>
<rect x="313.1" y="389.5" width="2.6" height="2.6" fill="#f8a038" opacity="0.17"/>
<rect x="287.6" y="419.1" width="1.5" height="1.5" fill="#f09030" opacity="0.29"/>
<rect x="305.4" y="417.5" width="1.8" height="1.8" fill="#f09030" opacity="0.24"/>
<rect x="286.2" y="386.5" width="2.0" height="2.0" fill="#ffc050" opacity="0.32"/>
<rect x="327.0" y="386.4" width="1.9" height="1.9" fill="#ffc050" opacity="0.22"/>
<rect x="298.7" y="385.9" width="2.0" height="2.0" fill="#f8a038" opacity="0.40"/>
<rect x="303.0" y="422.3" width="1.8" height="1.8" fill="#f8a038" opacity="0.43"/>
<rect x="288.3" y="398.4" width="2.0" height="2.0" fill="#b84a10" opacity="0.32"/>
<rect x="294.7" y="410.7" width="1.6" height="1.6" fill="#ffc050" opacity="0.25"/>
<rect x="328.4" y="414.1" width="1.7" height="1.7" fill="#f8a038" opacity="0.36"/>
<rect x="286.5" y="402.1" width="1.7" height="1.7" fill="#b84a10" opacity="0.32"/>
<rect x="305.7" y="390.8" width="2.0" height="2.0" fill="#e07018" opacity="0.27"/>
<rect x="303.4" y="423.6" width="1.9" height="1.9" fill="#f8a038" opacity="0.44"/>
<rect x="321.4" y="395.5" width="1.8" height="1.8" fill="#f8a038" opacity="0.27"/>
<rect x="323.6" y="409.3" width="1.6" height="1.6" fill="#f8a038" opacity="0.19"/>
<rect x="305.4" y="383.4" width="1.9" height="1.9" fill="#f09030" opacity="0.24"/>
<rect x="289.2" y="386.7" width="2.3" height="2.3" fill="#f09030" opacity="0.15"/>
<rect x="302.2" y="408.5" width="2.7" height="2.7" fill="#e07018" opacity="0.30"/>
<rect x="311.3" y="418.5" width="2.3" height="2.3" fill="#e07018" opacity="0.24"/>
<rect x="296.0" y="408.0" width="1.7" height="1.7" fill="#e07018" opacity="0.34"/>
<rect x="310.4" y="411.2" width="2.6" height="2.6" fill="#b84a10" opacity="0.33"/>
<rect x="304.5" y="387.3" width="2.2" height="2.2" fill="#f8a038" opacity="0.23"/>
<rect x="318.6" y="399.1" width="2.6" height="2.6" fill="#b84a10" opacity="0.33"/>
<rect x="298.9" y="390.2" width="1.7" height="1.7" fill="#f8a038" opacity="0.29"/>
<rect x="314.8" y="408.3" width="1.9" height="1.9" fill="#f8a038" opacity="0.43"/>
<rect x="295.0" y="383.7" width="2.0" height="2.0" fill="#ffc050" opacity="0.22"/>
<rect x="288.1" y="394.6" width="2.2" height="2.2" fill="#f09030" opacity="0.19"/>
<rect x="301.9" y="419.5" width="2.4" height="2.4" fill="#ffc050" opacity="0.36"/>
<rect x="311.7" y="388.8" width="2.7" height="2.7" fill="#f8a038" opacity="0.29"/>
<rect x="301.7" y="395.8" width="1.5" height="1.5" fill="#f8a038" opacity="0.34"/>
<rect x="307.2" y="413.0" width="1.7" height="1.7" fill="#ffc050" opacity="0.17"/>
<rect x="305.9" y="398.1" width="2.7" height="2.7" fill="#f8a038" opacity="0.37"/>
<rect x="317.0" y="415.5" width="2.0" height="2.0" fill="#ffc050" opacity="0.36"/>
<rect x="325.6" y="418.7" width="2.7" height="2.7" fill="#b84a10" opacity="0.16"/>
<rect x="308.0" y="383.6" width="2.0" height="2.0" fill="#b84a10" opacity="0.15"/>
<rect x="289.2" y="386.7" width="2.8" height="2.8" fill="#f8a038" opacity="0.41"/>
<rect x="318.0" y="398.9" width="2.1" height="2.1" fill="#f09030" opacity="0.29"/>
<rect x="309.8" y="404.3" width="1.5" height="1.5" fill="#f09030" opacity="0.33"/>
<rect x="307.2" y="392.4" width="2.1" height="2.1" fill="#f8a038" opacity="0.33"/>
<rect x="326.5" y="393.5" width="2.0" height="2.0" fill="#f8a038" opacity="0.19"/>
<rect x="312.9" y="404.3" width="2.4" height="2.4" fill="#ffc050" opacity="0.28"/>
<rect x="325.2" y="396.4" width="1.8" height="1.8" fill="#ffc050" opacity="0.28"/>
<rect x="321.5" y="420.5" width="2.0" height="2.0" fill="#e07018" opacity="0.32"/>
<rect x="299.9" y="388.6" width="2.0" height="2.0" fill="#b84a10" opacity="0.42"/>
<rect x="287.8" y="385.6" width="2.6" height="2.6" fill="#ffc050" opacity="0.18"/>
<rect x="306.7" y="421.0" width="2.0" height="2.0" fill="#b84a10" opacity="0.31"/>
<rect x="315.6" y="412.4" width="2.1" height="2.1" fill="#f09030" opacity="0.17"/>
<rect x="287.4" y="418.8" width="2.4" height="2.4" fill="#f8a038" opacity="0.23"/>
<rect x="301.6" y="409.6" width="1.5" height="1.5" fill="#f09030" opacity="0.19"/>
<rect x="306.0" y="384.0" width="1.8" height="1.8" fill="#ffc050" opacity="0.19"/>
<rect x="288.1" y="408.8" width="1.6" height="1.6" fill="#b84a10" opacity="0.31"/>
<rect x="314.2" y="398.1" width="2.4" height="2.4" fill="#f8a038" opacity="0.21"/>
<rect x="306.9" y="390.3" width="2.5" height="2.5" fill="#f8a038" opacity="0.31"/>
<rect x="287.6" y="392.3" width="2.2" height="2.2" fill="#ffc050" opacity="0.43"/>
<rect x="308.0" y="423.9" width="2.0" height="2.0" fill="#e07018" opacity="0.39"/>
<rect x="325.9" y="386.6" width="1.7" height="1.7" fill="#b84a10" opacity="0.29"/>
<rect x="313.5" y="420.3" width="2.2" height="2.2" fill="#b84a10" opacity="0.35"/>
<rect x="308.1" y="416.6" width="2.1" height="2.1" fill="#ffc050" opacity="0.35"/>
<rect x="295.0" y="412.6" width="1.8" height="1.8" fill="#f8a038" opacity="0.42"/>
<rect x="329.1" y="423.1" width="2.8" height="2.8" fill="#f09030" opacity="0.43"/>
<rect x="297.5" y="412.4" width="2.0" height="2.0" fill="#f8a038" opacity="0.17"/>
<rect x="305.4" y="405.6" width="2.1" height="2.1" fill="#ffc050" opacity="0.16"/>
<rect x="321.6" y="385.6" width="1.7" height="1.7" fill="#f8a038" opacity="0.25"/>
<rect x="320.7" y="388.8" width="2.8" height="2.8" fill="#e07018" opacity="0.42"/>
<rect x="308.8" y="410.8" width="2.7" height="2.7" fill="#b84a10" opacity="0.30"/>
<rect x="327.8" y="386.5" width="2.1" height="2.1" fill="#e07018" opacity="0.32"/>
<rect x="322.6" y="406.0" width="2.2" height="2.2" fill="#e07018" opacity="0.40"/>
<rect x="310.6" y="395.8" width="2.7" height="2.7" fill="#b84a10" opacity="0.41"/>
<rect x="312.8" y="395.5" width="2.8" height="2.8" fill="#e07018" opacity="0.31"/>
<rect x="311.2" y="391.2" width="1.6" height="1.6" fill="#f09030" opacity="0.15"/>
<rect x="302.6" y="405.1" width="2.2" height="2.2" fill="#f8a038" opacity="0.27"/>
<rect x="321.2" y="406.1" width="1.6" height="1.6" fill="#b84a10" opacity="0.20"/>
<rect x="327.0" y="401.8" width="1.8" height="1.8" fill="#b84a10" opacity="0.29"/>
<rect x="291.6" y="400.8" width="2.2" height="2.2" fill="#b84a10" opacity="0.18"/>
<rect x="304.5" y="384.2" width="1.7" height="1.7" fill="#ffc050" opacity="0.38"/>
<rect x="287.0" y="391.0" width="1.5" height="1.5" fill="#e07018" opacity="0.24"/>
<rect x="317.8" y="393.0" width="1.6" height="1.6" fill="#b84a10" opacity="0.37"/>
<rect x="291.4" y="403.9" width="2.4" height="2.4" fill="#ffc050" opacity="0.36"/>
<rect x="324.7" y="384.0" width="2.6" height="2.6" fill="#b84a10" opacity="0.33"/>
<rect x="309.7" y="418.4" width="2.3" height="2.3" fill="#f09030" opacity="0.31"/>
<rect x="323.5" y="408.1" width="1.8" height="1.8" fill="#e07018" opacity="0.37"/>
<rect x="321.7" y="420.0" width="2.3" height="2.3" fill="#ffc050" opacity="0.42"/>
<rect x="294.6" y="414.9" width="2.7" height="2.7" fill="#e07018" opacity="0.19"/>
<rect x="296.5" y="412.8" width="2.0" height="2.0" fill="#ffc050" opacity="0.28"/>
<rect x="327.4" y="405.3" width="1.8" height="1.8" fill="#e07018" opacity="0.34"/>
<rect x="321.1" y="386.9" width="2.4" height="2.4" fill="#f09030" opacity="0.42"/>
<rect x="328.6" y="387.7" width="2.3" height="2.3" fill="#f09030" opacity="0.25"/>
<rect x="329.9" y="417.2" width="2.1" height="2.1" fill="#f8a038" opacity="0.16"/>
<rect x="319.5" y="408.1" width="2.1" height="2.1" fill="#f09030" opacity="0.21"/>
<rect x="291.1" y="390.1" width="2.8" height="2.8" fill="#e07018" opacity="0.43"/>
<rect x="290.2" y="385.5" width="1.6" height="1.6" fill="#b84a10" opacity="0.18"/>
<rect x="303.2" y="400.5" width="2.1" height="2.1" fill="#ffc050" opacity="0.33"/>
<rect x="286.6" y="411.7" width="1.7" height="1.7" fill="#e07018" opacity="0.29"/>
<rect x="318.5" y="399.6" width="2.3" height="2.3" fill="#e07018" opacity="0.18"/>
<rect x="320.9" y="396.3" width="2.5" height="2.5" fill="#f8a038" opacity="0.36"/>
<rect x="323.9" y="408.8" width="2.2" height="2.2" fill="#b84a10" opacity="0.21"/>
<rect x="311.7" y="397.0" width="1.9" height="1.9" fill="#ffc050" opacity="0.18"/>
<rect x="318.7" y="389.6" width="1.7" height="1.7" fill="#b84a10" opacity="0.25"/>
<rect x="309.7" y="398.2" width="2.5" height="2.5" fill="#b84a10" opacity="0.27"/>
<rect x="317.8" y="385.9" width="1.9" height="1.9" fill="#ffc050" opacity="0.18"/>
<rect x="325.1" y="423.6" width="1.6" height="1.6" fill="#f09030" opacity="0.23"/>
<rect x="328.3" y="395.3" width="2.4" height="2.4" fill="#e07018" opacity="0.32"/>
<rect x="309.5" y="399.0" width="2.3" height="2.3" fill="#b84a10" opacity="0.36"/>
<rect x="319.5" y="423.2" width="1.6" height="1.6" fill="#f8a038" opacity="0.18"/>
<rect x="296.4" y="401.2" width="1.6" height="1.6" fill="#f09030" opacity="0.21"/>
<rect x="302.5" y="387.0" width="1.9" height="1.9" fill="#ffc050" opacity="0.25"/>
<rect x="309.8" y="400.0" width="2.2" height="2.2" fill="#f09030" opacity="0.45"/>
<rect x="314.1" y="416.2" width="2.2" height="2.2" fill="#f8a038" opacity="0.35"/>
<rect x="328.0" y="398.8" width="2.0" height="2.0" fill="#e07018" opacity="0.44"/>
<rect x="323.6" y="405.2" width="1.6" height="1.6" fill="#f09030" opacity="0.43"/>
<rect x="304.5" y="404.6" width="1.9" height="1.9" fill="#f09030" opacity="0.31"/>
<rect x="307.3" y="394.1" width="2.4" height="2.4" fill="#ffc050" opacity="0.37"/>
<rect x="287.2" y="414.7" width="1.6" height="1.6" fill="#f09030" opacity="0.20"/>
<rect x="319.2" y="399.0" width="2.5" height="2.5" fill="#ffc050" opacity="0.17"/>
<rect x="329.5" y="421.7" width="2.5" height="2.5" fill="#f8a038" opacity="0.22"/>
<rect x="317.6" y="393.3" width="1.6" height="1.6" fill="#e07018" opacity="0.18"/>
<rect x="321.6" y="420.3" width="2.8" height="2.8" fill="#e07018" opacity="0.40"/>
<rect x="312.6" y="387.7" width="2.0" height="2.0" fill="#f09030" opacity="0.19"/>
<rect x="323.9" y="397.6" width="1.7" height="1.7" fill="#e07018" opacity="0.28"/>
<rect x="315.4" y="401.7" width="2.3" height="2.3" fill="#ffc050" opacity="0.35"/>
<rect x="302.0" y="413.5" width="2.7" height="2.7" fill="#e07018" opacity="0.37"/>
<rect x="296.5" y="387.7" width="2.5" height="2.5" fill="#ffc050" opacity="0.34"/>
<rect x="301.8" y="394.1" width="2.4" height="2.4" fill="#f09030" opacity="0.21"/>
<rect x="298.3" y="392.8" width="2.2" height="2.2" fill="#e07018" opacity="0.35"/>
<rect x="294.6" y="411.0" width="1.5" height="1.5" fill="#f8a038" opacity="0.23"/>
<rect x="287.2" y="384.6" width="2.2" height="2.2" fill="#e07018" opacity="0.17"/>
<rect x="289.8" y="410.7" width="1.8" height="1.8" fill="#f09030" opacity="0.44"/>
<rect x="307.3" y="397.5" width="1.9" height="1.9" fill="#ffc050" opacity="0.37"/>
<rect x="322.9" y="386.0" width="2.1" height="2.1" fill="#f8a038" opacity="0.40"/>
<rect x="322.9" y="414.5" width="2.1" height="2.1" fill="#b84a10" opacity="0.23"/>
<rect x="321.6" y="398.1" width="1.9" height="1.9" fill="#f09030" opacity="0.31"/>
<rect x="318.8" y="420.8" width="2.3" height="2.3" fill="#b84a10" opacity="0.32"/>
<rect x="306.3" y="396.3" width="1.6" height="1.6" fill="#f09030" opacity="0.32"/>
<rect x="307.3" y="411.1" width="2.6" height="2.6" fill="#ffc050" opacity="0.15"/>
<rect x="299.6" y="420.3" width="1.6" height="1.6" fill="#f09030" opacity="0.24"/>
<rect x="317.9" y="411.5" width="2.6" height="2.6" fill="#ffc050" opacity="0.22"/>
<rect x="314.9" y="396.4" width="1.9" height="1.9" fill="#f8a038" opacity="0.28"/>
<rect x="312.2" y="420.0" width="2.1" height="2.1" fill="#ffc050" opacity="0.39"/>
<rect x="299.4" y="396.0" width="2.8" height="2.8" fill="#b84a10" opacity="0.37"/>
<rect x="308.7" y="386.5" width="1.5" height="1.5" fill="#ffc050" opacity="0.35"/>
<rect x="311.7" y="415.6" width="2.0" height="2.0" fill="#f09030" opacity="0.27"/>
<rect x="292.8" y="407.2" width="1.7" height="1.7" fill="#e07018" opacity="0.38"/>
<rect x="324.8" y="394.5" width="1.8" height="1.8" fill="#f8a038" opacity="0.17"/>
<rect x="293.0" y="395.1" width="2.3" height="2.3" fill="#f8a038" opacity="0.39"/>
<rect x="288.8" y="405.4" width="1.6" height="1.6" fill="#f09030" opacity="0.17"/>
<rect x="318.4" y="419.9" width="1.5" height="1.5" fill="#f8a038" opacity="0.35"/>
<rect x="290.3" y="416.5" width="1.8" height="1.8" fill="#b84a10" opacity="0.22"/>
<rect x="319.7" y="404.4" width="2.0" height="2.0" fill="#b84a10" opacity="0.25"/>
<rect x="328.6" y="410.6" width="2.1" height="2.1" fill="#b84a10" opacity="0.39"/>
<rect x="289.2" y="408.3" width="2.0" height="2.0" fill="#f8a038" opacity="0.40"/>
<rect x="315.3" y="418.0" width="2.6" height="2.6" fill="#b84a10" opacity="0.42"/>
<rect x="328.1" y="409.3" width="2.0" height="2.0" fill="#f09030" opacity="0.15"/>
<rect x="290.8" y="420.9" width="1.8" height="1.8" fill="#e07018" opacity="0.20"/>
<rect x="313.9" y="411.0" width="1.8" height="1.8" fill="#ffc050" opacity="0.28"/>
<rect x="298.8" y="422.8" width="2.1" height="2.1" fill="#f8a038" opacity="0.37"/>
<rect x="299.4" y="389.4" width="2.7" height="2.7" fill="#e07018" opacity="0.38"/>
<rect x="286.8" y="402.7" width="1.9" height="1.9" fill="#f8a038" opacity="0.21"/>
<rect x="301.8" y="407.1" width="2.4" height="2.4" fill="#f09030" opacity="0.33"/>
<rect x="295.9" y="390.6" width="2.0" height="2.0" fill="#ffc050" opacity="0.42"/>
<rect x="327.2" y="408.7" width="2.1" height="2.1" fill="#f09030" opacity="0.23"/>
<rect x="325.0" y="420.5" width="2.4" height="2.4" fill="#ffc050" opacity="0.38"/>
<rect x="290.1" y="418.4" width="1.6" height="1.6" fill="#b84a10" opacity="0.43"/>
<rect x="321.3" y="398.8" width="2.5" height="2.5" fill="#f09030" opacity="0.38"/>
<rect x="320.7" y="385.4" width="2.7" height="2.7" fill="#e07018" opacity="0.41"/>
<rect x="325.8" y="401.5" width="2.4" height="2.4" fill="#e07018" opacity="0.33"/>
<rect x="292.9" y="389.4" width="1.7" height="1.7" fill="#ffc050" opacity="0.42"/>
<rect x="321.6" y="388.4" width="1.8" height="1.8" fill="#f09030" opacity="0.31"/>
<rect x="292.6" y="414.6" width="1.8" height="1.8" fill="#f8a038" opacity="0.42"/>
<rect x="292.6" y="388.3" width="1.9" height="1.9" fill="#ffc050" opacity="0.36"/>
<rect x="290.3" y="402.7" width="1.6" height="1.6" fill="#b84a10" opacity="0.37"/>
<rect x="309.9" y="403.7" width="2.5" height="2.5" fill="#f8a038" opacity="0.28"/>
<rect x="326.3" y="386.7" width="1.8" height="1.8" fill="#b84a10" opacity="0.31"/>
<rect x="309.1" y="389.5" width="1.9" height="1.9" fill="#ffc050" opacity="0.27"/>
<rect x="310.5" y="423.9" width="2.0" height="2.0" fill="#f8a038" opacity="0.36"/>
<rect x="290.7" y="399.2" width="2.5" height="2.5" fill="#b84a10" opacity="0.39"/>
<rect x="291.4" y="401.3" width="2.4" height="2.4" fill="#b84a10" opacity="0.29"/>
<rect x="298.9" y="387.6" width="2.6" height="2.6" fill="#f8a038" opacity="0.40"/>
<rect x="317.6" y="420.0" width="1.9" height="1.9" fill="#e07018" opacity="0.26"/>
<rect x="309.7" y="395.2" width="2.5" height="2.5" fill="#ffc050" opacity="0.32"/>
<rect x="289.8" y="390.7" width="2.5" height="2.5" fill="#b84a10" opacity="0.25"/>
<rect x="327.6" y="406.1" width="2.1" height="2.1" fill="#ffc050" opacity="0.26"/>
<rect x="290.5" y="408.5" width="2.4" height="2.4" fill="#e07018" opacity="0.36"/>
<rect x="293.9" y="399.5" width="2.3" height="2.3" fill="#b84a10" opacity="0.18"/>
<rect x="296.0" y="389.4" width="2.1" height="2.1" fill="#f8a038" opacity="0.38"/>
<rect x="301.0" y="416.8" width="1.7" height="1.7" fill="#f09030" opacity="0.21"/>
<rect x="292.5" y="411.3" width="1.9" height="1.9" fill="#b84a10" opacity="0.27"/>
<rect x="286.7" y="399.4" width="2.8" height="2.8" fill="#ffc050" opacity="0.39"/>
<rect x="315.1" y="408.0" width="1.8" height="1.8" fill="#f8a038" opacity="0.21"/>
<rect x="299.5" y="401.1" width="2.0" height="2.0" fill="#f09030" opacity="0.30"/>
<rect x="320.7" y="416.8" width="2.4" height="2.4" fill="#f09030" opacity="0.23"/>
<rect x="309.7" y="395.2" width="2.0" height="2.0" fill="#e07018" opacity="0.30"/>
<rect x="292.2" y="412.3" width="2.8" height="2.8" fill="#f09030" opacity="0.36"/>
<rect x="327.2" y="406.3" width="2.3" height="2.3" fill="#f8a038" opacity="0.21"/>
<rect x="289.7" y="393.0" width="2.0" height="2.0" fill="#f09030" opacity="0.25"/>
<rect x="290.0" y="418.8" width="2.1" height="2.1" fill="#ffc050" opacity="0.19"/>
<rect x="328.8" y="388.6" width="2.2" height="2.2" fill="#f09030" opacity="0.32"/>
<rect x="310.7" y="393.8" width="2.3" height="2.3" fill="#ffc050" opacity="0.19"/>
<rect x="322.3" y="394.8" width="1.8" height="1.8" fill="#ffc050" opacity="0.32"/>
<rect x="322.6" y="390.6" width="2.6" height="2.6" fill="#f09030" opacity="0.29"/>
<rect x="303.7" y="415.1" width="1.9" height="1.9" fill="#e07018" opacity="0.35"/>
<rect x="318.5" y="398.6" width="2.3" height="2.3" fill="#f09030" opacity="0.38"/>
<rect x="293.0" y="399.9" width="1.7" height="1.7" fill="#f8a038" opacity="0.27"/>
<rect x="311.1" y="390.1" width="1.7" height="1.7" fill="#f09030" opacity="0.22"/>
<rect x="327.0" y="385.2" width="2.4" height="2.4" fill="#f8a038" opacity="0.39"/>
<rect x="303.7" y="403.4" width="2.1" height="2.1" fill="#f8a038" opacity="0.27"/>
<rect x="313.4" y="411.3" width="2.5" height="2.5" fill="#b84a10" opacity="0.30"/>
<rect x="329.8" y="417.4" width="2.6" height="2.6" fill="#b84a10" opacity="0.19"/>
<rect x="291.0" y="421.5" width="2.2" height="2.2" fill="#ffc050" opacity="0.28"/>
<rect x="325.8" y="396.1" width="1.9" height="1.9" fill="#f8a038" opacity="0.33"/>
<rect x="305.1" y="398.4" width="2.5" height="2.5" fill="#ffc050" opacity="0.24"/>
<rect x="312.1" y="385.9" width="2.6" height="2.6" fill="#f8a038" opacity="0.22"/>
<rect x="324.4" y="422.9" width="2.4" height="2.4" fill="#b84a10" opacity="0.31"/>
<rect x="296.5" y="395.6" width="2.7" height="2.7" fill="#b84a10" opacity="0.41"/>
<rect x="330.0" y="413.0" width="2.6" height="2.6" fill="#ffc050" opacity="0.28"/>
<rect x="321.4" y="392.1" width="2.2" height="2.2" fill="#b84a10" opacity="0.42"/>
<rect x="290.3" y="415.5" width="2.6" height="2.6" fill="#f8a038" opacity="0.32"/>
<rect x="305.9" y="395.1" width="1.5" height="1.5" fill="#ffc050" opacity="0.20"/>
<rect x="305.4" y="401.5" width="2.0" height="2.0" fill="#f09030" opacity="0.26"/>
<rect x="311.8" y="384.9" width="2.1" height="2.1" fill="#f8a038" opacity="0.24"/>
<rect x="300.3" y="388.9" width="2.6" height="2.6" fill="#b84a10" opacity="0.21"/>
<rect x="323.8" y="411.4" width="1.8" height="1.8" fill="#f8a038" opacity="0.40"/>
<rect x="301.6" y="402.4" width="2.3" height="2.3" fill="#e07018" opacity="0.36"/>
<rect x="310.6" y="404.9" width="1.7" height="1.7" fill="#e07018" opacity="0.41"/>
<rect x="288.2" y="387.4" width="2.7" height="2.7" fill="#ffc050" opacity="0.23"/>
<rect x="304.5" y="419.0" width="2.4" height="2.4" fill="#ffc050" opacity="0.43"/>
<rect x="305.6" y="386.2" width="2.6" height="2.6" fill="#e07018" opacity="0.19"/>
<rect x="316.4" y="394.0" width="2.2" height="2.2" fill="#e07018" opacity="0.24"/>
<rect x="298.0" y="416.0" width="2.6" height="2.6" fill="#f09030" opacity="0.33"/>
<rect x="296.1" y="395.3" width="2.4" height="2.4" fill="#e07018" opacity="0.23"/>
<rect x="314.2" y="386.7" width="2.1" height="2.1" fill="#f8a038" opacity="0.31"/>
<rect x="309.4" y="384.9" width="2.3" height="2.3" fill="#f09030" opacity="0.31"/>
<rect x="304.6" y="406.3" width="1.9" height="1.9" fill="#e07018" opacity="0.38"/>
<rect x="296.8" y="394.4" width="1.5" height="1.5" fill="#f09030" opacity="0.39"/>
<rect x="292.6" y="419.8" width="2.1" height="2.1" fill="#f09030" opacity="0.38"/>
<rect x="302.9" y="421.1" width="1.6" height="1.6" fill="#b84a10" opacity="0.17"/>
<rect x="320.2" y="420.3" width="2.4" height="2.4" fill="#ffc050" opacity="0.38"/>
<rect x="308.7" y="403.7" width="2.5" height="2.5" fill="#f09030" opacity="0.31"/>
<rect x="312.1" y="414.6" width="2.3" height="2.3" fill="#f8a038" opacity="0.22"/>
<rect x="305.4" y="414.7" width="1.8" height="1.8" fill="#e07018" opacity="0.31"/>
<rect x="323.5" y="407.7" width="1.5" height="1.5" fill="#ffc050" opacity="0.33"/>
<rect x="317.4" y="406.5" width="1.9" height="1.9" fill="#e07018" opacity="0.33"/>
<rect x="312.8" y="416.1" width="2.1" height="2.1" fill="#f09030" opacity="0.23"/>
<rect x="321.1" y="386.0" width="2.2" height="2.2" fill="#e07018" opacity="0.31"/>
<rect x="320.8" y="392.8" width="1.6" height="1.6" fill="#e07018" opacity="0.28"/>
<rect x="316.6" y="416.6" width="2.5" height="2.5" fill="#f09030" opacity="0.38"/>
<rect x="307.9" y="409.7" width="1.7" height="1.7" fill="#f09030" opacity="0.23"/>
<rect x="293.0" y="411.3" width="2.5" height="2.5" fill="#f09030" opacity="0.17"/>
<rect x="304.1" y="397.9" width="2.4" height="2.4" fill="#e07018" opacity="0.44"/>
<rect x="291.7" y="414.0" width="2.8" height="2.8" fill="#f09030" opacity="0.19"/>
<rect x="306.0" y="413.5" width="1.5" height="1.5" fill="#f8a038" opacity="0.27"/>
<rect x="309.1" y="386.7" width="1.9" height="1.9" fill="#f09030" opacity="0.28"/>
<rect x="289.4" y="384.4" width="1.8" height="1.8" fill="#f09030" opacity="0.23"/>
<rect x="310.3" y="392.9" width="1.6" height="1.6" fill="#b84a10" opacity="0.22"/>
<rect x="299.6" y="421.8" width="1.8" height="1.8" fill="#f09030" opacity="0.20"/>
<rect x="311.8" y="423.8" width="2.2" height="2.2" fill="#ffc050" opacity="0.42"/>
<rect x="324.9" y="420.9" width="2.1" height="2.1" fill="#e07018" opacity="0.27"/>
</g>
<ellipse cx="286" cy="410" rx="5" ry="10" fill="#3a0800" opacity="0.8" filter="url(#blur2)"/>
<g clip-path="url(#cb)">
<ellipse cx="303" cy="395" rx="9" ry="3.5" transform="rotate(-20 303 395)" fill="#9a2a08" opacity="0.5" filter="url(#blur1)"/>
<ellipse cx="304" cy="408" rx="13" ry="10" fill="#ffb848" opacity="0.95" filter="url(#blur2)"/>
<ellipse cx="303" cy="409" rx="9" ry="7" fill="#ffe090" opacity="0.75" filter="url(#blur1)"/>
<ellipse cx="300" cy="411" rx="4.5" ry="3.5" fill="#fff0c0" opacity="0.5" filter="url(#blur1)"/>
<ellipse cx="318" cy="412" rx="6" ry="5" fill="#f8a038" opacity="0.7" filter="url(#blur1)"/>
<ellipse cx="322.5" cy="395" rx="4.2" ry="9.5" fill="#ffd868" opacity="0.95" filter="url(#blur1)"/>
<ellipse cx="322.5" cy="390" rx="2.4" ry="3.2" fill="#fff0a0" opacity="0.85" filter="url(#blur05)"/>
<path d="M318.2,390 C315.8,395 315.3,401 316.3,407" fill="none" stroke="#8a2806" stroke-width="2.0" opacity="0.55" filter="url(#blur1)"/>
<ellipse cx="310" cy="395.5" rx="5" ry="3" fill="#b04010" opacity="0.4" filter="url(#blur1)"/>
</g>
</g>
<text x="286.00" y="373.90" font-size="10.3" text-anchor="start" font-weight="bold" fill="#fff">WT</text>
<rect x="336.4" y="361.9" width="51.6" height="78.2" fill="#04020a"/>
<g filter="url(#blur05)">
<rect x="360.2" y="399.7" width="1.0" height="1.0" fill="#3a1208" opacity="0.24"/>
<rect x="354.2" y="404.9" width="0.9" height="0.9" fill="#3a2a08" opacity="0.21"/>
<rect x="367.6" y="380.4" width="1.0" height="1.0" fill="#2a3208" opacity="0.29"/>
<rect x="383.7" y="402.5" width="1.0" height="1.0" fill="#3a1208" opacity="0.12"/>
<rect x="362.3" y="431.6" width="0.9" height="0.9" fill="#3a2a08" opacity="0.24"/>
<rect x="375.9" y="429.5" width="1.0" height="1.0" fill="#2a3208" opacity="0.14"/>
<rect x="376.1" y="429.6" width="1.3" height="1.3" fill="#2a3208" opacity="0.18"/>
<rect x="354.4" y="380.5" width="1.3" height="1.3" fill="#3a2a08" opacity="0.28"/>
<rect x="340.6" y="400.0" width="1.0" height="1.0" fill="#2a3208" opacity="0.15"/>
<rect x="373.3" y="427.3" width="0.9" height="0.9" fill="#3a2a08" opacity="0.25"/>
<rect x="361.2" y="388.7" width="1.8" height="1.8" fill="#e03020"/>
<rect x="353.9" y="400.8" width="1.5" height="1.5" fill="#d86020"/>
<rect x="367.4" y="417.4" width="1.8" height="1.8" fill="#a08a18"/>
<rect x="353.1" y="428.7" width="1.6" height="1.6" fill="#e07020"/>
<rect x="355.4" y="427.8" width="1.5" height="1.5" fill="#e08020"/>
<rect x="374.0" y="408.4" width="2.0" height="2.0" fill="#403808"/>
<rect x="369.2" y="387.2" width="1.5" height="1.5" fill="#203808"/>
</g>
<text x="342.50" y="373.60" font-size="10.0" text-anchor="start" font-weight="bold" fill="#fff">TFPI</text>
<text x="364.60" y="369.30" font-size="6.0" text-anchor="start" font-weight="normal" fill="#e8e8e8" stroke="#e8e8e8" stroke-width="0.18">ΔK1</text>
<rect x="373.0" y="435.9" width="12.0" height="1.9" fill="#fff"/>
<rect x="0.6" y="0.6" width="518.8" height="458.8" fill="none" stroke="#000" stroke-width="1.3"/>
</svg>
</body></html>
